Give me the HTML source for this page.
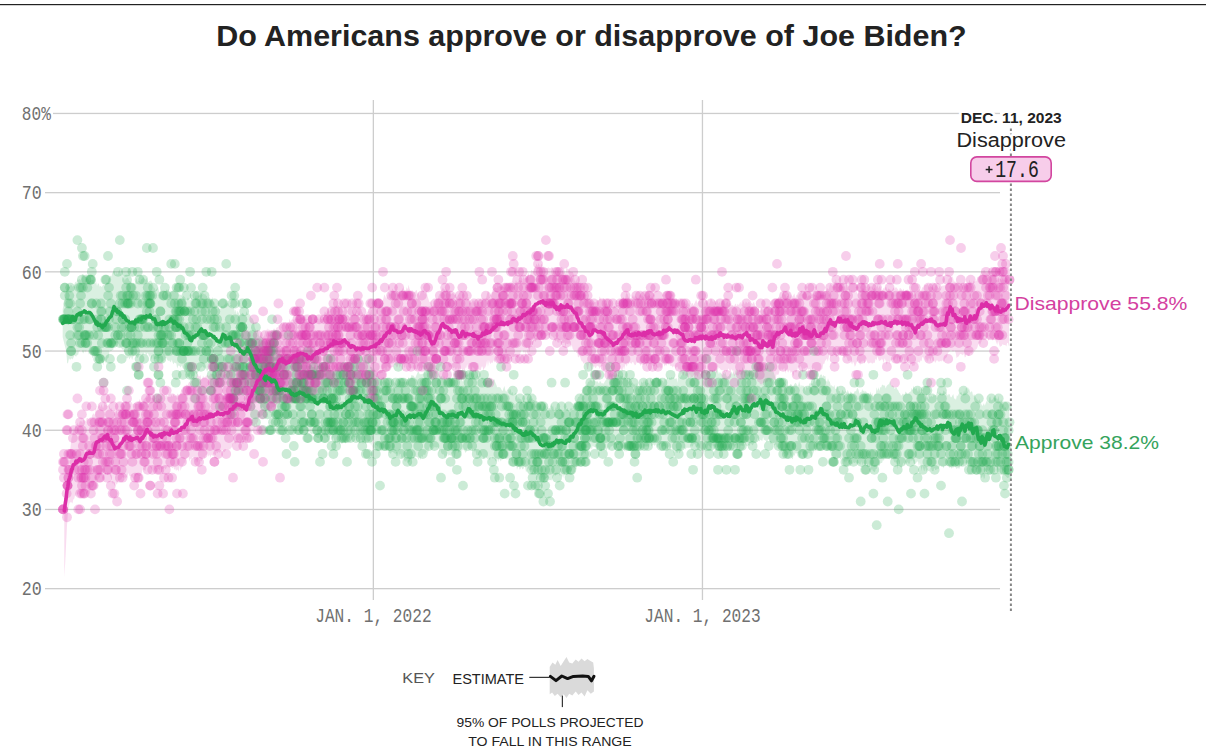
<!DOCTYPE html>
<html><head><meta charset="utf-8"><title>Do Americans approve or disapprove of Joe Biden?</title>
<style>html,body{margin:0;padding:0;background:#fff}svg{display:block}text{font-family:"Liberation Sans",sans-serif}.m{font-family:"Liberation Mono",monospace}circle{r:4.9px}</style></head><body>
<svg width="1206" height="751" viewBox="0 0 1206 751">
<rect width="1206" height="751" fill="#fff"/>
<rect x="0" y="4" width="1206" height="1.2" fill="#222"/>
<text x="591.4" y="45.8" text-anchor="middle" font-weight="bold" font-size="28.6" fill="#222" textLength="750.5" lengthAdjust="spacingAndGlyphs">Do Americans approve or disapprove of Joe Biden?</text>
<rect x="45" y="588.0" width="955" height="1.3" fill="#cdcdcd"/>
<rect x="45" y="508.8" width="955" height="1.3" fill="#cdcdcd"/>
<rect x="45" y="429.6" width="955" height="1.3" fill="#cdcdcd"/>
<rect x="45" y="350.4" width="955" height="1.3" fill="#cdcdcd"/>
<rect x="45" y="271.2" width="955" height="1.3" fill="#cdcdcd"/>
<rect x="45" y="192.0" width="955" height="1.3" fill="#cdcdcd"/>
<rect x="45" y="112.8" width="955" height="1.3" fill="#cdcdcd"/>
<rect x="372.7" y="100" width="1.3" height="500" fill="#cdcdcd"/>
<rect x="701.8" y="100" width="1.3" height="500" fill="#cdcdcd"/>
<path d="M62.7,309.3 63.6,304.8 64.5,300.4 65.4,295.9 66.3,291.5 67.2,287.5 68.1,284.1 69.0,287.3 69.9,286.6 70.8,284.5 71.7,285.6 72.6,286.7 73.5,285.8 74.4,284.5 75.3,281.5 76.2,283.1 77.1,280.0 78.0,279.2 78.9,280.1 79.8,278.8 80.7,280.5 81.6,275.7 82.5,273.9 83.4,274.2 84.3,276.3 85.2,277.0 86.1,276.8 87.0,277.1 87.9,278.6 88.8,279.7 89.7,281.6 90.6,280.3 91.5,280.3 92.4,279.9 93.3,279.4 94.2,282.8 95.2,283.4 96.1,281.5 97.0,286.1 97.9,283.2 98.8,283.8 99.7,286.8 100.6,285.8 101.5,286.9 102.4,286.3 103.3,284.6 104.2,285.6 105.1,284.7 106.0,283.8 106.9,282.5 107.8,282.4 108.7,278.4 109.6,277.6 110.5,275.5 111.4,276.5 112.3,272.8 113.2,272.1 114.1,270.1 115.0,273.0 115.9,275.6 116.8,272.0 117.7,274.8 118.6,271.2 119.5,269.3 120.4,272.7 121.3,274.7 122.2,273.1 123.1,277.9 124.0,278.4 124.9,280.7 125.8,278.6 126.7,278.2 127.6,277.4 128.5,278.8 129.4,281.0 130.3,281.5 131.2,281.8 132.1,284.2 133.0,283.6 133.9,282.7 134.8,283.8 135.7,281.4 136.6,277.8 137.5,282.3 138.4,281.1 139.3,280.5 140.2,282.6 141.1,278.9 142.0,279.6 142.9,277.2 143.8,278.0 144.7,279.1 145.6,279.7 146.5,278.1 147.4,280.8 148.3,282.1 149.2,281.3 150.1,281.0 151.0,280.2 151.9,282.0 152.8,283.7 153.7,287.2 154.6,288.0 155.5,290.8 156.4,289.2 157.3,288.6 158.2,287.1 159.1,292.1 160.1,291.2 161.0,289.1 161.9,292.3 162.8,292.1 163.7,292.1 164.6,295.5 165.5,292.5 166.4,289.0 167.3,291.0 168.2,289.1 169.1,290.4 170.0,292.0 170.9,290.5 171.8,291.2 172.7,290.2 173.6,289.5 174.5,287.6 175.4,291.4 176.3,292.8 177.2,292.3 178.1,293.0 179.0,293.5 179.9,295.0 180.8,294.7 181.7,295.7 182.6,297.5 183.5,295.4 184.4,297.0 185.3,297.7 186.2,302.4 187.1,298.4 188.0,297.4 188.9,298.6 189.8,300.4 190.7,299.4 191.6,297.5 192.5,299.5 193.4,298.7 194.3,301.4 195.2,297.6 196.1,294.8 197.0,298.7 197.9,294.4 198.8,295.9 199.7,295.7 200.6,295.1 201.5,293.7 202.4,292.5 203.3,293.5 204.2,294.5 205.1,293.8 206.0,295.5 206.9,296.0 207.8,300.9 208.7,296.7 209.6,297.4 210.5,299.6 211.4,299.3 212.3,297.1 213.2,301.8 214.1,301.7 215.0,303.4 215.9,306.8 216.8,305.2 217.7,308.9 218.6,306.4 219.5,309.1 220.4,309.3 221.3,306.1 222.2,306.1 223.1,306.7 224.1,304.5 225.0,304.7 225.9,301.0 226.8,304.1 227.7,303.3 228.6,304.1 229.5,306.3 230.4,304.9 231.3,305.5 232.2,308.6 233.1,307.3 234.0,308.1 234.9,312.6 235.8,309.5 236.7,314.7 237.6,310.8 238.5,312.8 239.4,315.0 240.3,313.4 241.2,314.9 242.1,312.7 243.0,312.9 243.9,314.4 244.8,315.7 245.7,314.8 246.6,311.1 247.5,314.3 248.4,313.6 249.3,314.2 250.2,315.3 251.1,317.6 252.0,318.1 252.9,319.2 253.8,321.5 254.7,327.2 255.6,329.4 256.5,330.9 257.4,329.8 258.3,332.7 259.2,337.1 260.1,335.3 261.0,336.4 261.9,337.5 262.8,338.0 263.7,339.3 264.6,340.9 265.5,343.3 266.4,341.1 267.3,342.1 268.2,342.2 269.1,342.6 270.0,343.5 270.9,343.3 271.8,349.3 272.7,342.3 273.6,348.9 274.5,347.5 275.4,345.3 276.3,347.3 277.2,346.5 278.1,348.5 279.0,352.5 279.9,350.4 280.8,354.9 281.7,355.4 282.6,355.4 283.5,355.9 284.4,355.3 285.3,357.0 286.2,355.5 287.1,356.0 288.1,357.3 289.0,354.7 289.9,357.1 290.8,359.6 291.7,354.5 292.6,358.6 293.5,358.5 294.4,356.2 295.3,359.6 296.2,363.1 297.1,356.9 298.0,353.9 298.9,357.1 299.8,361.8 300.7,357.6 301.6,359.9 302.5,360.2 303.4,361.4 304.3,364.6 305.2,364.5 306.1,364.0 307.0,362.9 307.9,365.9 308.8,366.6 309.7,365.6 310.6,365.1 311.5,365.0 312.4,366.9 313.3,366.9 314.2,366.5 315.1,367.8 316.0,369.9 316.9,366.3 317.8,365.8 318.7,366.1 319.6,364.8 320.5,365.5 321.4,364.6 322.3,363.5 323.2,367.0 324.1,365.1 325.0,366.4 325.9,367.6 326.8,365.1 327.7,366.8 328.6,367.4 329.5,367.8 330.4,368.3 331.3,372.2 332.2,374.8 333.1,371.3 334.0,372.5 334.9,371.9 335.8,369.0 336.7,370.8 337.6,369.1 338.5,366.6 339.4,367.9 340.3,369.4 341.2,364.4 342.1,369.1 343.0,365.1 343.9,364.7 344.8,362.8 345.7,365.7 346.6,363.5 347.5,362.1 348.4,362.3 349.3,359.3 350.2,359.1 351.1,356.5 352.0,357.3 353.0,357.1 353.9,354.6 354.8,353.7 355.7,355.1 356.6,355.8 357.5,357.9 358.4,357.9 359.3,355.8 360.2,355.2 361.1,356.7 362.0,355.8 362.9,359.9 363.8,359.9 364.7,361.4 365.6,359.5 366.5,361.4 367.4,361.9 368.3,361.9 369.2,361.8 370.1,366.8 371.0,366.9 371.9,367.3 372.8,369.7 373.7,371.8 374.6,368.1 375.5,375.3 376.4,375.5 377.3,376.9 378.2,375.5 379.1,378.5 380.0,378.5 380.9,379.6 381.8,377.5 382.7,377.8 383.6,376.8 384.5,379.4 385.4,382.0 386.3,381.2 387.2,381.7 388.1,383.7 389.0,381.9 389.9,384.8 390.8,385.4 391.7,385.9 392.6,388.9 393.5,385.5 394.4,382.0 395.3,383.2 396.2,383.6 397.1,385.2 398.0,382.5 398.9,377.7 399.8,380.4 400.7,380.5 401.6,381.9 402.5,381.2 403.4,382.0 404.3,380.9 405.2,382.8 406.1,381.2 407.0,383.0 407.9,378.4 408.8,377.2 409.7,380.0 410.6,378.4 411.5,375.0 412.4,375.5 413.3,375.6 414.2,376.7 415.1,378.1 416.0,376.3 417.0,373.8 417.9,371.8 418.8,372.1 419.7,374.2 420.6,374.2 421.5,374.2 422.4,373.7 423.3,374.4 424.2,372.0 425.1,373.4 426.0,371.6 426.9,370.9 427.8,369.7 428.7,367.7 429.6,365.4 430.5,363.2 431.4,364.4 432.3,362.7 433.2,363.6 434.1,365.8 435.0,363.0 435.9,368.2 436.8,367.2 437.7,371.2 438.6,371.7 439.5,375.2 440.4,376.7 441.3,376.3 442.2,375.5 443.1,379.9 444.0,376.1 444.9,378.9 445.8,380.2 446.7,380.4 447.6,380.3 448.5,377.9 449.4,377.7 450.3,378.2 451.2,379.8 452.1,378.7 453.0,377.2 453.9,380.2 454.8,379.3 455.7,380.0 456.6,375.0 457.5,378.4 458.4,380.1 459.3,377.5 460.2,380.6 461.1,378.7 462.0,379.9 462.9,381.7 463.8,377.5 464.7,380.0 465.6,374.8 466.5,375.3 467.4,374.4 468.3,374.7 469.2,373.2 470.1,372.6 471.0,372.2 471.9,372.5 472.8,373.3 473.7,375.2 474.6,377.6 475.5,379.3 476.4,379.1 477.3,374.1 478.2,376.4 479.1,376.3 480.0,379.7 480.9,378.6 481.9,378.5 482.8,377.9 483.7,381.0 484.6,379.5 485.5,382.3 486.4,381.2 487.3,379.5 488.2,380.5 489.1,380.4 490.0,380.6 490.9,378.4 491.8,379.5 492.7,381.4 493.6,379.6 494.5,379.4 495.4,382.7 496.3,384.8 497.2,387.4 498.1,386.7 499.0,387.6 499.9,387.1 500.8,388.3 501.7,389.9 502.6,391.1 503.5,388.3 504.4,385.9 505.3,390.3 506.2,392.0 507.1,389.9 508.0,389.1 508.9,391.9 509.8,389.0 510.7,389.4 511.6,393.8 512.5,391.7 513.4,394.9 514.3,394.9 515.2,393.2 516.1,392.8 517.0,395.8 517.9,399.5 518.8,396.8 519.7,399.0 520.6,399.2 521.5,399.8 522.4,404.0 523.3,400.6 524.2,401.2 525.1,401.4 526.0,401.6 526.9,402.2 527.8,400.8 528.7,399.6 529.6,398.0 530.5,395.6 531.4,399.6 532.3,398.2 533.2,399.9 534.1,400.1 535.0,401.5 535.9,401.1 536.8,400.6 537.7,402.7 538.6,403.4 539.5,406.2 540.4,404.3 541.3,404.0 542.2,409.5 543.1,406.5 544.0,404.9 544.9,403.1 545.9,406.9 546.8,409.3 547.7,406.4 548.6,408.6 549.5,407.7 550.4,408.1 551.3,404.2 552.2,406.9 553.1,405.4 554.0,410.2 554.9,409.8 555.8,407.1 556.7,407.8 557.6,410.0 558.5,410.5 559.4,407.4 560.3,409.3 561.2,409.3 562.1,411.6 563.0,412.1 563.9,412.4 564.8,409.1 565.7,410.3 566.6,409.2 567.5,408.0 568.4,410.7 569.3,411.3 570.2,409.6 571.1,407.4 572.0,409.7 572.9,407.9 573.8,405.5 574.7,402.5 575.6,405.4 576.5,400.4 577.4,399.1 578.3,396.7 579.2,397.1 580.1,394.0 581.0,394.1 581.9,392.5 582.8,389.2 583.7,387.0 584.6,387.2 585.5,385.0 586.4,385.6 587.3,384.0 588.2,381.3 589.1,382.2 590.0,379.2 590.9,380.5 591.8,380.4 592.7,381.8 593.6,379.1 594.5,379.9 595.4,380.8 596.3,381.7 597.2,381.0 598.1,382.2 599.0,383.4 599.9,380.9 600.8,381.8 601.7,383.4 602.6,383.3 603.5,383.7 604.4,382.3 605.3,380.8 606.2,379.6 607.1,377.4 608.0,375.9 608.9,373.4 609.8,373.7 610.8,372.3 611.7,374.4 612.6,373.8 613.5,375.5 614.4,374.8 615.3,375.9 616.2,373.0 617.1,374.5 618.0,374.4 618.9,375.0 619.8,378.6 620.7,375.0 621.6,376.8 622.5,375.4 623.4,378.5 624.3,377.2 625.2,376.6 626.1,379.3 627.0,380.5 627.9,377.4 628.8,382.3 629.7,376.9 630.6,381.8 631.5,383.9 632.4,382.3 633.3,383.4 634.2,385.1 635.1,383.2 636.0,388.0 636.9,382.6 637.8,387.6 638.7,389.2 639.6,389.1 640.5,385.2 641.4,381.2 642.3,383.0 643.2,382.0 644.1,379.0 645.0,382.3 645.9,379.3 646.8,383.2 647.7,382.4 648.6,383.1 649.5,384.4 650.4,377.9 651.3,381.5 652.2,380.7 653.1,380.7 654.0,379.9 654.9,378.6 655.8,378.1 656.7,377.6 657.6,377.7 658.5,377.4 659.4,380.7 660.3,378.4 661.2,378.4 662.1,380.9 663.0,380.5 663.9,382.9 664.8,377.6 665.7,380.0 666.6,379.2 667.5,376.9 668.4,380.1 669.3,377.6 670.2,378.2 671.1,377.8 672.0,376.8 672.9,379.0 673.8,376.7 674.8,379.3 675.7,378.6 676.6,378.3 677.5,382.7 678.4,374.4 679.3,377.5 680.2,377.4 681.1,376.1 682.0,374.7 682.9,371.6 683.8,372.5 684.7,370.3 685.6,374.7 686.5,371.5 687.4,371.6 688.3,368.9 689.2,365.4 690.1,370.0 691.0,371.1 691.9,369.1 692.8,369.7 693.7,370.0 694.6,370.9 695.5,371.1 696.4,369.4 697.3,369.6 698.2,370.7 699.1,372.3 700.0,372.9 700.9,374.1 701.8,370.5 702.7,371.7 703.6,370.4 704.5,369.4 705.4,371.1 706.3,373.0 707.2,371.5 708.1,370.9 709.0,371.1 709.9,372.7 710.8,374.5 711.7,371.1 712.6,370.8 713.5,371.7 714.4,368.9 715.3,372.3 716.2,370.9 717.1,368.3 718.0,371.0 718.9,374.3 719.8,372.1 720.7,373.0 721.6,374.2 722.5,375.0 723.4,372.2 724.3,374.3 725.2,371.5 726.1,374.9 727.0,377.0 727.9,376.6 728.8,376.0 729.7,374.0 730.6,373.5 731.5,371.4 732.4,374.5 733.3,371.5 734.2,374.8 735.1,373.1 736.0,368.7 736.9,370.7 737.8,369.6 738.8,371.9 739.7,369.2 740.6,370.4 741.5,370.9 742.4,366.9 743.3,370.1 744.2,369.4 745.1,372.0 746.0,368.6 746.9,374.3 747.8,373.2 748.7,371.0 749.6,370.1 750.5,371.2 751.4,371.6 752.3,374.6 753.2,372.3 754.1,372.8 755.0,372.1 755.9,371.1 756.8,367.3 757.7,365.8 758.6,368.7 759.5,372.2 760.4,368.6 761.3,364.8 762.2,367.1 763.1,369.3 764.0,368.6 764.9,369.4 765.8,367.2 766.7,368.7 767.6,365.0 768.5,369.8 769.4,371.0 770.3,369.6 771.2,370.9 772.1,371.8 773.0,371.2 773.9,372.7 774.8,376.0 775.7,378.9 776.6,380.0 777.5,379.4 778.4,379.8 779.3,380.3 780.2,379.1 781.1,379.0 782.0,378.5 782.9,383.2 783.8,382.1 784.7,382.8 785.6,384.3 786.5,387.3 787.4,384.4 788.3,386.6 789.2,387.3 790.1,384.3 791.0,384.3 791.9,385.0 792.8,386.2 793.7,385.5 794.6,383.8 795.5,382.7 796.4,383.7 797.3,385.7 798.2,385.6 799.1,380.9 800.0,384.5 800.9,387.1 801.8,385.0 802.7,386.0 803.7,385.7 804.6,387.1 805.5,391.4 806.4,386.6 807.3,387.7 808.2,388.0 809.1,383.8 810.0,383.2 810.9,383.4 811.8,383.4 812.7,383.4 813.6,380.3 814.5,378.0 815.4,382.5 816.3,379.8 817.2,377.0 818.1,380.5 819.0,378.2 819.9,375.5 820.8,374.5 821.7,374.6 822.6,377.0 823.5,374.9 824.4,376.2 825.3,376.1 826.2,380.7 827.1,382.0 828.0,378.2 828.9,381.4 829.8,381.5 830.7,385.8 831.6,385.3 832.5,386.2 833.4,387.1 834.3,384.9 835.2,389.1 836.1,388.8 837.0,386.1 837.9,386.2 838.8,391.1 839.7,391.0 840.6,393.9 841.5,392.9 842.4,389.4 843.3,391.0 844.2,393.0 845.1,391.0 846.0,391.3 846.9,392.4 847.8,389.7 848.7,392.4 849.6,394.8 850.5,391.4 851.4,392.3 852.3,394.1 853.2,394.2 854.1,392.4 855.0,390.8 855.9,391.6 856.8,388.9 857.7,387.8 858.6,390.2 859.5,394.1 860.4,391.9 861.3,392.6 862.2,389.0 863.1,391.3 864.0,390.2 864.9,392.3 865.8,390.8 866.7,392.5 867.7,392.9 868.6,392.9 869.5,395.1 870.4,391.4 871.3,395.1 872.2,393.0 873.1,396.7 874.0,394.7 874.9,394.1 875.8,393.8 876.7,387.2 877.6,391.0 878.5,387.2 879.4,391.0 880.3,387.0 881.2,387.4 882.1,384.5 883.0,385.2 883.9,385.6 884.8,385.5 885.7,388.5 886.6,386.0 887.5,385.1 888.4,384.6 889.3,383.2 890.2,380.6 891.1,386.0 892.0,385.2 892.9,385.8 893.8,386.4 894.7,389.2 895.6,387.4 896.5,387.5 897.4,389.6 898.3,390.4 899.2,392.8 900.1,393.6 901.0,395.8 901.9,394.9 902.8,393.4 903.7,394.6 904.6,394.4 905.5,391.5 906.4,392.4 907.3,394.1 908.2,393.9 909.1,392.2 910.0,392.3 910.9,390.9 911.8,387.7 912.7,390.6 913.6,385.4 914.5,388.6 915.4,388.9 916.3,387.5 917.2,390.2 918.1,392.3 919.0,387.3 919.9,390.9 920.8,392.3 921.7,392.6 922.6,392.0 923.5,393.8 924.4,397.2 925.3,400.1 926.2,393.3 927.1,395.3 928.0,399.5 928.9,398.6 929.8,395.3 930.7,397.2 931.6,395.8 932.6,397.1 933.5,395.0 934.4,395.4 935.3,394.9 936.2,394.7 937.1,391.0 938.0,392.4 938.9,395.0 939.8,391.6 940.7,393.2 941.6,395.5 942.5,394.6 943.4,390.4 944.3,390.9 945.2,393.1 946.1,391.5 947.0,393.9 947.9,395.7 948.8,393.8 949.7,394.6 950.6,397.2 951.5,397.3 952.4,395.6 953.3,393.9 954.2,398.7 955.1,398.5 956.0,399.9 956.9,395.0 957.8,396.3 958.7,393.7 959.6,393.1 960.5,392.4 961.4,392.2 962.3,395.2 963.2,394.6 964.1,390.3 965.0,393.1 965.9,387.9 966.8,388.1 967.7,393.0 968.6,387.6 969.5,389.7 970.4,392.7 971.3,391.2 972.2,391.7 973.1,396.1 974.0,394.0 974.9,395.5 975.8,397.3 976.7,398.9 977.6,400.0 978.5,400.9 979.4,399.3 980.3,402.2 981.2,403.4 982.1,406.0 983.0,405.0 983.9,403.3 984.8,405.7 985.7,403.3 986.6,400.9 987.5,401.7 988.4,403.5 989.3,397.8 990.2,396.3 991.1,400.5 992.0,399.4 992.9,399.4 993.8,396.4 994.7,397.9 995.6,398.2 996.6,398.7 997.5,399.6 998.4,395.8 999.3,400.7 1000.2,401.6 1001.1,399.6 1002.0,401.4 1002.9,404.1 1003.8,404.5 1004.7,408.0 1005.6,407.0 1006.5,409.7 1007.4,411.5 1008.3,408.8 1009.2,411.6 1009.2,477.3 1008.3,477.8 1007.4,477.9 1006.5,476.9 1005.6,476.0 1004.7,475.5 1003.8,470.2 1002.9,472.9 1002.0,468.3 1001.1,469.8 1000.2,466.9 999.3,467.6 998.4,466.1 997.5,470.9 996.6,467.5 995.6,467.0 994.7,466.3 993.8,465.3 992.9,467.4 992.0,466.0 991.1,466.5 990.2,467.9 989.3,470.7 988.4,471.0 987.5,469.9 986.6,472.2 985.7,470.7 984.8,477.6 983.9,479.4 983.0,474.7 982.1,477.4 981.2,477.7 980.3,475.7 979.4,471.5 978.5,472.5 977.6,468.2 976.7,469.7 975.8,468.3 974.9,466.6 974.0,468.0 973.1,467.7 972.2,465.9 971.3,466.5 970.4,464.4 969.5,461.9 968.6,467.7 967.7,461.9 966.8,463.3 965.9,463.1 965.0,464.8 964.1,462.5 963.2,466.2 962.3,463.7 961.4,466.7 960.5,462.9 959.6,468.4 958.7,468.4 957.8,467.7 956.9,469.0 956.0,468.2 955.1,466.0 954.2,464.0 953.3,468.1 952.4,467.2 951.5,468.7 950.6,466.9 949.7,468.1 948.8,466.6 947.9,465.8 947.0,466.3 946.1,465.3 945.2,466.3 944.3,465.7 943.4,468.4 942.5,465.7 941.6,466.4 940.7,465.2 939.8,466.0 938.9,468.6 938.0,469.4 937.1,468.6 936.2,469.9 935.3,470.0 934.4,467.7 933.5,471.0 932.6,471.3 931.6,470.2 930.7,466.3 929.8,471.8 928.9,471.0 928.0,471.0 927.1,469.5 926.2,471.8 925.3,467.5 924.4,471.5 923.5,469.8 922.6,465.8 921.7,471.1 920.8,466.7 919.9,462.6 919.0,466.5 918.1,462.1 917.2,461.2 916.3,462.8 915.4,464.0 914.5,464.8 913.6,462.7 912.7,459.4 911.8,461.6 910.9,458.7 910.0,463.0 909.1,463.9 908.2,463.3 907.3,461.9 906.4,464.3 905.5,461.8 904.6,464.9 903.7,462.4 902.8,464.6 901.9,467.4 901.0,467.5 900.1,466.0 899.2,465.6 898.3,459.9 897.4,469.4 896.5,462.2 895.6,462.6 894.7,462.5 893.8,461.0 892.9,458.1 892.0,459.4 891.1,458.6 890.2,457.3 889.3,459.6 888.4,458.2 887.5,456.4 886.6,457.1 885.7,458.4 884.8,457.3 883.9,461.1 883.0,459.5 882.1,463.1 881.2,462.9 880.3,463.6 879.4,465.9 878.5,465.5 877.6,465.0 876.7,468.9 875.8,469.0 874.9,472.2 874.0,471.5 873.1,471.2 872.2,469.2 871.3,470.2 870.4,465.1 869.5,467.3 868.6,463.3 867.7,467.5 866.7,463.5 865.8,464.7 864.9,465.3 864.0,464.8 863.1,462.7 862.2,465.4 861.3,461.2 860.4,464.8 859.5,463.9 858.6,463.2 857.7,462.7 856.8,464.1 855.9,462.1 855.0,462.9 854.1,462.9 853.2,462.2 852.3,464.5 851.4,463.4 850.5,464.4 849.6,461.6 848.7,463.5 847.8,460.7 846.9,459.9 846.0,462.9 845.1,460.3 844.2,462.9 843.3,459.3 842.4,460.9 841.5,457.6 840.6,459.8 839.7,458.1 838.8,457.8 837.9,457.9 837.0,460.3 836.1,456.3 835.2,459.1 834.3,459.2 833.4,457.4 832.5,456.2 831.6,457.5 830.7,452.8 829.8,450.6 828.9,449.1 828.0,450.3 827.1,449.4 826.2,450.2 825.3,448.7 824.4,441.6 823.5,443.9 822.6,443.0 821.7,446.4 820.8,445.2 819.9,445.7 819.0,445.5 818.1,443.9 817.2,445.9 816.3,447.2 815.4,451.4 814.5,449.0 813.6,452.5 812.7,454.7 811.8,457.9 810.9,456.4 810.0,453.3 809.1,453.2 808.2,453.0 807.3,454.4 806.4,453.0 805.5,455.6 804.6,458.9 803.7,454.4 802.7,455.3 801.8,451.3 800.9,452.8 800.0,457.2 799.1,455.5 798.2,453.0 797.3,453.2 796.4,453.5 795.5,453.0 794.6,456.0 793.7,454.5 792.8,459.3 791.9,458.7 791.0,456.2 790.1,454.1 789.2,452.0 788.3,455.3 787.4,454.3 786.5,456.2 785.6,456.1 784.7,452.3 783.8,454.5 782.9,450.3 782.0,451.8 781.1,450.9 780.2,447.5 779.3,448.4 778.4,448.7 777.5,447.0 776.6,447.4 775.7,444.0 774.8,445.7 773.9,444.7 773.0,444.2 772.1,442.3 771.2,443.8 770.3,443.2 769.4,439.3 768.5,438.7 767.6,441.2 766.7,442.3 765.8,440.9 764.9,439.8 764.0,440.2 763.1,437.1 762.2,441.3 761.3,440.3 760.4,439.8 759.5,441.5 758.6,440.4 757.7,437.8 756.8,440.8 755.9,443.2 755.0,442.6 754.1,442.7 753.2,444.5 752.3,445.4 751.4,443.7 750.5,443.2 749.6,446.1 748.7,445.0 747.8,446.2 746.9,445.6 746.0,446.1 745.1,443.8 744.2,441.7 743.3,446.3 742.4,445.6 741.5,445.6 740.6,445.4 739.7,450.1 738.8,442.9 737.8,445.6 736.9,443.2 736.0,446.0 735.1,444.7 734.2,447.9 733.3,444.9 732.4,445.7 731.5,448.3 730.6,449.6 729.7,451.0 728.8,449.2 727.9,447.3 727.0,450.5 726.1,450.3 725.2,450.5 724.3,450.3 723.4,448.6 722.5,447.7 721.6,448.6 720.7,446.0 719.8,449.4 718.9,446.7 718.0,447.3 717.1,443.8 716.2,447.1 715.3,447.8 714.4,443.8 713.5,446.2 712.6,445.8 711.7,443.7 710.8,447.9 709.9,446.8 709.0,445.9 708.1,445.0 707.2,448.7 706.3,450.4 705.4,451.8 704.5,451.4 703.6,454.4 702.7,448.5 701.8,450.1 700.9,449.3 700.0,447.6 699.1,450.1 698.2,445.2 697.3,447.1 696.4,447.3 695.5,446.6 694.6,444.0 693.7,444.0 692.8,446.2 691.9,447.1 691.0,445.2 690.1,447.3 689.2,448.1 688.3,447.7 687.4,447.7 686.5,447.7 685.6,449.4 684.7,448.2 683.8,448.5 682.9,447.6 682.0,449.6 681.1,450.8 680.2,452.3 679.3,453.5 678.4,450.4 677.5,453.0 676.6,452.7 675.7,451.0 674.8,450.4 673.8,453.2 672.9,451.0 672.0,449.0 671.1,447.0 670.2,451.0 669.3,446.1 668.4,447.4 667.5,450.0 666.6,447.2 665.7,449.0 664.8,445.9 663.9,446.4 663.0,446.2 662.1,448.0 661.2,444.3 660.3,443.7 659.4,445.7 658.5,444.5 657.6,447.1 656.7,447.9 655.8,444.3 654.9,445.8 654.0,445.2 653.1,444.2 652.2,445.5 651.3,446.5 650.4,442.4 649.5,444.7 648.6,447.1 647.7,446.2 646.8,446.5 645.9,446.2 645.0,446.9 644.1,444.9 643.2,448.4 642.3,447.6 641.4,448.1 640.5,449.8 639.6,446.5 638.7,450.7 637.8,448.9 636.9,451.3 636.0,447.8 635.1,450.8 634.2,448.5 633.3,448.4 632.4,448.7 631.5,446.4 630.6,452.2 629.7,450.3 628.8,447.9 627.9,448.9 627.0,447.4 626.1,451.9 625.2,449.9 624.3,451.6 623.4,447.9 622.5,448.4 621.6,447.9 620.7,446.8 619.8,443.7 618.9,445.0 618.0,445.1 617.1,444.5 616.2,449.1 615.3,442.8 614.4,444.7 613.5,444.4 612.6,445.7 611.7,446.6 610.8,446.6 609.8,449.2 608.9,448.6 608.0,447.1 607.1,449.3 606.2,450.9 605.3,448.4 604.4,449.7 603.5,449.5 602.6,448.4 601.7,451.2 600.8,450.6 599.9,450.7 599.0,449.5 598.1,447.2 597.2,450.0 596.3,445.9 595.4,447.2 594.5,446.9 593.6,446.7 592.7,445.7 591.8,449.7 590.9,446.0 590.0,449.6 589.1,443.7 588.2,449.8 587.3,446.9 586.4,449.2 585.5,454.5 584.6,452.7 583.7,453.2 582.8,454.3 581.9,455.7 581.0,459.4 580.1,458.9 579.2,458.8 578.3,461.5 577.4,462.5 576.5,468.9 575.6,469.4 574.7,467.8 573.8,467.8 572.9,466.6 572.0,469.7 571.1,470.9 570.2,472.0 569.3,468.9 568.4,473.2 567.5,472.6 566.6,473.3 565.7,471.8 564.8,473.9 563.9,477.9 563.0,473.4 562.1,477.5 561.2,475.9 560.3,474.3 559.4,475.8 558.5,472.8 557.6,473.9 556.7,473.8 555.8,475.5 554.9,475.8 554.0,474.5 553.1,477.1 552.2,478.7 551.3,480.5 550.4,480.0 549.5,479.9 548.6,479.3 547.7,477.1 546.8,478.0 545.9,478.2 544.9,481.1 544.0,479.1 543.1,481.9 542.2,476.5 541.3,480.9 540.4,475.1 539.5,474.1 538.6,476.0 537.7,477.2 536.8,474.0 535.9,474.8 535.0,473.2 534.1,472.8 533.2,471.6 532.3,474.4 531.4,469.7 530.5,470.6 529.6,470.2 528.7,469.0 527.8,467.6 526.9,471.5 526.0,471.7 525.1,467.3 524.2,466.6 523.3,469.0 522.4,469.2 521.5,467.1 520.6,468.7 519.7,469.8 518.8,466.8 517.9,466.9 517.0,470.1 516.1,463.8 515.2,463.9 514.3,461.5 513.4,459.4 512.5,464.3 511.6,461.1 510.7,458.6 509.8,460.0 508.9,459.9 508.0,457.8 507.1,460.0 506.2,458.8 505.3,459.1 504.4,456.5 503.5,458.7 502.6,459.4 501.7,459.3 500.8,461.6 499.9,459.4 499.0,459.2 498.1,462.3 497.2,458.0 496.3,461.7 495.4,461.0 494.5,458.8 493.6,458.2 492.7,458.8 491.8,457.6 490.9,456.3 490.0,460.3 489.1,459.2 488.2,458.1 487.3,459.4 486.4,457.4 485.5,456.8 484.6,457.9 483.7,459.0 482.8,456.4 481.9,456.8 480.9,454.5 480.0,451.3 479.1,455.1 478.2,455.0 477.3,455.4 476.4,454.8 475.5,450.7 474.6,451.7 473.7,448.6 472.8,452.6 471.9,448.9 471.0,447.7 470.1,448.8 469.2,448.6 468.3,449.0 467.4,447.9 466.5,451.6 465.6,453.0 464.7,450.9 463.8,449.8 462.9,450.5 462.0,449.3 461.1,452.7 460.2,451.8 459.3,451.6 458.4,453.0 457.5,449.2 456.6,450.4 455.7,452.0 454.8,457.9 453.9,454.4 453.0,451.5 452.1,453.5 451.2,455.3 450.3,455.5 449.4,454.9 448.5,455.7 447.6,453.1 446.7,455.8 445.8,455.7 444.9,458.4 444.0,454.8 443.1,454.3 442.2,454.3 441.3,453.0 440.4,449.7 439.5,451.7 438.6,447.9 437.7,447.1 436.8,447.7 435.9,447.0 435.0,447.7 434.1,447.1 433.2,443.1 432.3,447.1 431.4,448.5 430.5,446.9 429.6,446.2 428.7,450.1 427.8,454.3 426.9,451.2 426.0,452.5 425.1,455.3 424.2,454.5 423.3,454.8 422.4,457.6 421.5,455.8 420.6,459.9 419.7,456.9 418.8,460.0 417.9,458.0 417.0,457.0 416.0,456.9 415.1,456.6 414.2,456.7 413.3,458.8 412.4,457.6 411.5,460.3 410.6,459.0 409.7,461.9 408.8,461.7 407.9,463.4 407.0,462.0 406.1,459.8 405.2,462.0 404.3,460.3 403.4,456.5 402.5,458.0 401.6,458.4 400.7,453.9 399.8,453.8 398.9,456.7 398.0,451.5 397.1,454.6 396.2,452.8 395.3,454.6 394.4,453.0 393.5,452.5 392.6,451.9 391.7,451.8 390.8,454.2 389.9,452.3 389.0,453.3 388.1,450.4 387.2,448.6 386.3,451.1 385.4,448.7 384.5,448.8 383.6,447.2 382.7,449.7 381.8,448.8 380.9,448.3 380.0,445.0 379.1,443.4 378.2,447.9 377.3,446.0 376.4,445.3 375.5,445.2 374.6,443.2 373.7,440.2 372.8,439.0 371.9,445.9 371.0,441.2 370.1,444.7 369.2,440.8 368.3,441.4 367.4,440.5 366.5,439.2 365.6,444.2 364.7,442.3 363.8,443.0 362.9,443.4 362.0,441.9 361.1,440.7 360.2,441.7 359.3,443.7 358.4,439.4 357.5,437.5 356.6,440.9 355.7,437.1 354.8,437.2 353.9,436.6 353.0,438.2 352.0,439.7 351.1,435.7 350.2,435.7 349.3,438.3 348.4,438.7 347.5,436.7 346.6,438.1 345.7,443.5 344.8,442.9 343.9,439.8 343.0,442.7 342.1,443.8 341.2,443.6 340.3,442.0 339.4,444.4 338.5,441.0 337.6,442.6 336.7,441.0 335.8,441.9 334.9,444.7 334.0,439.7 333.1,437.0 332.2,440.8 331.3,434.7 330.4,436.1 329.5,437.4 328.6,434.0 327.7,438.1 326.8,436.9 325.9,434.5 325.0,436.6 324.1,434.9 323.2,433.5 322.3,434.4 321.4,437.1 320.5,438.6 319.6,435.2 318.7,438.2 317.8,438.1 316.9,437.5 316.0,436.4 315.1,436.2 314.2,435.0 313.3,433.9 312.4,433.7 311.5,434.0 310.6,433.2 309.7,432.3 308.8,430.6 307.9,433.3 307.0,430.7 306.1,429.8 305.2,429.7 304.3,430.8 303.4,428.1 302.5,428.4 301.6,429.5 300.7,433.0 299.8,429.5 298.9,429.6 298.0,432.2 297.1,427.9 296.2,431.4 295.3,430.6 294.4,430.5 293.5,431.4 292.6,430.5 291.7,428.7 290.8,430.0 289.9,425.8 289.0,426.4 288.1,427.2 287.1,426.6 286.2,428.1 285.3,424.8 284.4,426.2 283.5,425.0 282.6,426.3 281.7,425.0 280.8,423.3 279.9,424.3 279.0,424.2 278.1,419.6 277.2,422.0 276.3,417.4 275.4,417.9 274.5,416.6 273.6,417.1 272.7,415.2 271.8,410.8 270.9,413.4 270.0,412.5 269.1,412.3 268.2,411.0 267.3,410.0 266.4,411.1 265.5,411.3 264.6,409.3 263.7,408.6 262.8,406.8 261.9,407.9 261.0,408.6 260.1,404.7 259.2,401.9 258.3,403.7 257.4,401.3 256.5,397.6 255.6,396.7 254.7,393.8 253.8,392.8 252.9,393.9 252.0,391.4 251.1,388.5 250.2,388.7 249.3,384.4 248.4,387.2 247.5,387.6 246.6,384.8 245.7,386.0 244.8,385.8 243.9,384.5 243.0,380.7 242.1,385.5 241.2,384.5 240.3,382.0 239.4,381.9 238.5,378.2 237.6,380.0 236.7,381.3 235.8,377.2 234.9,378.9 234.0,377.0 233.1,379.0 232.2,376.9 231.3,377.3 230.4,377.5 229.5,375.0 228.6,372.3 227.7,371.7 226.8,371.9 225.9,372.6 225.0,373.5 224.1,372.3 223.1,370.8 222.2,373.4 221.3,374.8 220.4,376.4 219.5,375.0 218.6,376.5 217.7,372.3 216.8,375.8 215.9,377.5 215.0,369.4 214.1,373.9 213.2,371.0 212.3,370.6 211.4,370.7 210.5,371.2 209.6,371.1 208.7,368.6 207.8,370.1 206.9,371.6 206.0,367.5 205.1,369.2 204.2,367.3 203.3,367.6 202.4,366.0 201.5,367.5 200.6,367.7 199.7,370.5 198.8,371.2 197.9,372.5 197.0,373.4 196.1,374.3 195.2,371.7 194.3,375.2 193.4,376.6 192.5,376.1 191.6,378.4 190.7,373.2 189.8,376.5 188.9,376.3 188.0,377.7 187.1,376.2 186.2,371.2 185.3,373.1 184.4,371.3 183.5,368.8 182.6,368.0 181.7,365.2 180.8,367.6 179.9,366.5 179.0,365.6 178.1,365.7 177.2,368.4 176.3,363.3 175.4,363.3 174.5,362.2 173.6,364.2 172.7,362.7 171.8,359.6 170.9,362.2 170.0,361.6 169.1,360.3 168.2,360.9 167.3,359.7 166.4,358.1 165.5,357.9 164.6,360.1 163.7,361.0 162.8,363.7 161.9,361.2 161.0,363.4 160.1,358.5 159.1,357.8 158.2,359.4 157.3,357.0 156.4,358.4 155.5,358.9 154.6,359.5 153.7,358.8 152.8,354.6 151.9,359.8 151.0,357.7 150.1,355.2 149.2,357.1 148.3,353.7 147.4,353.0 146.5,354.9 145.6,353.7 144.7,352.2 143.8,354.4 142.9,355.1 142.0,355.0 141.1,353.1 140.2,355.0 139.3,355.1 138.4,356.8 137.5,357.9 136.6,357.6 135.7,354.7 134.8,354.3 133.9,355.5 133.0,357.3 132.1,360.1 131.2,356.8 130.3,357.7 129.4,359.6 128.5,356.9 127.6,358.2 126.7,358.6 125.8,357.2 124.9,352.0 124.0,352.1 123.1,348.7 122.2,349.9 121.3,347.5 120.4,347.0 119.5,346.8 118.6,343.8 117.7,343.6 116.8,342.5 115.9,343.9 115.0,343.2 114.1,344.8 113.2,350.0 112.3,349.9 111.4,351.0 110.5,351.3 109.6,349.9 108.7,357.5 107.8,358.0 106.9,359.8 106.0,363.4 105.1,361.3 104.2,358.9 103.3,365.3 102.4,362.5 101.5,361.1 100.6,361.2 99.7,362.0 98.8,362.4 97.9,357.6 97.0,357.5 96.1,356.0 95.2,357.0 94.2,355.9 93.3,357.0 92.4,358.3 91.5,353.5 90.6,353.8 89.7,353.0 88.8,354.4 87.9,349.6 87.0,351.8 86.1,349.9 85.2,352.5 84.3,350.2 83.4,353.4 82.5,352.2 81.6,350.3 80.7,350.1 79.8,351.2 78.9,351.3 78.0,355.6 77.1,354.5 76.2,356.7 75.3,355.9 74.4,355.3 73.5,357.6 72.6,359.5 71.7,358.2 70.8,359.3 69.9,359.8 69.0,358.2 68.1,362.7 67.2,363.4 66.3,351.5 65.4,347.9 64.5,344.4 63.6,340.8 62.7,337.3Z" fill="#22a94f" fill-opacity="0.17"/>
<path d="M64.3,504.9 65.2,496.6 66.1,488.2 67.0,479.6 67.9,470.0 68.8,461.5 69.7,453.8 70.6,446.3 71.5,438.2 72.4,435.4 73.3,427.4 74.2,430.9 75.1,426.4 76.0,423.8 76.9,425.3 77.8,422.4 78.7,425.7 79.6,421.6 80.5,421.2 81.4,421.1 82.3,423.0 83.2,419.1 84.1,420.8 85.0,420.2 85.9,421.5 86.8,418.0 87.7,418.0 88.6,419.5 89.5,418.7 90.4,417.6 91.3,418.9 92.2,415.1 93.1,414.1 94.0,413.3 94.9,415.3 95.8,407.7 96.8,410.7 97.7,407.2 98.6,406.3 99.5,404.6 100.4,407.4 101.3,404.0 102.2,406.2 103.1,408.3 104.0,405.0 104.9,402.2 105.8,404.9 106.7,405.2 107.6,406.5 108.5,404.2 109.4,405.9 110.3,408.9 111.2,407.7 112.1,410.6 113.0,411.9 113.9,410.1 114.8,410.9 115.7,414.1 116.6,409.4 117.5,413.9 118.4,411.2 119.3,411.2 120.2,409.6 121.1,408.9 122.0,408.3 122.9,405.8 123.8,404.1 124.7,405.7 125.6,401.5 126.5,401.7 127.4,403.4 128.3,401.6 129.2,401.3 130.1,400.5 131.0,401.8 131.9,402.8 132.8,404.5 133.7,403.6 134.6,402.9 135.5,402.9 136.4,404.0 137.3,404.0 138.2,403.7 139.1,400.5 140.0,398.7 140.9,403.9 141.8,404.5 142.7,403.8 143.6,399.6 144.5,398.4 145.4,397.6 146.3,397.8 147.2,397.4 148.1,395.7 149.0,392.0 149.9,396.5 150.8,395.7 151.7,398.4 152.6,398.0 153.5,399.4 154.4,395.7 155.3,401.0 156.2,399.8 157.1,401.1 158.0,399.3 158.9,398.0 159.8,399.6 160.7,395.8 161.7,395.2 162.6,394.5 163.5,395.5 164.4,394.5 165.3,395.7 166.2,395.6 167.1,395.7 168.0,397.1 168.9,396.9 169.8,396.7 170.7,396.7 171.6,394.8 172.5,396.9 173.4,393.9 174.3,395.8 175.2,396.2 176.1,395.6 177.0,394.7 177.9,393.4 178.8,395.8 179.7,395.3 180.6,392.6 181.5,388.8 182.4,391.6 183.3,387.5 184.2,385.2 185.1,388.1 186.0,384.3 186.9,385.5 187.8,384.8 188.7,382.6 189.6,382.0 190.5,383.5 191.4,380.3 192.3,380.5 193.2,376.4 194.1,376.8 195.0,378.5 195.9,378.5 196.8,377.1 197.7,373.2 198.6,376.2 199.5,376.4 200.4,375.1 201.3,379.7 202.2,379.1 203.1,375.7 204.0,377.7 204.9,376.9 205.8,376.6 206.7,375.3 207.6,374.7 208.5,376.2 209.4,375.6 210.3,373.2 211.2,373.9 212.1,374.2 213.0,373.5 213.9,374.0 214.8,375.2 215.7,370.3 216.6,376.3 217.5,373.7 218.4,373.4 219.3,374.3 220.2,372.6 221.1,367.9 222.0,369.7 222.9,374.3 223.8,375.5 224.7,373.1 225.7,373.7 226.6,373.7 227.5,371.1 228.4,371.6 229.3,371.3 230.2,367.5 231.1,367.7 232.0,368.3 232.9,365.5 233.8,366.6 234.7,368.3 235.6,367.3 236.5,367.3 237.4,368.2 238.3,369.4 239.2,368.4 240.1,370.3 241.0,371.2 241.9,369.2 242.8,368.8 243.7,370.8 244.6,371.7 245.5,370.0 246.4,371.6 247.3,369.7 248.2,367.3 249.1,364.0 250.0,360.1 250.9,359.2 251.8,359.3 252.7,357.4 253.6,353.1 254.5,349.8 255.4,350.2 256.3,347.1 257.2,345.7 258.1,345.5 259.0,344.5 259.9,344.6 260.8,342.8 261.7,340.0 262.6,336.9 263.5,336.7 264.4,335.2 265.3,330.7 266.2,332.2 267.1,328.3 268.0,330.4 268.9,329.0 269.8,330.9 270.7,331.4 271.6,331.6 272.5,332.5 273.4,328.9 274.3,328.5 275.2,330.3 276.1,328.5 277.0,327.1 277.9,327.3 278.8,324.7 279.7,325.8 280.6,323.7 281.5,322.2 282.4,323.7 283.3,322.6 284.2,322.9 285.1,326.1 286.0,323.6 286.9,323.2 287.8,322.6 288.7,323.0 289.6,318.5 290.6,321.7 291.5,319.7 292.4,319.8 293.3,319.3 294.2,320.4 295.1,317.9 296.0,321.4 296.9,317.6 297.8,318.7 298.7,318.7 299.6,318.7 300.5,317.0 301.4,318.3 302.3,316.5 303.2,317.5 304.1,317.4 305.0,320.0 305.9,318.6 306.8,319.0 307.7,322.1 308.6,321.0 309.5,320.2 310.4,322.6 311.3,320.4 312.2,324.5 313.1,323.6 314.0,320.8 314.9,318.6 315.8,321.5 316.7,319.4 317.6,321.5 318.5,317.1 319.4,321.5 320.3,316.8 321.2,319.1 322.1,319.0 323.0,318.0 323.9,315.7 324.8,311.3 325.7,312.6 326.6,313.1 327.5,311.8 328.4,309.7 329.3,312.3 330.2,309.1 331.1,308.2 332.0,308.6 332.9,308.0 333.8,308.4 334.7,306.6 335.6,306.5 336.5,305.2 337.4,306.4 338.3,304.9 339.2,305.9 340.1,307.2 341.0,307.5 341.9,305.0 342.8,310.5 343.7,310.9 344.6,306.6 345.5,306.9 346.4,307.2 347.3,305.3 348.2,306.8 349.1,306.7 350.0,308.1 350.9,308.5 351.8,308.3 352.7,311.0 353.6,313.1 354.6,314.7 355.5,312.0 356.4,315.1 357.3,314.4 358.2,314.5 359.1,310.5 360.0,314.4 360.9,314.8 361.8,311.9 362.7,312.4 363.6,316.3 364.5,314.1 365.4,316.9 366.3,312.9 367.2,311.5 368.1,311.9 369.0,308.0 369.9,314.1 370.8,307.1 371.7,309.9 372.6,307.8 373.5,308.3 374.4,307.6 375.3,307.3 376.2,309.5 377.1,308.1 378.0,308.8 378.9,308.4 379.8,304.3 380.7,304.2 381.6,302.6 382.5,301.0 383.4,298.6 384.3,294.4 385.2,296.0 386.1,298.6 387.0,297.2 387.9,294.3 388.8,291.1 389.7,293.2 390.6,294.3 391.5,291.2 392.4,288.6 393.3,290.3 394.2,291.1 395.1,290.7 396.0,292.9 396.9,291.2 397.8,294.7 398.7,293.6 399.6,291.0 400.5,292.5 401.4,290.8 402.3,289.3 403.2,287.2 404.1,289.4 405.0,290.6 405.9,290.2 406.8,287.1 407.7,289.5 408.6,284.8 409.5,288.7 410.4,290.4 411.3,291.2 412.2,289.8 413.1,292.5 414.0,291.2 414.9,292.3 415.8,290.6 416.7,290.1 417.6,293.9 418.6,292.6 419.5,296.0 420.4,293.0 421.3,290.6 422.2,291.1 423.1,289.9 424.0,291.6 424.9,294.0 425.8,291.8 426.7,291.2 427.6,296.5 428.5,299.2 429.4,301.9 430.3,301.8 431.2,300.9 432.1,306.4 433.0,305.5 433.9,305.3 434.8,303.4 435.7,302.7 436.6,298.9 437.5,301.0 438.4,296.7 439.3,294.3 440.2,293.5 441.1,290.5 442.0,289.4 442.9,287.3 443.8,289.0 444.7,289.4 445.6,291.2 446.5,289.2 447.4,290.0 448.3,294.5 449.2,290.7 450.1,290.3 451.0,294.1 451.9,293.7 452.8,292.9 453.7,293.7 454.6,295.7 455.5,293.9 456.4,297.2 457.3,296.4 458.2,294.2 459.1,298.4 460.0,296.5 460.9,299.7 461.8,299.7 462.7,298.0 463.6,300.6 464.5,299.7 465.4,299.1 466.3,300.8 467.2,299.1 468.1,296.7 469.0,299.7 469.9,303.2 470.8,302.2 471.7,302.6 472.6,300.3 473.5,300.2 474.4,303.0 475.3,301.6 476.2,304.6 477.1,301.7 478.0,301.5 478.9,305.3 479.8,301.9 480.7,302.1 481.6,301.9 482.5,299.6 483.5,299.7 484.4,300.4 485.3,299.4 486.2,297.7 487.1,293.7 488.0,291.1 488.9,292.6 489.8,297.2 490.7,292.9 491.6,295.9 492.5,290.2 493.4,289.8 494.3,287.8 495.2,287.2 496.1,288.0 497.0,288.3 497.9,285.1 498.8,287.1 499.7,285.3 500.6,287.1 501.5,287.0 502.4,285.5 503.3,287.0 504.2,288.1 505.1,286.3 506.0,290.0 506.9,287.6 507.8,287.1 508.7,283.6 509.6,282.6 510.5,282.5 511.4,282.5 512.3,280.2 513.2,281.8 514.1,285.0 515.0,284.6 515.9,279.8 516.8,282.3 517.7,282.2 518.6,280.8 519.5,280.0 520.4,280.5 521.3,280.4 522.2,281.4 523.1,276.5 524.0,278.6 524.9,278.5 525.8,277.5 526.7,278.1 527.6,274.7 528.5,272.2 529.4,277.6 530.3,274.9 531.2,269.8 532.1,270.5 533.0,271.2 533.9,271.2 534.8,266.5 535.7,266.1 536.6,263.4 537.5,266.3 538.4,262.9 539.3,264.5 540.2,267.3 541.1,264.0 542.0,264.5 542.9,268.2 543.8,266.0 544.7,268.3 545.6,268.0 546.5,268.3 547.5,268.1 548.4,267.3 549.3,268.1 550.2,268.6 551.1,267.8 552.0,266.9 552.9,268.0 553.8,270.3 554.7,270.5 555.6,271.5 556.5,273.8 557.4,270.5 558.3,269.2 559.2,272.5 560.1,273.3 561.0,275.1 561.9,273.8 562.8,270.5 563.7,272.7 564.6,272.3 565.5,273.2 566.4,267.8 567.3,268.6 568.2,269.1 569.1,269.3 570.0,271.3 570.9,272.1 571.8,271.8 572.7,272.0 573.6,273.9 574.5,279.9 575.4,281.9 576.3,279.0 577.2,281.9 578.1,281.7 579.0,283.8 579.9,290.4 580.8,288.3 581.7,291.5 582.6,293.5 583.5,294.5 584.4,290.7 585.3,297.4 586.2,300.1 587.1,297.7 588.0,299.7 588.9,298.9 589.8,302.5 590.7,301.4 591.6,303.9 592.5,301.0 593.4,303.3 594.3,301.8 595.2,302.3 596.1,301.9 597.0,299.4 597.9,300.1 598.8,300.6 599.7,296.3 600.6,298.7 601.5,299.6 602.4,299.4 603.3,298.2 604.2,298.3 605.1,303.3 606.0,303.7 606.9,303.5 607.8,305.3 608.7,306.2 609.6,303.8 610.5,308.1 611.4,309.6 612.4,308.7 613.3,307.9 614.2,305.9 615.1,305.9 616.0,307.1 616.9,304.9 617.8,305.3 618.7,304.8 619.6,300.8 620.5,303.0 621.4,298.9 622.3,299.9 623.2,296.8 624.1,298.8 625.0,299.9 625.9,293.9 626.8,292.9 627.7,294.5 628.6,297.6 629.5,297.7 630.4,298.5 631.3,298.5 632.2,295.0 633.1,297.4 634.0,295.0 634.9,297.2 635.8,295.4 636.7,297.6 637.6,298.1 638.5,298.0 639.4,295.3 640.3,293.9 641.2,296.5 642.1,295.3 643.0,296.6 643.9,296.9 644.8,297.9 645.7,293.4 646.6,296.5 647.5,296.4 648.4,295.2 649.3,295.4 650.2,296.8 651.1,298.2 652.0,295.2 652.9,298.0 653.8,297.9 654.7,299.4 655.6,301.2 656.5,300.3 657.4,300.5 658.3,299.5 659.2,299.1 660.1,301.1 661.0,298.5 661.9,300.6 662.8,297.6 663.7,299.6 664.6,299.0 665.5,298.4 666.4,299.1 667.3,297.8 668.2,297.9 669.1,298.2 670.0,295.5 670.9,297.3 671.8,300.0 672.7,298.6 673.6,300.5 674.5,300.9 675.4,301.5 676.4,298.1 677.3,301.9 678.2,300.5 679.1,300.8 680.0,300.4 680.9,298.5 681.8,301.0 682.7,300.1 683.6,303.0 684.5,301.8 685.4,304.5 686.3,303.1 687.2,305.7 688.1,303.8 689.0,303.3 689.9,305.8 690.8,305.8 691.7,303.3 692.6,302.9 693.5,305.2 694.4,303.6 695.3,301.8 696.2,299.4 697.1,302.7 698.0,302.5 698.9,300.2 699.8,300.8 700.7,301.7 701.6,300.4 702.5,300.9 703.4,298.6 704.3,303.2 705.2,301.1 706.1,299.9 707.0,300.6 707.9,306.0 708.8,302.2 709.7,303.8 710.6,298.5 711.5,299.1 712.4,301.0 713.3,302.6 714.2,300.8 715.1,300.4 716.0,303.1 716.9,298.8 717.8,301.7 718.7,303.8 719.6,301.5 720.5,305.5 721.4,302.5 722.3,301.1 723.2,301.0 724.1,303.4 725.0,304.9 725.9,303.0 726.8,302.7 727.7,301.2 728.6,305.3 729.5,303.0 730.4,303.4 731.3,304.4 732.2,305.1 733.1,305.2 734.0,306.6 734.9,304.6 735.8,303.5 736.7,306.6 737.6,303.8 738.5,305.0 739.4,303.8 740.3,301.7 741.3,304.2 742.2,304.7 743.1,301.2 744.0,302.6 744.9,304.5 745.8,301.5 746.7,302.6 747.6,303.4 748.5,302.1 749.4,301.8 750.3,305.3 751.2,302.5 752.1,304.2 753.0,303.0 753.9,301.7 754.8,304.8 755.7,306.4 756.6,305.9 757.5,309.2 758.4,307.3 759.3,310.3 760.2,310.9 761.1,306.3 762.0,308.6 762.9,310.5 763.8,309.6 764.7,308.0 765.6,311.7 766.5,313.7 767.4,310.2 768.3,309.7 769.2,307.1 770.1,308.6 771.0,306.1 771.9,306.6 772.8,307.5 773.7,302.0 774.6,302.3 775.5,299.9 776.4,300.7 777.3,301.5 778.2,296.9 779.1,296.7 780.0,296.3 780.9,297.8 781.8,296.1 782.7,292.7 783.6,291.5 784.5,294.8 785.4,294.2 786.3,297.9 787.2,296.1 788.1,295.9 789.0,291.3 789.9,297.7 790.8,294.0 791.7,296.2 792.6,296.4 793.5,295.1 794.4,293.6 795.3,298.1 796.2,295.2 797.1,294.5 798.0,296.9 798.9,294.6 799.8,293.5 800.7,292.4 801.6,290.6 802.5,294.2 803.4,293.9 804.3,291.6 805.3,292.3 806.2,293.9 807.1,297.9 808.0,295.4 808.9,295.7 809.8,295.2 810.7,296.1 811.6,296.8 812.5,297.4 813.4,293.6 814.3,294.7 815.2,294.7 816.1,295.8 817.0,295.7 817.9,297.3 818.8,295.3 819.7,295.9 820.6,294.6 821.5,295.1 822.4,294.7 823.3,294.7 824.2,295.3 825.1,294.2 826.0,290.9 826.9,288.3 827.8,288.6 828.7,289.7 829.6,285.8 830.5,283.7 831.4,284.9 832.3,285.9 833.2,286.4 834.1,281.7 835.0,282.7 835.9,279.2 836.8,283.7 837.7,284.0 838.6,287.3 839.5,284.4 840.4,281.9 841.3,285.2 842.2,285.8 843.1,287.6 844.0,285.5 844.9,289.5 845.8,284.7 846.7,283.3 847.6,288.5 848.5,288.6 849.4,288.9 850.3,291.6 851.2,290.6 852.1,290.4 853.0,292.5 853.9,291.6 854.8,291.7 855.7,292.5 856.6,291.2 857.5,294.2 858.4,291.1 859.3,290.8 860.2,290.0 861.1,290.5 862.0,289.7 862.9,287.8 863.8,289.2 864.7,291.4 865.6,289.0 866.5,288.4 867.4,290.5 868.3,288.6 869.3,286.8 870.2,286.4 871.1,286.3 872.0,286.5 872.9,288.6 873.8,288.9 874.7,287.3 875.6,289.8 876.5,288.3 877.4,284.7 878.3,288.6 879.2,286.8 880.1,285.8 881.0,288.9 881.9,290.3 882.8,289.4 883.7,287.7 884.6,288.8 885.5,287.0 886.4,287.3 887.3,290.8 888.2,288.6 889.1,289.0 890.0,289.6 890.9,290.1 891.8,290.7 892.7,289.0 893.6,287.2 894.5,288.9 895.4,287.6 896.3,287.2 897.2,288.6 898.1,289.7 899.0,291.1 899.9,287.8 900.8,288.5 901.7,289.4 902.6,290.5 903.5,288.5 904.4,291.8 905.3,290.5 906.2,290.0 907.1,289.7 908.0,289.5 908.9,291.6 909.8,292.7 910.7,293.4 911.6,291.6 912.5,292.1 913.4,295.8 914.3,291.1 915.2,291.7 916.1,291.8 917.0,292.6 917.9,290.8 918.8,290.0 919.7,289.0 920.6,290.8 921.5,289.8 922.4,286.7 923.3,288.2 924.2,285.7 925.1,285.1 926.0,284.9 926.9,284.5 927.8,283.6 928.7,287.7 929.6,286.9 930.5,286.1 931.4,287.2 932.3,287.2 933.2,287.9 934.2,289.2 935.1,286.0 936.0,285.0 936.9,285.9 937.8,287.7 938.7,288.3 939.6,285.4 940.5,288.9 941.4,285.9 942.3,285.7 943.2,285.4 944.1,285.8 945.0,284.8 945.9,284.7 946.8,284.2 947.7,281.7 948.6,278.9 949.5,278.3 950.4,275.8 951.3,277.2 952.2,276.3 953.1,277.9 954.0,282.5 954.9,280.8 955.8,282.8 956.7,282.3 957.6,283.6 958.5,283.8 959.4,285.5 960.3,286.2 961.2,283.0 962.1,284.3 963.0,285.2 963.9,283.1 964.8,286.2 965.7,285.7 966.6,282.3 967.5,284.9 968.4,284.9 969.3,279.4 970.2,282.4 971.1,281.3 972.0,284.4 972.9,282.5 973.8,280.5 974.7,282.2 975.6,281.2 976.5,280.8 977.4,276.8 978.3,277.4 979.2,276.4 980.1,274.8 981.0,272.2 981.9,269.4 982.8,273.1 983.7,269.9 984.6,270.1 985.5,272.5 986.4,272.7 987.3,273.0 988.2,270.1 989.1,270.9 990.0,271.5 990.9,272.2 991.8,274.8 992.7,276.1 993.6,274.5 994.5,274.4 995.4,274.9 996.3,280.2 997.2,280.1 998.2,281.0 999.1,277.6 1000.0,279.3 1000.9,279.1 1001.8,280.4 1002.7,278.0 1003.6,279.7 1004.5,280.3 1005.4,280.6 1006.3,280.3 1007.2,277.2 1008.1,280.1 1009.0,281.2 1009.0,346.4 1008.1,343.2 1007.2,342.7 1006.3,346.6 1005.4,345.1 1004.5,345.1 1003.6,344.9 1002.7,344.1 1001.8,345.7 1000.9,346.3 1000.0,347.0 999.1,344.6 998.2,340.7 997.2,344.9 996.3,342.6 995.4,340.1 994.5,337.5 993.6,339.4 992.7,340.8 991.8,338.5 990.9,338.2 990.0,339.0 989.1,339.4 988.2,340.7 987.3,337.2 986.4,338.1 985.5,337.5 984.6,336.0 983.7,335.9 982.8,337.0 981.9,339.9 981.0,342.6 980.1,344.7 979.2,342.9 978.3,343.7 977.4,347.6 976.5,348.9 975.6,349.4 974.7,351.7 973.8,350.1 972.9,350.5 972.0,353.3 971.1,353.3 970.2,353.2 969.3,355.9 968.4,355.9 967.5,355.4 966.6,353.9 965.7,356.7 964.8,357.5 963.9,353.2 963.0,355.2 962.1,354.6 961.2,354.2 960.3,353.7 959.4,354.9 958.5,356.4 957.6,356.7 956.7,358.3 955.8,353.4 954.9,350.5 954.0,351.1 953.1,351.4 952.2,351.2 951.3,349.9 950.4,350.3 949.5,351.5 948.6,352.3 947.7,353.9 946.8,356.9 945.9,358.1 945.0,358.8 944.1,361.5 943.2,361.5 942.3,360.0 941.4,361.5 940.5,360.9 939.6,361.6 938.7,361.8 937.8,360.7 936.9,360.0 936.0,361.6 935.1,362.9 934.2,360.2 933.2,361.5 932.3,359.9 931.4,357.0 930.5,361.4 929.6,358.6 928.7,358.3 927.8,362.3 926.9,359.1 926.0,362.0 925.1,356.7 924.2,360.3 923.3,357.5 922.4,356.9 921.5,361.2 920.6,360.3 919.7,362.8 918.8,361.9 917.9,362.2 917.0,363.2 916.1,362.5 915.2,363.7 914.3,365.8 913.4,365.6 912.5,366.2 911.6,363.4 910.7,364.4 909.8,361.7 908.9,360.4 908.0,361.0 907.1,360.6 906.2,359.8 905.3,363.0 904.4,362.2 903.5,356.9 902.6,360.3 901.7,356.3 900.8,358.7 899.9,359.3 899.0,358.7 898.1,357.1 897.2,361.1 896.3,356.0 895.4,358.6 894.5,360.2 893.6,359.7 892.7,359.3 891.8,360.2 890.9,359.8 890.0,362.3 889.1,364.0 888.2,361.1 887.3,362.9 886.4,364.4 885.5,360.2 884.6,358.2 883.7,363.5 882.8,360.3 881.9,358.5 881.0,360.5 880.1,359.9 879.2,361.3 878.3,359.1 877.4,356.3 876.5,360.6 875.6,358.4 874.7,363.0 873.8,362.6 872.9,363.6 872.0,363.6 871.1,362.5 870.2,362.7 869.3,363.2 868.3,363.4 867.4,362.5 866.5,359.8 865.6,358.2 864.7,363.9 863.8,361.0 862.9,360.3 862.0,362.5 861.1,360.9 860.2,365.6 859.3,362.7 858.4,360.1 857.5,361.1 856.6,362.4 855.7,365.3 854.8,366.7 853.9,363.2 853.0,361.6 852.1,364.5 851.2,362.3 850.3,359.8 849.4,361.0 848.5,361.2 847.6,360.3 846.7,357.4 845.8,356.6 844.9,357.0 844.0,358.3 843.1,355.2 842.2,353.6 841.3,353.2 840.4,355.2 839.5,353.6 838.6,354.9 837.7,353.8 836.8,356.9 835.9,356.4 835.0,354.0 834.1,354.2 833.2,354.0 832.3,355.4 831.4,355.6 830.5,357.7 829.6,352.9 828.7,357.7 827.8,361.7 826.9,358.5 826.0,359.9 825.1,360.7 824.2,364.0 823.3,363.8 822.4,368.7 821.5,369.4 820.6,370.6 819.7,371.9 818.8,370.8 817.9,372.1 817.0,374.0 816.1,369.8 815.2,371.0 814.3,368.8 813.4,367.9 812.5,372.6 811.6,371.1 810.7,372.7 809.8,368.8 808.9,369.9 808.0,368.8 807.1,367.1 806.2,367.5 805.3,367.9 804.3,368.8 803.4,368.2 802.5,373.0 801.6,368.3 800.7,365.7 799.8,367.5 798.9,367.8 798.0,367.0 797.1,370.6 796.2,372.8 795.3,372.0 794.4,371.2 793.5,376.3 792.6,374.0 791.7,371.5 790.8,373.0 789.9,370.1 789.0,370.9 788.1,372.4 787.2,370.4 786.3,369.1 785.4,373.6 784.5,368.2 783.6,368.8 782.7,370.2 781.8,368.5 780.9,370.8 780.0,368.9 779.1,372.7 778.2,375.0 777.3,374.6 776.4,374.5 775.5,380.0 774.6,379.9 773.7,378.9 772.8,379.6 771.9,378.4 771.0,381.1 770.1,382.8 769.2,379.3 768.3,380.8 767.4,381.8 766.5,381.5 765.6,383.3 764.7,381.4 763.8,382.9 762.9,382.9 762.0,384.7 761.1,383.8 760.2,384.5 759.3,382.3 758.4,381.9 757.5,381.2 756.6,378.6 755.7,380.8 754.8,376.8 753.9,376.8 753.0,379.7 752.1,378.8 751.2,375.6 750.3,375.7 749.4,376.4 748.5,375.5 747.6,376.7 746.7,376.2 745.8,373.2 744.9,373.5 744.0,372.0 743.1,372.8 742.2,375.4 741.3,374.3 740.3,374.4 739.4,373.8 738.5,375.6 737.6,375.4 736.7,374.9 735.8,374.3 734.9,375.5 734.0,376.8 733.1,369.8 732.2,371.0 731.3,368.7 730.4,373.2 729.5,370.8 728.6,368.3 727.7,370.6 726.8,372.3 725.9,370.4 725.0,370.7 724.1,373.1 723.2,369.4 722.3,370.5 721.4,370.1 720.5,369.6 719.6,368.0 718.7,368.8 717.8,366.1 716.9,371.6 716.0,373.7 715.1,371.1 714.2,371.1 713.3,371.2 712.4,372.4 711.5,370.5 710.6,371.9 709.7,374.3 708.8,372.0 707.9,375.7 707.0,374.3 706.1,376.6 705.2,372.8 704.3,373.2 703.4,373.0 702.5,374.6 701.6,373.1 700.7,370.8 699.8,373.8 698.9,372.4 698.0,377.1 697.1,376.2 696.2,374.7 695.3,376.0 694.4,374.1 693.5,375.0 692.6,377.4 691.7,377.1 690.8,377.8 689.9,373.4 689.0,377.2 688.1,377.7 687.2,375.2 686.3,376.1 685.4,375.2 684.5,369.3 683.6,375.9 682.7,374.2 681.8,371.5 680.9,374.4 680.0,368.4 679.1,369.9 678.2,368.6 677.3,366.4 676.4,367.3 675.4,368.5 674.5,366.0 673.6,366.2 672.7,367.6 671.8,366.1 670.9,365.7 670.0,365.7 669.1,362.5 668.2,365.6 667.3,363.1 666.4,366.0 665.5,364.7 664.6,366.5 663.7,363.5 662.8,365.1 661.9,368.4 661.0,367.0 660.1,369.1 659.2,366.4 658.3,368.5 657.4,367.6 656.5,366.8 655.6,364.4 654.7,366.2 653.8,366.3 652.9,366.0 652.0,364.4 651.1,364.5 650.2,361.8 649.3,361.6 648.4,360.7 647.5,363.8 646.6,366.5 645.7,363.9 644.8,364.2 643.9,365.0 643.0,364.2 642.1,365.0 641.2,364.1 640.3,366.1 639.4,362.6 638.5,362.2 637.6,363.0 636.7,362.2 635.8,364.8 634.9,365.2 634.0,363.7 633.1,362.0 632.2,362.2 631.3,364.0 630.4,362.8 629.5,362.4 628.6,364.2 627.7,363.1 626.8,366.7 625.9,364.1 625.0,365.7 624.1,369.7 623.2,366.6 622.3,371.4 621.4,369.9 620.5,368.5 619.6,371.0 618.7,377.0 617.8,372.3 616.9,378.1 616.0,375.7 615.1,377.8 614.2,375.1 613.3,374.1 612.4,377.2 611.4,377.9 610.5,376.5 609.6,377.5 608.7,374.9 607.8,372.9 606.9,373.7 606.0,370.7 605.1,369.4 604.2,371.1 603.3,370.2 602.4,365.9 601.5,366.5 600.6,366.4 599.7,368.9 598.8,366.6 597.9,366.3 597.0,365.4 596.1,367.4 595.2,367.9 594.3,366.3 593.4,366.8 592.5,365.0 591.6,371.5 590.7,366.5 589.8,363.0 588.9,363.5 588.0,368.9 587.1,369.3 586.2,363.2 585.3,363.9 584.4,362.6 583.5,363.7 582.6,361.6 581.7,361.2 580.8,359.0 579.9,356.0 579.0,356.6 578.1,357.6 577.2,352.9 576.3,353.1 575.4,350.9 574.5,352.1 573.6,350.0 572.7,348.9 571.8,344.8 570.9,347.5 570.0,344.7 569.1,342.8 568.2,344.4 567.3,343.9 566.4,343.4 565.5,346.5 564.6,342.3 563.7,343.0 562.8,342.8 561.9,342.9 561.0,345.3 560.1,339.3 559.2,342.8 558.3,342.6 557.4,342.3 556.5,340.1 555.6,341.4 554.7,340.2 553.8,338.1 552.9,336.8 552.0,336.5 551.1,335.6 550.2,334.1 549.3,335.5 548.4,334.5 547.5,335.7 546.5,335.3 545.6,331.5 544.7,334.7 543.8,334.5 542.9,337.3 542.0,334.7 541.1,336.7 540.2,334.9 539.3,333.0 538.4,332.8 537.5,337.4 536.6,339.2 535.7,342.1 534.8,340.2 533.9,341.3 533.0,344.4 532.1,347.8 531.2,344.1 530.3,346.9 529.4,352.3 528.5,348.0 527.6,346.8 526.7,351.0 525.8,356.4 524.9,350.8 524.0,353.4 523.1,351.3 522.2,350.0 521.3,350.5 520.4,353.2 519.5,355.9 518.6,356.0 517.7,358.5 516.8,357.0 515.9,356.9 515.0,356.1 514.1,357.0 513.2,356.7 512.3,356.8 511.4,358.6 510.5,358.7 509.6,362.1 508.7,361.6 507.8,362.1 506.9,361.6 506.0,357.6 505.1,359.4 504.2,361.4 503.3,361.7 502.4,359.2 501.5,358.2 500.6,361.8 499.7,361.6 498.8,360.1 497.9,357.8 497.0,357.7 496.1,359.9 495.2,360.5 494.3,362.5 493.4,360.0 492.5,363.3 491.6,362.2 490.7,364.0 489.8,363.0 488.9,359.7 488.0,366.8 487.1,360.1 486.2,364.9 485.3,367.2 484.4,367.9 483.5,370.7 482.5,366.4 481.6,366.7 480.7,370.2 479.8,370.3 478.9,368.9 478.0,374.0 477.1,370.4 476.2,371.1 475.3,372.9 474.4,368.6 473.5,367.8 472.6,366.5 471.7,369.4 470.8,371.4 469.9,364.2 469.0,369.0 468.1,369.7 467.2,364.0 466.3,368.1 465.4,367.5 464.5,372.3 463.6,368.7 462.7,372.5 461.8,368.4 460.9,369.3 460.0,370.0 459.1,367.4 458.2,373.0 457.3,367.3 456.4,369.6 455.5,369.6 454.6,367.3 453.7,368.0 452.8,368.1 451.9,366.5 451.0,365.4 450.1,367.4 449.2,367.3 448.3,364.8 447.4,363.2 446.5,363.7 445.6,363.2 444.7,363.8 443.8,363.7 442.9,362.4 442.0,363.3 441.1,367.5 440.2,365.2 439.3,368.3 438.4,372.9 437.5,371.5 436.6,374.3 435.7,373.1 434.8,375.0 433.9,378.3 433.0,378.2 432.1,376.5 431.2,377.9 430.3,376.2 429.4,374.9 428.5,371.9 427.6,371.1 426.7,369.7 425.8,366.6 424.9,368.9 424.0,369.4 423.1,367.9 422.2,367.0 421.3,369.9 420.4,367.3 419.5,369.7 418.6,366.0 417.6,366.2 416.7,370.0 415.8,369.5 414.9,368.6 414.0,369.7 413.1,367.1 412.2,369.6 411.3,368.0 410.4,368.3 409.5,367.9 408.6,366.8 407.7,362.9 406.8,364.0 405.9,365.6 405.0,368.2 404.1,367.1 403.2,364.4 402.3,365.6 401.4,364.1 400.5,366.3 399.6,368.0 398.7,363.4 397.8,366.2 396.9,367.7 396.0,365.9 395.1,364.4 394.2,364.8 393.3,367.6 392.4,366.9 391.5,367.6 390.6,367.7 389.7,368.5 388.8,367.3 387.9,367.6 387.0,365.5 386.1,371.1 385.2,367.3 384.3,368.4 383.4,368.5 382.5,373.1 381.6,372.7 380.7,373.2 379.8,373.5 378.9,373.3 378.0,372.7 377.1,376.8 376.2,377.0 375.3,375.5 374.4,379.7 373.5,379.0 372.6,380.8 371.7,384.6 370.8,378.9 369.9,380.4 369.0,385.8 368.1,387.3 367.2,381.0 366.3,384.4 365.4,384.4 364.5,381.5 363.6,381.2 362.7,382.8 361.8,384.3 360.9,382.2 360.0,382.7 359.1,383.8 358.2,386.4 357.3,388.4 356.4,382.4 355.5,383.1 354.6,383.6 353.6,382.7 352.7,382.6 351.8,382.6 350.9,381.1 350.0,380.5 349.1,380.1 348.2,378.3 347.3,376.6 346.4,379.1 345.5,376.5 344.6,376.4 343.7,376.8 342.8,378.4 341.9,380.1 341.0,378.7 340.1,379.2 339.2,382.5 338.3,383.0 337.4,383.2 336.5,382.6 335.6,381.8 334.7,385.0 333.8,384.4 332.9,384.5 332.0,385.4 331.1,385.3 330.2,387.6 329.3,383.0 328.4,391.6 327.5,390.3 326.6,390.9 325.7,393.3 324.8,390.7 323.9,389.7 323.0,394.6 322.1,388.3 321.2,395.6 320.3,392.7 319.4,392.8 318.5,395.7 317.6,394.4 316.7,391.7 315.8,397.2 314.9,394.9 314.0,395.4 313.1,398.2 312.2,395.2 311.3,395.4 310.4,395.0 309.5,394.2 308.6,394.2 307.7,395.0 306.8,392.4 305.9,394.8 305.0,390.4 304.1,391.7 303.2,392.7 302.3,392.1 301.4,391.4 300.5,386.9 299.6,393.5 298.7,386.8 297.8,389.0 296.9,390.2 296.0,394.8 295.1,392.7 294.2,394.7 293.3,393.3 292.4,392.0 291.5,393.9 290.6,394.5 289.6,399.4 288.7,396.8 287.8,400.8 286.9,399.4 286.0,397.0 285.1,397.9 284.2,398.8 283.3,397.5 282.4,397.2 281.5,397.9 280.6,398.4 279.7,404.5 278.8,402.2 277.9,403.2 277.0,404.4 276.1,406.2 275.2,405.5 274.3,407.1 273.4,407.5 272.5,407.1 271.6,409.0 270.7,408.3 269.8,411.4 268.9,410.6 268.0,410.9 267.1,408.9 266.2,411.9 265.3,413.3 264.4,410.3 263.5,412.5 262.6,415.7 261.7,415.5 260.8,416.4 259.9,417.3 259.0,417.1 258.1,421.4 257.2,423.1 256.3,425.4 255.4,423.8 254.5,427.8 253.6,427.2 252.7,430.6 251.8,432.8 250.9,432.2 250.0,436.3 249.1,436.3 248.2,439.9 247.3,441.2 246.4,439.6 245.5,442.5 244.6,440.1 243.7,442.6 242.8,444.2 241.9,441.0 241.0,443.0 240.1,442.4 239.2,439.2 238.3,440.6 237.4,440.7 236.5,442.2 235.6,443.6 234.7,443.2 233.8,441.7 232.9,444.2 232.0,447.4 231.1,447.5 230.2,449.4 229.3,449.3 228.4,449.5 227.5,449.3 226.6,448.7 225.7,450.6 224.7,451.7 223.8,452.6 222.9,450.3 222.0,449.9 221.1,450.7 220.2,452.4 219.3,452.4 218.4,451.7 217.5,453.5 216.6,452.1 215.7,455.2 214.8,454.8 213.9,454.2 213.0,454.7 212.1,456.0 211.2,454.4 210.3,457.6 209.4,454.5 208.5,456.7 207.6,453.1 206.7,454.7 205.8,455.3 204.9,457.6 204.0,458.4 203.1,456.9 202.2,460.2 201.3,461.4 200.4,460.7 199.5,458.6 198.6,457.2 197.7,461.8 196.8,462.8 195.9,458.1 195.0,462.4 194.1,459.5 193.2,456.6 192.3,457.4 191.4,459.0 190.5,458.8 189.6,461.6 188.7,457.3 187.8,456.4 186.9,458.7 186.0,458.4 185.1,463.9 184.2,462.3 183.3,465.5 182.4,466.8 181.5,468.0 180.6,470.8 179.7,465.2 178.8,471.6 177.9,470.0 177.0,469.4 176.1,471.1 175.2,468.5 174.3,469.9 173.4,466.8 172.5,468.2 171.6,467.3 170.7,466.9 169.8,468.0 168.9,467.1 168.0,467.5 167.1,466.2 166.2,468.6 165.3,469.5 164.4,467.8 163.5,468.2 162.6,468.9 161.7,468.7 160.7,467.3 159.8,470.4 158.9,469.0 158.0,469.2 157.1,472.4 156.2,466.8 155.3,469.0 154.4,470.8 153.5,465.8 152.6,468.6 151.7,469.4 150.8,468.1 149.9,465.7 149.0,466.0 148.1,464.4 147.2,464.9 146.3,465.9 145.4,470.8 144.5,470.2 143.6,470.1 142.7,468.6 141.8,473.1 140.9,475.2 140.0,475.9 139.1,475.9 138.2,474.3 137.3,475.0 136.4,474.2 135.5,476.6 134.6,475.0 133.7,472.9 132.8,477.4 131.9,477.7 131.0,475.9 130.1,476.4 129.2,475.2 128.3,472.8 127.4,477.8 126.5,477.1 125.6,479.1 124.7,476.4 123.8,478.0 122.9,477.3 122.0,477.5 121.1,480.1 120.2,479.6 119.3,480.5 118.4,480.9 117.5,483.1 116.6,484.7 115.7,482.6 114.8,486.0 113.9,483.9 113.0,482.3 112.1,483.8 111.2,479.0 110.3,476.1 109.4,474.0 108.5,473.4 107.6,475.2 106.7,471.8 105.8,474.2 104.9,474.8 104.0,472.6 103.1,475.6 102.2,472.1 101.3,475.6 100.4,474.9 99.5,478.3 98.6,478.2 97.7,480.8 96.8,480.3 95.8,480.1 94.9,478.1 94.0,484.9 93.1,486.4 92.2,487.6 91.3,487.4 90.4,490.5 89.5,493.9 88.6,490.9 87.7,492.4 86.8,493.4 85.9,491.2 85.0,491.3 84.1,491.0 83.2,492.1 82.3,492.3 81.4,493.5 80.5,498.3 79.6,493.0 78.7,492.0 77.8,494.9 76.9,493.2 76.0,496.5 75.1,495.1 74.2,498.7 73.3,499.5 72.4,503.5 71.5,502.2 70.6,502.3 69.7,502.8 68.8,505.5 67.9,513.0 67.0,525.6 66.1,544.2 65.2,562.6 64.3,576.9Z" fill="#dc2ea8" fill-opacity="0.17"/>
<g fill="#22a94f" fill-opacity="0.235">
<g transform="translate(0,533.2)"><circle cx="949.0" r="4.9"/></g>
<g transform="translate(0,525.2)"><circle cx="876.7" r="4.9"/></g>
<g transform="translate(0,509.4)"><circle cx="898.7" r="4.9"/></g>
<g transform="translate(0,501.5)"><circle cx="543.4" r="4.9"/><circle cx="550.0" r="4.9"/><circle cx="860.7" r="4.9"/><circle cx="887.7" r="4.9"/><circle cx="962.0" r="4.9"/></g>
<g transform="translate(0,493.6)"><circle cx="504.7" r="4.9"/><circle cx="538.9" r="4.9"/><circle cx="515.5" r="4.9"/><circle cx="548.0" r="4.9"/><circle cx="873.4" r="4.9"/><circle cx="1005.0" r="4.9"/><circle cx="540.0" r="4.9"/><circle cx="911.0" r="4.9"/><circle cx="924.5" r="4.9"/></g>
<g transform="translate(0,485.6)"><circle cx="545.2" r="4.9"/><circle cx="531.7" r="4.9"/><circle cx="535.3" r="4.9"/><circle cx="538.0" r="4.9"/><circle cx="559.7" r="4.9"/><circle cx="941.0" r="4.9"/><circle cx="380.0" r="4.9"/><circle cx="463.0" r="4.9"/><circle cx="514.0" r="4.9"/><circle cx="528.0" r="4.9"/><circle cx="1004.0" r="4.9"/></g>
<g transform="translate(0,477.7)"><circle cx="540.7" r="4.9"/><circle cx="1006.8" r="4.9"/><circle cx="544.3" r="4.9"/><circle cx="637.2" r="4.9"/><circle cx="849.0" r="4.9"/><circle cx="917.5" r="4.9"/><circle cx="995.9" r="4.9"/><circle cx="494.8" r="4.9"/><circle cx="499.3" r="4.9"/><circle cx="510.1" r="4.9"/><circle cx="532.6" r="4.9"/><circle cx="543.4" r="4.9"/><circle cx="557.0" r="4.9"/><circle cx="569.6" r="4.9"/><circle cx="882.4" r="4.9"/><circle cx="985.1" r="4.9"/><circle cx="441.0" r="4.9"/></g>
<g transform="translate(0,469.8)"><circle cx="541.6" r="4.9"/><circle cx="556.1" r="4.9"/><circle cx="897.7" r="4.9"/><circle cx="977.0" r="4.9"/><circle cx="980.6" r="4.9"/><circle cx="990.5" r="4.9"/><circle cx="456.9" r="4.9"/><circle cx="538.0" r="4.9"/><circle cx="566.9" r="4.9"/><circle cx="571.4" r="4.9"/><circle cx="800.3" r="4.9"/><circle cx="808.5" r="4.9"/><circle cx="865.2" r="4.9"/><circle cx="866.1" r="4.9"/><circle cx="976.1" r="4.9"/><circle cx="994.1" r="4.9"/><circle cx="1008.6" r="4.9"/><circle cx="493.9" r="4.9"/><circle cx="531.7" r="4.9"/><circle cx="534.4" r="4.9"/><circle cx="545.2" r="4.9"/><circle cx="549.8" r="4.9"/><circle cx="565.1" r="4.9"/><circle cx="570.5" r="4.9"/><circle cx="693.1" r="4.9"/><circle cx="726.4" r="4.9"/><circle cx="789.5" r="4.9"/><circle cx="843.6" r="4.9"/><circle cx="874.3" r="4.9"/><circle cx="913.9" r="4.9"/><circle cx="922.9" r="4.9"/><circle cx="934.7" r="4.9"/><circle cx="968.9" r="4.9"/><circle cx="971.6" r="4.9"/><circle cx="988.7" r="4.9"/><circle cx="1001.4" r="4.9"/><circle cx="1004.1" r="4.9"/><circle cx="1006.8" r="4.9"/><circle cx="1008.6" r="4.9"/><circle cx="718.0" r="4.9"/><circle cx="735.0" r="4.9"/></g>
<g transform="translate(0,461.9)"><circle cx="519.1" r="4.9"/><circle cx="532.6" r="4.9"/><circle cx="538.0" r="4.9"/><circle cx="560.6" r="4.9"/><circle cx="575.0" r="4.9"/><circle cx="576.8" r="4.9"/><circle cx="832.8" r="4.9"/><circle cx="901.3" r="4.9"/><circle cx="931.0" r="4.9"/><circle cx="955.4" r="4.9"/><circle cx="973.4" r="4.9"/><circle cx="986.0" r="4.9"/><circle cx="995.9" r="4.9"/><circle cx="1000.5" r="4.9"/><circle cx="1005.9" r="4.9"/><circle cx="1008.6" r="4.9"/><circle cx="983.3" r="4.9"/><circle cx="407.3" r="4.9"/><circle cx="477.6" r="4.9"/><circle cx="513.7" r="4.9"/><circle cx="520.9" r="4.9"/><circle cx="634.5" r="4.9"/><circle cx="673.2" r="4.9"/><circle cx="910.3" r="4.9"/><circle cx="927.4" r="4.9"/><circle cx="931.9" r="4.9"/><circle cx="954.5" r="4.9"/><circle cx="959.0" r="4.9"/><circle cx="986.9" r="4.9"/><circle cx="294.7" r="4.9"/><circle cx="395.6" r="4.9"/><circle cx="412.7" r="4.9"/><circle cx="450.6" r="4.9"/><circle cx="492.1" r="4.9"/><circle cx="512.8" r="4.9"/><circle cx="518.2" r="4.9"/><circle cx="525.4" r="4.9"/><circle cx="537.1" r="4.9"/><circle cx="537.1" r="4.9"/><circle cx="548.9" r="4.9"/><circle cx="552.5" r="4.9"/><circle cx="562.4" r="4.9"/><circle cx="562.4" r="4.9"/><circle cx="565.1" r="4.9"/><circle cx="580.4" r="4.9"/><circle cx="581.3" r="4.9"/><circle cx="584.9" r="4.9"/><circle cx="585.8" r="4.9"/><circle cx="608.3" r="4.9"/><circle cx="822.9" r="4.9"/><circle cx="833.7" r="4.9"/><circle cx="833.7" r="4.9"/><circle cx="845.4" r="4.9"/><circle cx="847.2" r="4.9"/><circle cx="853.5" r="4.9"/><circle cx="861.6" r="4.9"/><circle cx="868.9" r="4.9"/><circle cx="874.3" r="4.9"/><circle cx="875.2" r="4.9"/><circle cx="895.0" r="4.9"/><circle cx="942.8" r="4.9"/><circle cx="950.0" r="4.9"/><circle cx="951.8" r="4.9"/><circle cx="962.6" r="4.9"/><circle cx="970.7" r="4.9"/><circle cx="972.5" r="4.9"/><circle cx="977.9" r="4.9"/><circle cx="981.5" r="4.9"/><circle cx="982.4" r="4.9"/><circle cx="990.5" r="4.9"/><circle cx="997.8" r="4.9"/><circle cx="1006.8" r="4.9"/><circle cx="320.0" r="4.9"/><circle cx="347.0" r="4.9"/><circle cx="372.0" r="4.9"/></g>
<g transform="translate(0,454.0)"><circle cx="476.7" r="4.9"/><circle cx="502.9" r="4.9"/><circle cx="522.7" r="4.9"/><circle cx="544.3" r="4.9"/><circle cx="547.1" r="4.9"/><circle cx="568.7" r="4.9"/><circle cx="697.6" r="4.9"/><circle cx="738.1" r="4.9"/><circle cx="788.6" r="4.9"/><circle cx="866.1" r="4.9"/><circle cx="870.7" r="4.9"/><circle cx="873.4" r="4.9"/><circle cx="886.9" r="4.9"/><circle cx="895.0" r="4.9"/><circle cx="909.4" r="4.9"/><circle cx="927.4" r="4.9"/><circle cx="941.0" r="4.9"/><circle cx="536.2" r="4.9"/><circle cx="541.6" r="4.9"/><circle cx="545.2" r="4.9"/><circle cx="557.0" r="4.9"/><circle cx="558.8" r="4.9"/><circle cx="569.6" r="4.9"/><circle cx="322.6" r="4.9"/><circle cx="333.4" r="4.9"/><circle cx="442.5" r="4.9"/><circle cx="483.1" r="4.9"/><circle cx="503.8" r="4.9"/><circle cx="553.4" r="4.9"/><circle cx="569.6" r="4.9"/><circle cx="584.0" r="4.9"/><circle cx="585.8" r="4.9"/><circle cx="858.9" r="4.9"/><circle cx="864.3" r="4.9"/><circle cx="879.7" r="4.9"/><circle cx="881.5" r="4.9"/><circle cx="896.8" r="4.9"/><circle cx="950.0" r="4.9"/><circle cx="961.7" r="4.9"/><circle cx="286.5" r="4.9"/><circle cx="365.9" r="4.9"/><circle cx="367.7" r="4.9"/><circle cx="375.8" r="4.9"/><circle cx="392.9" r="4.9"/><circle cx="401.0" r="4.9"/><circle cx="408.2" r="4.9"/><circle cx="410.9" r="4.9"/><circle cx="422.7" r="4.9"/><circle cx="456.0" r="4.9"/><circle cx="456.9" r="4.9"/><circle cx="498.4" r="4.9"/><circle cx="502.9" r="4.9"/><circle cx="516.4" r="4.9"/><circle cx="516.4" r="4.9"/><circle cx="531.7" r="4.9"/><circle cx="534.4" r="4.9"/><circle cx="538.9" r="4.9"/><circle cx="554.3" r="4.9"/><circle cx="565.1" r="4.9"/><circle cx="573.2" r="4.9"/><circle cx="574.1" r="4.9"/><circle cx="594.8" r="4.9"/><circle cx="602.9" r="4.9"/><circle cx="619.2" r="4.9"/><circle cx="635.4" r="4.9"/><circle cx="635.4" r="4.9"/><circle cx="669.6" r="4.9"/><circle cx="678.7" r="4.9"/><circle cx="691.3" r="4.9"/><circle cx="709.3" r="4.9"/><circle cx="718.3" r="4.9"/><circle cx="723.7" r="4.9"/><circle cx="737.2" r="4.9"/><circle cx="737.2" r="4.9"/><circle cx="756.2" r="4.9"/><circle cx="765.2" r="4.9"/><circle cx="783.2" r="4.9"/><circle cx="786.8" r="4.9"/><circle cx="802.1" r="4.9"/><circle cx="803.0" r="4.9"/><circle cx="807.6" r="4.9"/><circle cx="836.4" r="4.9"/><circle cx="847.2" r="4.9"/><circle cx="850.8" r="4.9"/><circle cx="856.2" r="4.9"/><circle cx="862.5" r="4.9"/><circle cx="884.2" r="4.9"/><circle cx="888.7" r="4.9"/><circle cx="893.2" r="4.9"/><circle cx="908.5" r="4.9"/><circle cx="912.1" r="4.9"/><circle cx="919.3" r="4.9"/><circle cx="934.7" r="4.9"/><circle cx="953.6" r="4.9"/><circle cx="959.0" r="4.9"/><circle cx="965.3" r="4.9"/><circle cx="968.0" r="4.9"/><circle cx="978.8" r="4.9"/><circle cx="982.4" r="4.9"/><circle cx="987.8" r="4.9"/><circle cx="995.9" r="4.9"/><circle cx="997.8" r="4.9"/><circle cx="1002.3" r="4.9"/><circle cx="1005.9" r="4.9"/><circle cx="1007.7" r="4.9"/></g>
<g transform="translate(0,446.0)"><circle cx="336.1" r="4.9"/><circle cx="396.5" r="4.9"/><circle cx="407.3" r="4.9"/><circle cx="447.9" r="4.9"/><circle cx="467.7" r="4.9"/><circle cx="496.6" r="4.9"/><circle cx="512.8" r="4.9"/><circle cx="520.9" r="4.9"/><circle cx="573.2" r="4.9"/><circle cx="581.3" r="4.9"/><circle cx="618.3" r="4.9"/><circle cx="621.0" r="4.9"/><circle cx="630.0" r="4.9"/><circle cx="631.8" r="4.9"/><circle cx="634.5" r="4.9"/><circle cx="639.9" r="4.9"/><circle cx="644.4" r="4.9"/><circle cx="661.5" r="4.9"/><circle cx="666.0" r="4.9"/><circle cx="680.5" r="4.9"/><circle cx="694.9" r="4.9"/><circle cx="710.2" r="4.9"/><circle cx="720.1" r="4.9"/><circle cx="727.3" r="4.9"/><circle cx="785.0" r="4.9"/><circle cx="821.1" r="4.9"/><circle cx="826.5" r="4.9"/><circle cx="831.0" r="4.9"/><circle cx="840.0" r="4.9"/><circle cx="860.7" r="4.9"/><circle cx="888.7" r="4.9"/><circle cx="896.8" r="4.9"/><circle cx="920.2" r="4.9"/><circle cx="928.3" r="4.9"/><circle cx="946.4" r="4.9"/><circle cx="951.8" r="4.9"/><circle cx="960.8" r="4.9"/><circle cx="972.5" r="4.9"/><circle cx="996.9" r="4.9"/><circle cx="987.8" r="4.9"/><circle cx="524.5" r="4.9"/><circle cx="547.1" r="4.9"/><circle cx="562.4" r="4.9"/><circle cx="724.6" r="4.9"/><circle cx="979.7" r="4.9"/><circle cx="995.9" r="4.9"/><circle cx="998.7" r="4.9"/><circle cx="1004.1" r="4.9"/><circle cx="377.6" r="4.9"/><circle cx="383.9" r="4.9"/><circle cx="385.7" r="4.9"/><circle cx="447.9" r="4.9"/><circle cx="452.4" r="4.9"/><circle cx="455.1" r="4.9"/><circle cx="601.1" r="4.9"/><circle cx="629.1" r="4.9"/><circle cx="630.9" r="4.9"/><circle cx="663.3" r="4.9"/><circle cx="676.9" r="4.9"/><circle cx="718.3" r="4.9"/><circle cx="721.9" r="4.9"/><circle cx="752.6" r="4.9"/><circle cx="783.2" r="4.9"/><circle cx="791.3" r="4.9"/><circle cx="820.2" r="4.9"/><circle cx="893.2" r="4.9"/><circle cx="925.6" r="4.9"/><circle cx="929.2" r="4.9"/><circle cx="293.8" r="4.9"/><circle cx="331.6" r="4.9"/><circle cx="362.3" r="4.9"/><circle cx="379.4" r="4.9"/><circle cx="389.3" r="4.9"/><circle cx="390.2" r="4.9"/><circle cx="418.2" r="4.9"/><circle cx="429.0" r="4.9"/><circle cx="434.4" r="4.9"/><circle cx="457.8" r="4.9"/><circle cx="472.2" r="4.9"/><circle cx="494.8" r="4.9"/><circle cx="496.6" r="4.9"/><circle cx="499.3" r="4.9"/><circle cx="502.0" r="4.9"/><circle cx="502.9" r="4.9"/><circle cx="509.2" r="4.9"/><circle cx="511.0" r="4.9"/><circle cx="511.9" r="4.9"/><circle cx="548.9" r="4.9"/><circle cx="549.8" r="4.9"/><circle cx="557.9" r="4.9"/><circle cx="561.5" r="4.9"/><circle cx="579.5" r="4.9"/><circle cx="580.4" r="4.9"/><circle cx="581.3" r="4.9"/><circle cx="582.2" r="4.9"/><circle cx="585.8" r="4.9"/><circle cx="585.8" r="4.9"/><circle cx="600.2" r="4.9"/><circle cx="612.0" r="4.9"/><circle cx="618.3" r="4.9"/><circle cx="628.2" r="4.9"/><circle cx="633.6" r="4.9"/><circle cx="637.2" r="4.9"/><circle cx="648.0" r="4.9"/><circle cx="701.2" r="4.9"/><circle cx="707.5" r="4.9"/><circle cx="719.2" r="4.9"/><circle cx="721.9" r="4.9"/><circle cx="730.0" r="4.9"/><circle cx="733.6" r="4.9"/><circle cx="740.0" r="4.9"/><circle cx="741.8" r="4.9"/><circle cx="768.8" r="4.9"/><circle cx="778.7" r="4.9"/><circle cx="782.3" r="4.9"/><circle cx="789.5" r="4.9"/><circle cx="791.3" r="4.9"/><circle cx="796.7" r="4.9"/><circle cx="810.3" r="4.9"/><circle cx="813.0" r="4.9"/><circle cx="818.4" r="4.9"/><circle cx="827.4" r="4.9"/><circle cx="831.9" r="4.9"/><circle cx="832.8" r="4.9"/><circle cx="838.2" r="4.9"/><circle cx="851.7" r="4.9"/><circle cx="854.4" r="4.9"/><circle cx="880.6" r="4.9"/><circle cx="881.5" r="4.9"/><circle cx="884.2" r="4.9"/><circle cx="898.6" r="4.9"/><circle cx="917.5" r="4.9"/><circle cx="919.3" r="4.9"/><circle cx="919.3" r="4.9"/><circle cx="931.0" r="4.9"/><circle cx="932.9" r="4.9"/><circle cx="937.4" r="4.9"/><circle cx="938.3" r="4.9"/><circle cx="939.2" r="4.9"/><circle cx="946.4" r="4.9"/><circle cx="960.8" r="4.9"/><circle cx="971.6" r="4.9"/><circle cx="979.7" r="4.9"/><circle cx="998.7" r="4.9"/><circle cx="1001.4" r="4.9"/><circle cx="1004.1" r="4.9"/><circle cx="1006.8" r="4.9"/></g>
<g transform="translate(0,438.1)"><circle cx="318.1" r="4.9"/><circle cx="345.1" r="4.9"/><circle cx="389.3" r="4.9"/><circle cx="390.2" r="4.9"/><circle cx="401.9" r="4.9"/><circle cx="411.8" r="4.9"/><circle cx="414.5" r="4.9"/><circle cx="418.2" r="4.9"/><circle cx="421.8" r="4.9"/><circle cx="428.1" r="4.9"/><circle cx="445.2" r="4.9"/><circle cx="451.5" r="4.9"/><circle cx="462.3" r="4.9"/><circle cx="469.5" r="4.9"/><circle cx="483.1" r="4.9"/><circle cx="497.5" r="4.9"/><circle cx="506.5" r="4.9"/><circle cx="529.9" r="4.9"/><circle cx="584.9" r="4.9"/><circle cx="593.9" r="4.9"/><circle cx="600.2" r="4.9"/><circle cx="611.1" r="4.9"/><circle cx="657.0" r="4.9"/><circle cx="672.3" r="4.9"/><circle cx="687.7" r="4.9"/><circle cx="688.6" r="4.9"/><circle cx="717.4" r="4.9"/><circle cx="721.0" r="4.9"/><circle cx="725.5" r="4.9"/><circle cx="739.0" r="4.9"/><circle cx="740.0" r="4.9"/><circle cx="741.8" r="4.9"/><circle cx="780.5" r="4.9"/><circle cx="783.2" r="4.9"/><circle cx="802.1" r="4.9"/><circle cx="804.9" r="4.9"/><circle cx="809.4" r="4.9"/><circle cx="813.9" r="4.9"/><circle cx="823.8" r="4.9"/><circle cx="854.4" r="4.9"/><circle cx="856.2" r="4.9"/><circle cx="857.1" r="4.9"/><circle cx="871.6" r="4.9"/><circle cx="899.5" r="4.9"/><circle cx="918.4" r="4.9"/><circle cx="939.2" r="4.9"/><circle cx="956.3" r="4.9"/><circle cx="964.4" r="4.9"/><circle cx="529.0" r="4.9"/><circle cx="538.0" r="4.9"/><circle cx="543.4" r="4.9"/><circle cx="546.2" r="4.9"/><circle cx="567.8" r="4.9"/><circle cx="983.3" r="4.9"/><circle cx="1005.0" r="4.9"/><circle cx="461.4" r="4.9"/><circle cx="510.1" r="4.9"/><circle cx="528.1" r="4.9"/><circle cx="532.6" r="4.9"/><circle cx="574.1" r="4.9"/><circle cx="638.1" r="4.9"/><circle cx="728.2" r="4.9"/><circle cx="933.8" r="4.9"/><circle cx="935.6" r="4.9"/><circle cx="937.4" r="4.9"/><circle cx="285.6" r="4.9"/><circle cx="307.3" r="4.9"/><circle cx="318.1" r="4.9"/><circle cx="325.3" r="4.9"/><circle cx="341.5" r="4.9"/><circle cx="343.3" r="4.9"/><circle cx="346.9" r="4.9"/><circle cx="356.0" r="4.9"/><circle cx="421.8" r="4.9"/><circle cx="430.8" r="4.9"/><circle cx="451.5" r="4.9"/><circle cx="459.6" r="4.9"/><circle cx="462.3" r="4.9"/><circle cx="466.8" r="4.9"/><circle cx="620.1" r="4.9"/><circle cx="652.5" r="4.9"/><circle cx="692.2" r="4.9"/><circle cx="695.8" r="4.9"/><circle cx="713.8" r="4.9"/><circle cx="729.1" r="4.9"/><circle cx="835.5" r="4.9"/><circle cx="308.2" r="4.9"/><circle cx="324.4" r="4.9"/><circle cx="336.1" r="4.9"/><circle cx="350.5" r="4.9"/><circle cx="360.5" r="4.9"/><circle cx="365.9" r="4.9"/><circle cx="368.6" r="4.9"/><circle cx="384.8" r="4.9"/><circle cx="388.4" r="4.9"/><circle cx="395.6" r="4.9"/><circle cx="396.5" r="4.9"/><circle cx="401.9" r="4.9"/><circle cx="406.4" r="4.9"/><circle cx="420.0" r="4.9"/><circle cx="423.6" r="4.9"/><circle cx="429.9" r="4.9"/><circle cx="443.4" r="4.9"/><circle cx="444.3" r="4.9"/><circle cx="445.2" r="4.9"/><circle cx="447.0" r="4.9"/><circle cx="450.6" r="4.9"/><circle cx="452.4" r="4.9"/><circle cx="454.2" r="4.9"/><circle cx="465.9" r="4.9"/><circle cx="470.4" r="4.9"/><circle cx="474.9" r="4.9"/><circle cx="483.1" r="4.9"/><circle cx="484.0" r="4.9"/><circle cx="486.7" r="4.9"/><circle cx="494.8" r="4.9"/><circle cx="499.3" r="4.9"/><circle cx="499.3" r="4.9"/><circle cx="507.4" r="4.9"/><circle cx="511.0" r="4.9"/><circle cx="520.0" r="4.9"/><circle cx="521.8" r="4.9"/><circle cx="525.4" r="4.9"/><circle cx="543.4" r="4.9"/><circle cx="544.3" r="4.9"/><circle cx="545.2" r="4.9"/><circle cx="553.4" r="4.9"/><circle cx="565.1" r="4.9"/><circle cx="574.1" r="4.9"/><circle cx="584.9" r="4.9"/><circle cx="586.7" r="4.9"/><circle cx="595.7" r="4.9"/><circle cx="600.2" r="4.9"/><circle cx="600.2" r="4.9"/><circle cx="601.1" r="4.9"/><circle cx="605.6" r="4.9"/><circle cx="630.0" r="4.9"/><circle cx="637.2" r="4.9"/><circle cx="640.8" r="4.9"/><circle cx="644.4" r="4.9"/><circle cx="646.2" r="4.9"/><circle cx="646.2" r="4.9"/><circle cx="648.9" r="4.9"/><circle cx="648.9" r="4.9"/><circle cx="649.8" r="4.9"/><circle cx="654.3" r="4.9"/><circle cx="675.1" r="4.9"/><circle cx="683.2" r="4.9"/><circle cx="689.5" r="4.9"/><circle cx="691.3" r="4.9"/><circle cx="692.2" r="4.9"/><circle cx="707.5" r="4.9"/><circle cx="712.0" r="4.9"/><circle cx="712.9" r="4.9"/><circle cx="713.8" r="4.9"/><circle cx="716.5" r="4.9"/><circle cx="716.5" r="4.9"/><circle cx="718.3" r="4.9"/><circle cx="719.2" r="4.9"/><circle cx="723.7" r="4.9"/><circle cx="725.5" r="4.9"/><circle cx="734.5" r="4.9"/><circle cx="735.4" r="4.9"/><circle cx="735.4" r="4.9"/><circle cx="743.6" r="4.9"/><circle cx="744.5" r="4.9"/><circle cx="749.9" r="4.9"/><circle cx="754.4" r="4.9"/><circle cx="773.3" r="4.9"/><circle cx="781.4" r="4.9"/><circle cx="822.9" r="4.9"/><circle cx="824.7" r="4.9"/><circle cx="826.5" r="4.9"/><circle cx="837.3" r="4.9"/><circle cx="849.0" r="4.9"/><circle cx="871.6" r="4.9"/><circle cx="875.2" r="4.9"/><circle cx="883.3" r="4.9"/><circle cx="893.2" r="4.9"/><circle cx="901.3" r="4.9"/><circle cx="902.2" r="4.9"/><circle cx="908.5" r="4.9"/><circle cx="913.0" r="4.9"/><circle cx="924.7" r="4.9"/><circle cx="927.4" r="4.9"/><circle cx="955.4" r="4.9"/><circle cx="955.4" r="4.9"/><circle cx="956.3" r="4.9"/><circle cx="966.2" r="4.9"/><circle cx="966.2" r="4.9"/><circle cx="970.7" r="4.9"/><circle cx="973.4" r="4.9"/><circle cx="976.1" r="4.9"/><circle cx="978.8" r="4.9"/><circle cx="981.5" r="4.9"/><circle cx="984.2" r="4.9"/><circle cx="995.0" r="4.9"/><circle cx="1004.1" r="4.9"/><circle cx="1005.0" r="4.9"/><circle cx="1005.9" r="4.9"/></g>
<g transform="translate(0,430.2)"><circle cx="317.2" r="4.9"/><circle cx="333.4" r="4.9"/><circle cx="343.3" r="4.9"/><circle cx="355.1" r="4.9"/><circle cx="363.2" r="4.9"/><circle cx="369.5" r="4.9"/><circle cx="376.7" r="4.9"/><circle cx="381.2" r="4.9"/><circle cx="392.0" r="4.9"/><circle cx="394.7" r="4.9"/><circle cx="410.9" r="4.9"/><circle cx="423.6" r="4.9"/><circle cx="432.6" r="4.9"/><circle cx="447.0" r="4.9"/><circle cx="449.7" r="4.9"/><circle cx="454.2" r="4.9"/><circle cx="457.8" r="4.9"/><circle cx="463.2" r="4.9"/><circle cx="471.3" r="4.9"/><circle cx="482.2" r="4.9"/><circle cx="486.7" r="4.9"/><circle cx="488.5" r="4.9"/><circle cx="503.8" r="4.9"/><circle cx="590.3" r="4.9"/><circle cx="592.1" r="4.9"/><circle cx="597.5" r="4.9"/><circle cx="605.6" r="4.9"/><circle cx="609.2" r="4.9"/><circle cx="648.9" r="4.9"/><circle cx="665.1" r="4.9"/><circle cx="675.1" r="4.9"/><circle cx="679.6" r="4.9"/><circle cx="704.8" r="4.9"/><circle cx="705.7" r="4.9"/><circle cx="708.4" r="4.9"/><circle cx="711.1" r="4.9"/><circle cx="728.2" r="4.9"/><circle cx="743.6" r="4.9"/><circle cx="767.0" r="4.9"/><circle cx="775.1" r="4.9"/><circle cx="776.9" r="4.9"/><circle cx="830.1" r="4.9"/><circle cx="835.5" r="4.9"/><circle cx="881.5" r="4.9"/><circle cx="885.1" r="4.9"/><circle cx="890.5" r="4.9"/><circle cx="911.2" r="4.9"/><circle cx="913.9" r="4.9"/><circle cx="922.0" r="4.9"/><circle cx="966.2" r="4.9"/><circle cx="515.5" r="4.9"/><circle cx="562.4" r="4.9"/><circle cx="850.8" r="4.9"/><circle cx="872.5" r="4.9"/><circle cx="952.7" r="4.9"/><circle cx="956.3" r="4.9"/><circle cx="960.8" r="4.9"/><circle cx="977.9" r="4.9"/><circle cx="994.1" r="4.9"/><circle cx="1008.6" r="4.9"/><circle cx="333.4" r="4.9"/><circle cx="338.8" r="4.9"/><circle cx="360.5" r="4.9"/><circle cx="416.3" r="4.9"/><circle cx="484.9" r="4.9"/><circle cx="490.3" r="4.9"/><circle cx="556.1" r="4.9"/><circle cx="598.4" r="4.9"/><circle cx="636.3" r="4.9"/><circle cx="682.3" r="4.9"/><circle cx="818.4" r="4.9"/><circle cx="863.4" r="4.9"/><circle cx="908.5" r="4.9"/><circle cx="910.3" r="4.9"/><circle cx="945.5" r="4.9"/><circle cx="973.4" r="4.9"/><circle cx="994.1" r="4.9"/><circle cx="560.6" r="4.9"/><circle cx="282.9" r="4.9"/><circle cx="303.7" r="4.9"/><circle cx="317.2" r="4.9"/><circle cx="328.9" r="4.9"/><circle cx="397.4" r="4.9"/><circle cx="409.1" r="4.9"/><circle cx="414.5" r="4.9"/><circle cx="427.2" r="4.9"/><circle cx="436.2" r="4.9"/><circle cx="623.7" r="4.9"/><circle cx="263.1" r="4.9"/><circle cx="269.4" r="4.9"/><circle cx="270.3" r="4.9"/><circle cx="271.2" r="4.9"/><circle cx="280.2" r="4.9"/><circle cx="282.0" r="4.9"/><circle cx="289.3" r="4.9"/><circle cx="292.0" r="4.9"/><circle cx="298.3" r="4.9"/><circle cx="299.2" r="4.9"/><circle cx="303.7" r="4.9"/><circle cx="321.7" r="4.9"/><circle cx="325.3" r="4.9"/><circle cx="331.6" r="4.9"/><circle cx="337.9" r="4.9"/><circle cx="340.6" r="4.9"/><circle cx="340.6" r="4.9"/><circle cx="347.8" r="4.9"/><circle cx="350.5" r="4.9"/><circle cx="365.0" r="4.9"/><circle cx="367.7" r="4.9"/><circle cx="370.4" r="4.9"/><circle cx="370.4" r="4.9"/><circle cx="371.3" r="4.9"/><circle cx="371.3" r="4.9"/><circle cx="382.1" r="4.9"/><circle cx="383.0" r="4.9"/><circle cx="392.0" r="4.9"/><circle cx="393.8" r="4.9"/><circle cx="403.7" r="4.9"/><circle cx="403.7" r="4.9"/><circle cx="412.7" r="4.9"/><circle cx="417.3" r="4.9"/><circle cx="417.3" r="4.9"/><circle cx="419.1" r="4.9"/><circle cx="433.5" r="4.9"/><circle cx="433.5" r="4.9"/><circle cx="434.4" r="4.9"/><circle cx="436.2" r="4.9"/><circle cx="439.8" r="4.9"/><circle cx="441.6" r="4.9"/><circle cx="443.4" r="4.9"/><circle cx="445.2" r="4.9"/><circle cx="455.1" r="4.9"/><circle cx="456.0" r="4.9"/><circle cx="467.7" r="4.9"/><circle cx="473.1" r="4.9"/><circle cx="475.8" r="4.9"/><circle cx="484.0" r="4.9"/><circle cx="488.5" r="4.9"/><circle cx="494.8" r="4.9"/><circle cx="502.9" r="4.9"/><circle cx="512.8" r="4.9"/><circle cx="528.1" r="4.9"/><circle cx="529.9" r="4.9"/><circle cx="529.9" r="4.9"/><circle cx="534.4" r="4.9"/><circle cx="541.6" r="4.9"/><circle cx="552.5" r="4.9"/><circle cx="555.2" r="4.9"/><circle cx="556.1" r="4.9"/><circle cx="558.8" r="4.9"/><circle cx="566.0" r="4.9"/><circle cx="566.0" r="4.9"/><circle cx="573.2" r="4.9"/><circle cx="579.5" r="4.9"/><circle cx="580.4" r="4.9"/><circle cx="582.2" r="4.9"/><circle cx="584.9" r="4.9"/><circle cx="585.8" r="4.9"/><circle cx="585.8" r="4.9"/><circle cx="586.7" r="4.9"/><circle cx="589.4" r="4.9"/><circle cx="591.2" r="4.9"/><circle cx="623.7" r="4.9"/><circle cx="632.7" r="4.9"/><circle cx="633.6" r="4.9"/><circle cx="642.6" r="4.9"/><circle cx="642.6" r="4.9"/><circle cx="646.2" r="4.9"/><circle cx="646.2" r="4.9"/><circle cx="648.0" r="4.9"/><circle cx="661.5" r="4.9"/><circle cx="662.4" r="4.9"/><circle cx="670.5" r="4.9"/><circle cx="676.9" r="4.9"/><circle cx="681.4" r="4.9"/><circle cx="683.2" r="4.9"/><circle cx="694.9" r="4.9"/><circle cx="709.3" r="4.9"/><circle cx="713.8" r="4.9"/><circle cx="741.8" r="4.9"/><circle cx="746.3" r="4.9"/><circle cx="748.1" r="4.9"/><circle cx="753.5" r="4.9"/><circle cx="765.2" r="4.9"/><circle cx="766.1" r="4.9"/><circle cx="767.9" r="4.9"/><circle cx="779.6" r="4.9"/><circle cx="785.0" r="4.9"/><circle cx="789.5" r="4.9"/><circle cx="791.3" r="4.9"/><circle cx="799.4" r="4.9"/><circle cx="806.7" r="4.9"/><circle cx="816.6" r="4.9"/><circle cx="819.3" r="4.9"/><circle cx="821.1" r="4.9"/><circle cx="825.6" r="4.9"/><circle cx="877.9" r="4.9"/><circle cx="878.8" r="4.9"/><circle cx="883.3" r="4.9"/><circle cx="903.1" r="4.9"/><circle cx="904.0" r="4.9"/><circle cx="906.7" r="4.9"/><circle cx="909.4" r="4.9"/><circle cx="914.8" r="4.9"/><circle cx="922.0" r="4.9"/><circle cx="922.9" r="4.9"/><circle cx="927.4" r="4.9"/><circle cx="933.8" r="4.9"/><circle cx="939.2" r="4.9"/><circle cx="954.5" r="4.9"/><circle cx="958.1" r="4.9"/><circle cx="977.0" r="4.9"/><circle cx="977.9" r="4.9"/><circle cx="982.4" r="4.9"/><circle cx="992.3" r="4.9"/><circle cx="1003.2" r="4.9"/></g>
<g transform="translate(0,422.3)"><circle cx="275.7" r="4.9"/><circle cx="294.7" r="4.9"/><circle cx="303.7" r="4.9"/><circle cx="310.0" r="4.9"/><circle cx="310.9" r="4.9"/><circle cx="313.6" r="4.9"/><circle cx="315.4" r="4.9"/><circle cx="325.3" r="4.9"/><circle cx="328.0" r="4.9"/><circle cx="329.8" r="4.9"/><circle cx="337.9" r="4.9"/><circle cx="347.8" r="4.9"/><circle cx="352.3" r="4.9"/><circle cx="366.8" r="4.9"/><circle cx="387.5" r="4.9"/><circle cx="405.5" r="4.9"/><circle cx="429.9" r="4.9"/><circle cx="436.2" r="4.9"/><circle cx="441.6" r="4.9"/><circle cx="442.5" r="4.9"/><circle cx="444.3" r="4.9"/><circle cx="455.1" r="4.9"/><circle cx="459.6" r="4.9"/><circle cx="587.6" r="4.9"/><circle cx="596.6" r="4.9"/><circle cx="602.0" r="4.9"/><circle cx="606.5" r="4.9"/><circle cx="608.3" r="4.9"/><circle cx="616.5" r="4.9"/><circle cx="623.7" r="4.9"/><circle cx="628.2" r="4.9"/><circle cx="632.7" r="4.9"/><circle cx="682.3" r="4.9"/><circle cx="686.8" r="4.9"/><circle cx="690.4" r="4.9"/><circle cx="701.2" r="4.9"/><circle cx="703.0" r="4.9"/><circle cx="712.0" r="4.9"/><circle cx="758.9" r="4.9"/><circle cx="782.3" r="4.9"/><circle cx="798.5" r="4.9"/><circle cx="820.2" r="4.9"/><circle cx="392.9" r="4.9"/><circle cx="495.7" r="4.9"/><circle cx="497.5" r="4.9"/><circle cx="520.0" r="4.9"/><circle cx="575.9" r="4.9"/><circle cx="643.5" r="4.9"/><circle cx="669.6" r="4.9"/><circle cx="671.4" r="4.9"/><circle cx="734.5" r="4.9"/><circle cx="791.3" r="4.9"/><circle cx="856.2" r="4.9"/><circle cx="877.9" r="4.9"/><circle cx="882.4" r="4.9"/><circle cx="883.3" r="4.9"/><circle cx="898.6" r="4.9"/><circle cx="906.7" r="4.9"/><circle cx="921.1" r="4.9"/><circle cx="931.0" r="4.9"/><circle cx="951.8" r="4.9"/><circle cx="964.4" r="4.9"/><circle cx="969.8" r="4.9"/><circle cx="974.3" r="4.9"/><circle cx="391.1" r="4.9"/><circle cx="398.3" r="4.9"/><circle cx="402.8" r="4.9"/><circle cx="404.6" r="4.9"/><circle cx="435.3" r="4.9"/><circle cx="447.0" r="4.9"/><circle cx="447.9" r="4.9"/><circle cx="460.5" r="4.9"/><circle cx="497.5" r="4.9"/><circle cx="517.3" r="4.9"/><circle cx="594.8" r="4.9"/><circle cx="634.5" r="4.9"/><circle cx="648.0" r="4.9"/><circle cx="774.2" r="4.9"/><circle cx="796.7" r="4.9"/><circle cx="835.5" r="4.9"/><circle cx="894.1" r="4.9"/><circle cx="903.1" r="4.9"/><circle cx="918.4" r="4.9"/><circle cx="971.6" r="4.9"/><circle cx="575.9" r="4.9"/><circle cx="364.1" r="4.9"/><circle cx="372.2" r="4.9"/><circle cx="255.9" r="4.9"/><circle cx="273.0" r="4.9"/><circle cx="278.4" r="4.9"/><circle cx="282.0" r="4.9"/><circle cx="301.9" r="4.9"/><circle cx="303.7" r="4.9"/><circle cx="314.5" r="4.9"/><circle cx="328.0" r="4.9"/><circle cx="330.7" r="4.9"/><circle cx="331.6" r="4.9"/><circle cx="333.4" r="4.9"/><circle cx="333.4" r="4.9"/><circle cx="343.3" r="4.9"/><circle cx="343.3" r="4.9"/><circle cx="355.1" r="4.9"/><circle cx="356.9" r="4.9"/><circle cx="358.7" r="4.9"/><circle cx="365.0" r="4.9"/><circle cx="368.6" r="4.9"/><circle cx="372.2" r="4.9"/><circle cx="373.1" r="4.9"/><circle cx="375.8" r="4.9"/><circle cx="392.9" r="4.9"/><circle cx="393.8" r="4.9"/><circle cx="393.8" r="4.9"/><circle cx="398.3" r="4.9"/><circle cx="409.1" r="4.9"/><circle cx="418.2" r="4.9"/><circle cx="420.0" r="4.9"/><circle cx="429.0" r="4.9"/><circle cx="435.3" r="4.9"/><circle cx="449.7" r="4.9"/><circle cx="450.6" r="4.9"/><circle cx="475.8" r="4.9"/><circle cx="478.5" r="4.9"/><circle cx="483.1" r="4.9"/><circle cx="492.1" r="4.9"/><circle cx="493.9" r="4.9"/><circle cx="501.1" r="4.9"/><circle cx="502.0" r="4.9"/><circle cx="508.3" r="4.9"/><circle cx="510.1" r="4.9"/><circle cx="511.9" r="4.9"/><circle cx="512.8" r="4.9"/><circle cx="512.8" r="4.9"/><circle cx="522.7" r="4.9"/><circle cx="522.7" r="4.9"/><circle cx="525.4" r="4.9"/><circle cx="533.5" r="4.9"/><circle cx="540.7" r="4.9"/><circle cx="561.5" r="4.9"/><circle cx="568.7" r="4.9"/><circle cx="568.7" r="4.9"/><circle cx="569.6" r="4.9"/><circle cx="569.6" r="4.9"/><circle cx="577.7" r="4.9"/><circle cx="583.1" r="4.9"/><circle cx="584.0" r="4.9"/><circle cx="584.9" r="4.9"/><circle cx="586.7" r="4.9"/><circle cx="593.0" r="4.9"/><circle cx="603.8" r="4.9"/><circle cx="607.4" r="4.9"/><circle cx="608.3" r="4.9"/><circle cx="609.2" r="4.9"/><circle cx="610.1" r="4.9"/><circle cx="612.0" r="4.9"/><circle cx="612.9" r="4.9"/><circle cx="612.9" r="4.9"/><circle cx="615.6" r="4.9"/><circle cx="616.5" r="4.9"/><circle cx="621.0" r="4.9"/><circle cx="630.9" r="4.9"/><circle cx="639.0" r="4.9"/><circle cx="647.1" r="4.9"/><circle cx="648.9" r="4.9"/><circle cx="651.6" r="4.9"/><circle cx="664.2" r="4.9"/><circle cx="670.5" r="4.9"/><circle cx="679.6" r="4.9"/><circle cx="690.4" r="4.9"/><circle cx="693.1" r="4.9"/><circle cx="707.5" r="4.9"/><circle cx="711.1" r="4.9"/><circle cx="715.6" r="4.9"/><circle cx="729.1" r="4.9"/><circle cx="740.9" r="4.9"/><circle cx="740.9" r="4.9"/><circle cx="760.7" r="4.9"/><circle cx="760.7" r="4.9"/><circle cx="761.6" r="4.9"/><circle cx="764.3" r="4.9"/><circle cx="774.2" r="4.9"/><circle cx="778.7" r="4.9"/><circle cx="794.9" r="4.9"/><circle cx="802.1" r="4.9"/><circle cx="806.7" r="4.9"/><circle cx="809.4" r="4.9"/><circle cx="814.8" r="4.9"/><circle cx="819.3" r="4.9"/><circle cx="829.2" r="4.9"/><circle cx="830.1" r="4.9"/><circle cx="837.3" r="4.9"/><circle cx="838.2" r="4.9"/><circle cx="839.1" r="4.9"/><circle cx="842.7" r="4.9"/><circle cx="857.1" r="4.9"/><circle cx="863.4" r="4.9"/><circle cx="876.1" r="4.9"/><circle cx="878.8" r="4.9"/><circle cx="878.8" r="4.9"/><circle cx="883.3" r="4.9"/><circle cx="885.1" r="4.9"/><circle cx="890.5" r="4.9"/><circle cx="904.0" r="4.9"/><circle cx="906.7" r="4.9"/><circle cx="913.0" r="4.9"/><circle cx="915.7" r="4.9"/><circle cx="927.4" r="4.9"/><circle cx="959.9" r="4.9"/><circle cx="962.6" r="4.9"/><circle cx="991.4" r="4.9"/><circle cx="996.9" r="4.9"/><circle cx="997.8" r="4.9"/><circle cx="1003.2" r="4.9"/><circle cx="1009.5" r="4.9"/></g>
<g transform="translate(0,414.4)"><circle cx="276.6" r="4.9"/><circle cx="287.4" r="4.9"/><circle cx="349.6" r="4.9"/><circle cx="586.7" r="4.9"/><circle cx="735.4" r="4.9"/><circle cx="754.4" r="4.9"/><circle cx="765.2" r="4.9"/><circle cx="390.2" r="4.9"/><circle cx="410.0" r="4.9"/><circle cx="423.6" r="4.9"/><circle cx="425.4" r="4.9"/><circle cx="428.1" r="4.9"/><circle cx="443.4" r="4.9"/><circle cx="452.4" r="4.9"/><circle cx="454.2" r="4.9"/><circle cx="484.0" r="4.9"/><circle cx="511.9" r="4.9"/><circle cx="513.7" r="4.9"/><circle cx="520.9" r="4.9"/><circle cx="566.0" r="4.9"/><circle cx="574.1" r="4.9"/><circle cx="580.4" r="4.9"/><circle cx="623.7" r="4.9"/><circle cx="646.2" r="4.9"/><circle cx="695.8" r="4.9"/><circle cx="721.9" r="4.9"/><circle cx="797.6" r="4.9"/><circle cx="814.8" r="4.9"/><circle cx="840.9" r="4.9"/><circle cx="845.4" r="4.9"/><circle cx="884.2" r="4.9"/><circle cx="904.9" r="4.9"/><circle cx="936.5" r="4.9"/><circle cx="965.3" r="4.9"/><circle cx="992.3" r="4.9"/><circle cx="998.7" r="4.9"/><circle cx="1000.5" r="4.9"/><circle cx="311.8" r="4.9"/><circle cx="369.5" r="4.9"/><circle cx="376.7" r="4.9"/><circle cx="420.0" r="4.9"/><circle cx="450.6" r="4.9"/><circle cx="474.9" r="4.9"/><circle cx="509.2" r="4.9"/><circle cx="621.0" r="4.9"/><circle cx="629.1" r="4.9"/><circle cx="654.3" r="4.9"/><circle cx="701.2" r="4.9"/><circle cx="720.1" r="4.9"/><circle cx="734.5" r="4.9"/><circle cx="743.6" r="4.9"/><circle cx="746.3" r="4.9"/><circle cx="779.6" r="4.9"/><circle cx="788.6" r="4.9"/><circle cx="804.9" r="4.9"/><circle cx="904.9" r="4.9"/><circle cx="968.0" r="4.9"/><circle cx="488.5" r="4.9"/><circle cx="536.2" r="4.9"/><circle cx="550.7" r="4.9"/><circle cx="558.8" r="4.9"/><circle cx="267.6" r="4.9"/><circle cx="275.7" r="4.9"/><circle cx="284.7" r="4.9"/><circle cx="287.4" r="4.9"/><circle cx="415.4" r="4.9"/><circle cx="231.6" r="4.9"/><circle cx="255.0" r="4.9"/><circle cx="263.1" r="4.9"/><circle cx="278.4" r="4.9"/><circle cx="278.4" r="4.9"/><circle cx="292.9" r="4.9"/><circle cx="301.0" r="4.9"/><circle cx="311.8" r="4.9"/><circle cx="319.9" r="4.9"/><circle cx="328.0" r="4.9"/><circle cx="334.3" r="4.9"/><circle cx="337.9" r="4.9"/><circle cx="346.0" r="4.9"/><circle cx="346.0" r="4.9"/><circle cx="349.6" r="4.9"/><circle cx="354.2" r="4.9"/><circle cx="358.7" r="4.9"/><circle cx="367.7" r="4.9"/><circle cx="373.1" r="4.9"/><circle cx="377.6" r="4.9"/><circle cx="378.5" r="4.9"/><circle cx="385.7" r="4.9"/><circle cx="389.3" r="4.9"/><circle cx="393.8" r="4.9"/><circle cx="396.5" r="4.9"/><circle cx="401.0" r="4.9"/><circle cx="416.3" r="4.9"/><circle cx="423.6" r="4.9"/><circle cx="433.5" r="4.9"/><circle cx="436.2" r="4.9"/><circle cx="452.4" r="4.9"/><circle cx="464.1" r="4.9"/><circle cx="469.5" r="4.9"/><circle cx="471.3" r="4.9"/><circle cx="475.8" r="4.9"/><circle cx="486.7" r="4.9"/><circle cx="490.3" r="4.9"/><circle cx="495.7" r="4.9"/><circle cx="513.7" r="4.9"/><circle cx="515.5" r="4.9"/><circle cx="516.4" r="4.9"/><circle cx="523.6" r="4.9"/><circle cx="524.5" r="4.9"/><circle cx="533.5" r="4.9"/><circle cx="545.2" r="4.9"/><circle cx="559.7" r="4.9"/><circle cx="586.7" r="4.9"/><circle cx="587.6" r="4.9"/><circle cx="599.3" r="4.9"/><circle cx="601.1" r="4.9"/><circle cx="602.0" r="4.9"/><circle cx="614.7" r="4.9"/><circle cx="621.9" r="4.9"/><circle cx="622.8" r="4.9"/><circle cx="627.3" r="4.9"/><circle cx="630.9" r="4.9"/><circle cx="634.5" r="4.9"/><circle cx="635.4" r="4.9"/><circle cx="639.9" r="4.9"/><circle cx="641.7" r="4.9"/><circle cx="644.4" r="4.9"/><circle cx="648.0" r="4.9"/><circle cx="651.6" r="4.9"/><circle cx="659.7" r="4.9"/><circle cx="663.3" r="4.9"/><circle cx="673.2" r="4.9"/><circle cx="677.8" r="4.9"/><circle cx="689.5" r="4.9"/><circle cx="703.0" r="4.9"/><circle cx="703.0" r="4.9"/><circle cx="704.8" r="4.9"/><circle cx="709.3" r="4.9"/><circle cx="713.8" r="4.9"/><circle cx="716.5" r="4.9"/><circle cx="719.2" r="4.9"/><circle cx="733.6" r="4.9"/><circle cx="746.3" r="4.9"/><circle cx="767.0" r="4.9"/><circle cx="773.3" r="4.9"/><circle cx="787.7" r="4.9"/><circle cx="791.3" r="4.9"/><circle cx="795.8" r="4.9"/><circle cx="797.6" r="4.9"/><circle cx="798.5" r="4.9"/><circle cx="802.1" r="4.9"/><circle cx="804.0" r="4.9"/><circle cx="817.5" r="4.9"/><circle cx="824.7" r="4.9"/><circle cx="826.5" r="4.9"/><circle cx="829.2" r="4.9"/><circle cx="835.5" r="4.9"/><circle cx="840.9" r="4.9"/><circle cx="848.1" r="4.9"/><circle cx="852.6" r="4.9"/><circle cx="852.6" r="4.9"/><circle cx="874.3" r="4.9"/><circle cx="889.6" r="4.9"/><circle cx="892.3" r="4.9"/><circle cx="899.5" r="4.9"/><circle cx="907.6" r="4.9"/><circle cx="912.1" r="4.9"/><circle cx="913.9" r="4.9"/><circle cx="914.8" r="4.9"/><circle cx="916.6" r="4.9"/><circle cx="917.5" r="4.9"/><circle cx="919.3" r="4.9"/><circle cx="921.1" r="4.9"/><circle cx="922.0" r="4.9"/><circle cx="923.8" r="4.9"/><circle cx="926.5" r="4.9"/><circle cx="934.7" r="4.9"/><circle cx="942.8" r="4.9"/><circle cx="943.7" r="4.9"/><circle cx="946.4" r="4.9"/><circle cx="946.4" r="4.9"/><circle cx="949.1" r="4.9"/><circle cx="952.7" r="4.9"/><circle cx="956.3" r="4.9"/><circle cx="959.0" r="4.9"/><circle cx="959.9" r="4.9"/><circle cx="970.7" r="4.9"/><circle cx="979.7" r="4.9"/><circle cx="986.9" r="4.9"/><circle cx="992.3" r="4.9"/><circle cx="998.7" r="4.9"/></g>
<g transform="translate(0,406.4)"><circle cx="284.7" r="4.9"/><circle cx="285.6" r="4.9"/><circle cx="301.0" r="4.9"/><circle cx="379.4" r="4.9"/><circle cx="381.2" r="4.9"/><circle cx="410.9" r="4.9"/><circle cx="420.9" r="4.9"/><circle cx="472.2" r="4.9"/><circle cx="489.4" r="4.9"/><circle cx="491.2" r="4.9"/><circle cx="577.7" r="4.9"/><circle cx="579.5" r="4.9"/><circle cx="581.3" r="4.9"/><circle cx="583.1" r="4.9"/><circle cx="609.2" r="4.9"/><circle cx="612.0" r="4.9"/><circle cx="654.3" r="4.9"/><circle cx="658.8" r="4.9"/><circle cx="676.9" r="4.9"/><circle cx="688.6" r="4.9"/><circle cx="736.3" r="4.9"/><circle cx="782.3" r="4.9"/><circle cx="785.9" r="4.9"/><circle cx="793.1" r="4.9"/><circle cx="794.0" r="4.9"/><circle cx="801.2" r="4.9"/><circle cx="803.0" r="4.9"/><circle cx="812.1" r="4.9"/><circle cx="826.5" r="4.9"/><circle cx="848.1" r="4.9"/><circle cx="858.9" r="4.9"/><circle cx="895.0" r="4.9"/><circle cx="913.9" r="4.9"/><circle cx="365.9" r="4.9"/><circle cx="379.4" r="4.9"/><circle cx="396.5" r="4.9"/><circle cx="411.8" r="4.9"/><circle cx="458.7" r="4.9"/><circle cx="465.9" r="4.9"/><circle cx="493.0" r="4.9"/><circle cx="584.9" r="4.9"/><circle cx="590.3" r="4.9"/><circle cx="613.8" r="4.9"/><circle cx="635.4" r="4.9"/><circle cx="642.6" r="4.9"/><circle cx="730.0" r="4.9"/><circle cx="736.3" r="4.9"/><circle cx="879.7" r="4.9"/><circle cx="897.7" r="4.9"/><circle cx="924.7" r="4.9"/><circle cx="491.2" r="4.9"/><circle cx="528.1" r="4.9"/><circle cx="529.0" r="4.9"/><circle cx="543.4" r="4.9"/><circle cx="561.5" r="4.9"/><circle cx="568.7" r="4.9"/><circle cx="300.1" r="4.9"/><circle cx="219.8" r="4.9"/><circle cx="235.2" r="4.9"/><circle cx="250.5" r="4.9"/><circle cx="264.9" r="4.9"/><circle cx="282.0" r="4.9"/><circle cx="286.5" r="4.9"/><circle cx="310.0" r="4.9"/><circle cx="329.8" r="4.9"/><circle cx="330.7" r="4.9"/><circle cx="336.1" r="4.9"/><circle cx="336.1" r="4.9"/><circle cx="342.4" r="4.9"/><circle cx="348.7" r="4.9"/><circle cx="349.6" r="4.9"/><circle cx="355.1" r="4.9"/><circle cx="357.8" r="4.9"/><circle cx="371.3" r="4.9"/><circle cx="381.2" r="4.9"/><circle cx="396.5" r="4.9"/><circle cx="410.9" r="4.9"/><circle cx="411.8" r="4.9"/><circle cx="412.7" r="4.9"/><circle cx="413.6" r="4.9"/><circle cx="419.1" r="4.9"/><circle cx="427.2" r="4.9"/><circle cx="429.9" r="4.9"/><circle cx="430.8" r="4.9"/><circle cx="432.6" r="4.9"/><circle cx="436.2" r="4.9"/><circle cx="463.2" r="4.9"/><circle cx="474.9" r="4.9"/><circle cx="478.5" r="4.9"/><circle cx="479.4" r="4.9"/><circle cx="482.2" r="4.9"/><circle cx="483.1" r="4.9"/><circle cx="484.9" r="4.9"/><circle cx="486.7" r="4.9"/><circle cx="502.0" r="4.9"/><circle cx="506.5" r="4.9"/><circle cx="508.3" r="4.9"/><circle cx="508.3" r="4.9"/><circle cx="510.1" r="4.9"/><circle cx="520.0" r="4.9"/><circle cx="523.6" r="4.9"/><circle cx="530.8" r="4.9"/><circle cx="536.2" r="4.9"/><circle cx="540.7" r="4.9"/><circle cx="541.6" r="4.9"/><circle cx="555.2" r="4.9"/><circle cx="578.6" r="4.9"/><circle cx="579.5" r="4.9"/><circle cx="583.1" r="4.9"/><circle cx="591.2" r="4.9"/><circle cx="593.9" r="4.9"/><circle cx="595.7" r="4.9"/><circle cx="595.7" r="4.9"/><circle cx="597.5" r="4.9"/><circle cx="611.1" r="4.9"/><circle cx="626.4" r="4.9"/><circle cx="629.1" r="4.9"/><circle cx="630.9" r="4.9"/><circle cx="635.4" r="4.9"/><circle cx="638.1" r="4.9"/><circle cx="642.6" r="4.9"/><circle cx="647.1" r="4.9"/><circle cx="650.7" r="4.9"/><circle cx="654.3" r="4.9"/><circle cx="658.8" r="4.9"/><circle cx="665.1" r="4.9"/><circle cx="667.8" r="4.9"/><circle cx="670.5" r="4.9"/><circle cx="673.2" r="4.9"/><circle cx="674.1" r="4.9"/><circle cx="677.8" r="4.9"/><circle cx="697.6" r="4.9"/><circle cx="698.5" r="4.9"/><circle cx="701.2" r="4.9"/><circle cx="701.2" r="4.9"/><circle cx="704.8" r="4.9"/><circle cx="716.5" r="4.9"/><circle cx="743.6" r="4.9"/><circle cx="747.2" r="4.9"/><circle cx="763.4" r="4.9"/><circle cx="766.1" r="4.9"/><circle cx="775.1" r="4.9"/><circle cx="776.0" r="4.9"/><circle cx="782.3" r="4.9"/><circle cx="782.3" r="4.9"/><circle cx="786.8" r="4.9"/><circle cx="793.1" r="4.9"/><circle cx="800.3" r="4.9"/><circle cx="807.6" r="4.9"/><circle cx="809.4" r="4.9"/><circle cx="826.5" r="4.9"/><circle cx="837.3" r="4.9"/><circle cx="847.2" r="4.9"/><circle cx="856.2" r="4.9"/><circle cx="868.9" r="4.9"/><circle cx="875.2" r="4.9"/><circle cx="880.6" r="4.9"/><circle cx="884.2" r="4.9"/><circle cx="885.1" r="4.9"/><circle cx="889.6" r="4.9"/><circle cx="892.3" r="4.9"/><circle cx="900.4" r="4.9"/><circle cx="910.3" r="4.9"/><circle cx="910.3" r="4.9"/><circle cx="916.6" r="4.9"/><circle cx="921.1" r="4.9"/><circle cx="939.2" r="4.9"/><circle cx="944.6" r="4.9"/><circle cx="945.5" r="4.9"/><circle cx="975.2" r="4.9"/><circle cx="997.8" r="4.9"/><circle cx="1004.1" r="4.9"/><circle cx="1006.8" r="4.9"/></g>
<g transform="translate(0,398.5)"><circle cx="260.4" r="4.9"/><circle cx="264.9" r="4.9"/><circle cx="273.0" r="4.9"/><circle cx="305.5" r="4.9"/><circle cx="318.1" r="4.9"/><circle cx="331.6" r="4.9"/><circle cx="336.1" r="4.9"/><circle cx="375.8" r="4.9"/><circle cx="384.8" r="4.9"/><circle cx="407.3" r="4.9"/><circle cx="408.2" r="4.9"/><circle cx="462.3" r="4.9"/><circle cx="476.7" r="4.9"/><circle cx="480.3" r="4.9"/><circle cx="487.6" r="4.9"/><circle cx="504.7" r="4.9"/><circle cx="593.0" r="4.9"/><circle cx="606.5" r="4.9"/><circle cx="674.1" r="4.9"/><circle cx="685.0" r="4.9"/><circle cx="694.0" r="4.9"/><circle cx="703.9" r="4.9"/><circle cx="717.4" r="4.9"/><circle cx="743.6" r="4.9"/><circle cx="747.2" r="4.9"/><circle cx="762.5" r="4.9"/><circle cx="765.2" r="4.9"/><circle cx="781.4" r="4.9"/><circle cx="836.4" r="4.9"/><circle cx="852.6" r="4.9"/><circle cx="886.0" r="4.9"/><circle cx="922.0" r="4.9"/><circle cx="941.9" r="4.9"/><circle cx="283.8" r="4.9"/><circle cx="292.0" r="4.9"/><circle cx="307.3" r="4.9"/><circle cx="312.7" r="4.9"/><circle cx="314.5" r="4.9"/><circle cx="364.1" r="4.9"/><circle cx="474.0" r="4.9"/><circle cx="625.5" r="4.9"/><circle cx="686.8" r="4.9"/><circle cx="756.2" r="4.9"/><circle cx="456.9" r="4.9"/><circle cx="484.0" r="4.9"/><circle cx="492.1" r="4.9"/><circle cx="498.4" r="4.9"/><circle cx="586.7" r="4.9"/><circle cx="670.5" r="4.9"/><circle cx="675.1" r="4.9"/><circle cx="680.5" r="4.9"/><circle cx="697.6" r="4.9"/><circle cx="296.5" r="4.9"/><circle cx="157.6" r="4.9"/><circle cx="195.5" r="4.9"/><circle cx="230.7" r="4.9"/><circle cx="233.4" r="4.9"/><circle cx="233.4" r="4.9"/><circle cx="252.3" r="4.9"/><circle cx="259.5" r="4.9"/><circle cx="260.4" r="4.9"/><circle cx="264.9" r="4.9"/><circle cx="276.6" r="4.9"/><circle cx="282.9" r="4.9"/><circle cx="287.4" r="4.9"/><circle cx="293.8" r="4.9"/><circle cx="294.7" r="4.9"/><circle cx="295.6" r="4.9"/><circle cx="295.6" r="4.9"/><circle cx="296.5" r="4.9"/><circle cx="301.0" r="4.9"/><circle cx="305.5" r="4.9"/><circle cx="306.4" r="4.9"/><circle cx="310.9" r="4.9"/><circle cx="311.8" r="4.9"/><circle cx="323.5" r="4.9"/><circle cx="323.5" r="4.9"/><circle cx="323.5" r="4.9"/><circle cx="327.1" r="4.9"/><circle cx="331.6" r="4.9"/><circle cx="331.6" r="4.9"/><circle cx="333.4" r="4.9"/><circle cx="333.4" r="4.9"/><circle cx="349.6" r="4.9"/><circle cx="352.3" r="4.9"/><circle cx="354.2" r="4.9"/><circle cx="367.7" r="4.9"/><circle cx="374.9" r="4.9"/><circle cx="377.6" r="4.9"/><circle cx="392.9" r="4.9"/><circle cx="392.9" r="4.9"/><circle cx="394.7" r="4.9"/><circle cx="397.4" r="4.9"/><circle cx="398.3" r="4.9"/><circle cx="401.9" r="4.9"/><circle cx="402.8" r="4.9"/><circle cx="404.6" r="4.9"/><circle cx="409.1" r="4.9"/><circle cx="419.1" r="4.9"/><circle cx="420.0" r="4.9"/><circle cx="421.8" r="4.9"/><circle cx="428.1" r="4.9"/><circle cx="429.0" r="4.9"/><circle cx="430.8" r="4.9"/><circle cx="440.7" r="4.9"/><circle cx="440.7" r="4.9"/><circle cx="441.6" r="4.9"/><circle cx="445.2" r="4.9"/><circle cx="461.4" r="4.9"/><circle cx="462.3" r="4.9"/><circle cx="466.8" r="4.9"/><circle cx="469.5" r="4.9"/><circle cx="469.5" r="4.9"/><circle cx="475.8" r="4.9"/><circle cx="496.6" r="4.9"/><circle cx="502.9" r="4.9"/><circle cx="520.0" r="4.9"/><circle cx="527.2" r="4.9"/><circle cx="531.7" r="4.9"/><circle cx="579.5" r="4.9"/><circle cx="607.4" r="4.9"/><circle cx="620.1" r="4.9"/><circle cx="620.1" r="4.9"/><circle cx="623.7" r="4.9"/><circle cx="627.3" r="4.9"/><circle cx="630.9" r="4.9"/><circle cx="637.2" r="4.9"/><circle cx="639.9" r="4.9"/><circle cx="645.3" r="4.9"/><circle cx="650.7" r="4.9"/><circle cx="661.5" r="4.9"/><circle cx="665.1" r="4.9"/><circle cx="669.6" r="4.9"/><circle cx="682.3" r="4.9"/><circle cx="684.1" r="4.9"/><circle cx="691.3" r="4.9"/><circle cx="694.0" r="4.9"/><circle cx="694.0" r="4.9"/><circle cx="701.2" r="4.9"/><circle cx="701.2" r="4.9"/><circle cx="713.8" r="4.9"/><circle cx="715.6" r="4.9"/><circle cx="726.4" r="4.9"/><circle cx="727.3" r="4.9"/><circle cx="734.5" r="4.9"/><circle cx="745.4" r="4.9"/><circle cx="749.0" r="4.9"/><circle cx="749.9" r="4.9"/><circle cx="779.6" r="4.9"/><circle cx="783.2" r="4.9"/><circle cx="784.1" r="4.9"/><circle cx="795.8" r="4.9"/><circle cx="796.7" r="4.9"/><circle cx="798.5" r="4.9"/><circle cx="831.0" r="4.9"/><circle cx="840.9" r="4.9"/><circle cx="848.1" r="4.9"/><circle cx="850.8" r="4.9"/><circle cx="863.4" r="4.9"/><circle cx="864.3" r="4.9"/><circle cx="866.1" r="4.9"/><circle cx="868.0" r="4.9"/><circle cx="877.9" r="4.9"/><circle cx="886.9" r="4.9"/><circle cx="907.6" r="4.9"/><circle cx="921.1" r="4.9"/><circle cx="931.9" r="4.9"/><circle cx="965.3" r="4.9"/><circle cx="978.8" r="4.9"/><circle cx="991.4" r="4.9"/><circle cx="998.7" r="4.9"/></g>
<g transform="translate(0,390.6)"><circle cx="235.2" r="4.9"/><circle cx="243.3" r="4.9"/><circle cx="255.9" r="4.9"/><circle cx="259.5" r="4.9"/><circle cx="293.8" r="4.9"/><circle cx="327.1" r="4.9"/><circle cx="339.7" r="4.9"/><circle cx="358.7" r="4.9"/><circle cx="360.5" r="4.9"/><circle cx="374.9" r="4.9"/><circle cx="398.3" r="4.9"/><circle cx="457.8" r="4.9"/><circle cx="467.7" r="4.9"/><circle cx="474.9" r="4.9"/><circle cx="587.6" r="4.9"/><circle cx="618.3" r="4.9"/><circle cx="619.2" r="4.9"/><circle cx="629.1" r="4.9"/><circle cx="666.0" r="4.9"/><circle cx="683.2" r="4.9"/><circle cx="771.5" r="4.9"/><circle cx="776.9" r="4.9"/><circle cx="777.8" r="4.9"/><circle cx="807.6" r="4.9"/><circle cx="813.9" r="4.9"/><circle cx="273.9" r="4.9"/><circle cx="276.6" r="4.9"/><circle cx="294.7" r="4.9"/><circle cx="303.7" r="4.9"/><circle cx="309.1" r="4.9"/><circle cx="352.3" r="4.9"/><circle cx="355.1" r="4.9"/><circle cx="373.1" r="4.9"/><circle cx="405.5" r="4.9"/><circle cx="420.9" r="4.9"/><circle cx="424.5" r="4.9"/><circle cx="428.1" r="4.9"/><circle cx="443.4" r="4.9"/><circle cx="512.8" r="4.9"/><circle cx="527.2" r="4.9"/><circle cx="592.1" r="4.9"/><circle cx="600.2" r="4.9"/><circle cx="639.9" r="4.9"/><circle cx="654.3" r="4.9"/><circle cx="667.8" r="4.9"/><circle cx="210.8" r="4.9"/><circle cx="257.7" r="4.9"/><circle cx="127.0" r="4.9"/><circle cx="201.8" r="4.9"/><circle cx="210.8" r="4.9"/><circle cx="236.1" r="4.9"/><circle cx="238.8" r="4.9"/><circle cx="259.5" r="4.9"/><circle cx="260.4" r="4.9"/><circle cx="265.8" r="4.9"/><circle cx="275.7" r="4.9"/><circle cx="278.4" r="4.9"/><circle cx="279.3" r="4.9"/><circle cx="280.2" r="4.9"/><circle cx="291.1" r="4.9"/><circle cx="291.1" r="4.9"/><circle cx="292.0" r="4.9"/><circle cx="298.3" r="4.9"/><circle cx="301.9" r="4.9"/><circle cx="305.5" r="4.9"/><circle cx="306.4" r="4.9"/><circle cx="307.3" r="4.9"/><circle cx="310.9" r="4.9"/><circle cx="319.0" r="4.9"/><circle cx="322.6" r="4.9"/><circle cx="332.5" r="4.9"/><circle cx="337.9" r="4.9"/><circle cx="340.6" r="4.9"/><circle cx="342.4" r="4.9"/><circle cx="349.6" r="4.9"/><circle cx="353.3" r="4.9"/><circle cx="353.3" r="4.9"/><circle cx="366.8" r="4.9"/><circle cx="376.7" r="4.9"/><circle cx="383.9" r="4.9"/><circle cx="385.7" r="4.9"/><circle cx="386.6" r="4.9"/><circle cx="390.2" r="4.9"/><circle cx="415.4" r="4.9"/><circle cx="417.3" r="4.9"/><circle cx="426.3" r="4.9"/><circle cx="431.7" r="4.9"/><circle cx="439.8" r="4.9"/><circle cx="459.6" r="4.9"/><circle cx="463.2" r="4.9"/><circle cx="586.7" r="4.9"/><circle cx="597.5" r="4.9"/><circle cx="603.8" r="4.9"/><circle cx="606.5" r="4.9"/><circle cx="612.0" r="4.9"/><circle cx="612.9" r="4.9"/><circle cx="612.9" r="4.9"/><circle cx="621.9" r="4.9"/><circle cx="638.1" r="4.9"/><circle cx="642.6" r="4.9"/><circle cx="647.1" r="4.9"/><circle cx="650.7" r="4.9"/><circle cx="668.7" r="4.9"/><circle cx="668.7" r="4.9"/><circle cx="673.2" r="4.9"/><circle cx="676.9" r="4.9"/><circle cx="697.6" r="4.9"/><circle cx="700.3" r="4.9"/><circle cx="713.8" r="4.9"/><circle cx="719.2" r="4.9"/><circle cx="720.1" r="4.9"/><circle cx="728.2" r="4.9"/><circle cx="730.9" r="4.9"/><circle cx="740.9" r="4.9"/><circle cx="746.3" r="4.9"/><circle cx="748.1" r="4.9"/><circle cx="753.5" r="4.9"/><circle cx="757.1" r="4.9"/><circle cx="765.2" r="4.9"/><circle cx="782.3" r="4.9"/><circle cx="788.6" r="4.9"/><circle cx="790.4" r="4.9"/><circle cx="794.9" r="4.9"/><circle cx="814.8" r="4.9"/><circle cx="822.9" r="4.9"/><circle cx="825.6" r="4.9"/><circle cx="826.5" r="4.9"/><circle cx="840.9" r="4.9"/><circle cx="917.5" r="4.9"/><circle cx="925.6" r="4.9"/><circle cx="927.4" r="4.9"/><circle cx="941.9" r="4.9"/><circle cx="963.5" r="4.9"/></g>
<g transform="translate(0,382.7)"><circle cx="237.0" r="4.9"/><circle cx="251.4" r="4.9"/><circle cx="292.9" r="4.9"/><circle cx="296.5" r="4.9"/><circle cx="361.4" r="4.9"/><circle cx="365.9" r="4.9"/><circle cx="366.8" r="4.9"/><circle cx="371.3" r="4.9"/><circle cx="372.2" r="4.9"/><circle cx="436.2" r="4.9"/><circle cx="656.1" r="4.9"/><circle cx="709.3" r="4.9"/><circle cx="718.3" r="4.9"/><circle cx="751.7" r="4.9"/><circle cx="779.6" r="4.9"/><circle cx="815.7" r="4.9"/><circle cx="262.2" r="4.9"/><circle cx="271.2" r="4.9"/><circle cx="301.9" r="4.9"/><circle cx="328.0" r="4.9"/><circle cx="336.1" r="4.9"/><circle cx="348.7" r="4.9"/><circle cx="395.6" r="4.9"/><circle cx="401.9" r="4.9"/><circle cx="403.7" r="4.9"/><circle cx="450.6" r="4.9"/><circle cx="468.6" r="4.9"/><circle cx="623.7" r="4.9"/><circle cx="627.3" r="4.9"/><circle cx="633.6" r="4.9"/><circle cx="643.5" r="4.9"/><circle cx="649.8" r="4.9"/><circle cx="694.0" r="4.9"/><circle cx="237.0" r="4.9"/><circle cx="103.6" r="4.9"/><circle cx="160.4" r="4.9"/><circle cx="175.7" r="4.9"/><circle cx="194.6" r="4.9"/><circle cx="196.4" r="4.9"/><circle cx="214.4" r="4.9"/><circle cx="219.8" r="4.9"/><circle cx="231.6" r="4.9"/><circle cx="236.1" r="4.9"/><circle cx="244.2" r="4.9"/><circle cx="262.2" r="4.9"/><circle cx="263.1" r="4.9"/><circle cx="263.1" r="4.9"/><circle cx="296.5" r="4.9"/><circle cx="297.4" r="4.9"/><circle cx="301.9" r="4.9"/><circle cx="303.7" r="4.9"/><circle cx="303.7" r="4.9"/><circle cx="314.5" r="4.9"/><circle cx="325.3" r="4.9"/><circle cx="327.1" r="4.9"/><circle cx="333.4" r="4.9"/><circle cx="338.8" r="4.9"/><circle cx="344.2" r="4.9"/><circle cx="345.1" r="4.9"/><circle cx="348.7" r="4.9"/><circle cx="356.0" r="4.9"/><circle cx="361.4" r="4.9"/><circle cx="377.6" r="4.9"/><circle cx="384.8" r="4.9"/><circle cx="387.5" r="4.9"/><circle cx="389.3" r="4.9"/><circle cx="400.1" r="4.9"/><circle cx="410.9" r="4.9"/><circle cx="412.7" r="4.9"/><circle cx="421.8" r="4.9"/><circle cx="424.5" r="4.9"/><circle cx="426.3" r="4.9"/><circle cx="426.3" r="4.9"/><circle cx="436.2" r="4.9"/><circle cx="441.6" r="4.9"/><circle cx="447.9" r="4.9"/><circle cx="448.8" r="4.9"/><circle cx="453.3" r="4.9"/><circle cx="455.1" r="4.9"/><circle cx="472.2" r="4.9"/><circle cx="482.2" r="4.9"/><circle cx="487.6" r="4.9"/><circle cx="487.6" r="4.9"/><circle cx="551.6" r="4.9"/><circle cx="565.1" r="4.9"/><circle cx="590.3" r="4.9"/><circle cx="613.8" r="4.9"/><circle cx="614.7" r="4.9"/><circle cx="615.6" r="4.9"/><circle cx="617.4" r="4.9"/><circle cx="656.1" r="4.9"/><circle cx="657.0" r="4.9"/><circle cx="662.4" r="4.9"/><circle cx="690.4" r="4.9"/><circle cx="694.9" r="4.9"/><circle cx="722.8" r="4.9"/><circle cx="724.6" r="4.9"/><circle cx="741.8" r="4.9"/><circle cx="746.3" r="4.9"/><circle cx="767.9" r="4.9"/><circle cx="769.7" r="4.9"/><circle cx="779.6" r="4.9"/><circle cx="781.4" r="4.9"/><circle cx="783.2" r="4.9"/><circle cx="821.1" r="4.9"/><circle cx="854.4" r="4.9"/><circle cx="859.8" r="4.9"/><circle cx="927.4" r="4.9"/><circle cx="941.0" r="4.9"/><circle cx="947.3" r="4.9"/></g>
<g transform="translate(0,374.8)"><circle cx="190.1" r="4.9"/><circle cx="192.8" r="4.9"/><circle cx="225.3" r="4.9"/><circle cx="242.4" r="4.9"/><circle cx="245.1" r="4.9"/><circle cx="262.2" r="4.9"/><circle cx="283.8" r="4.9"/><circle cx="311.8" r="4.9"/><circle cx="350.5" r="4.9"/><circle cx="369.5" r="4.9"/><circle cx="594.8" r="4.9"/><circle cx="745.4" r="4.9"/><circle cx="260.4" r="4.9"/><circle cx="296.5" r="4.9"/><circle cx="319.0" r="4.9"/><circle cx="343.3" r="4.9"/><circle cx="458.7" r="4.9"/><circle cx="461.4" r="4.9"/><circle cx="469.5" r="4.9"/><circle cx="595.7" r="4.9"/><circle cx="630.0" r="4.9"/><circle cx="216.2" r="4.9"/><circle cx="138.7" r="4.9"/><circle cx="138.7" r="4.9"/><circle cx="158.5" r="4.9"/><circle cx="158.5" r="4.9"/><circle cx="176.6" r="4.9"/><circle cx="182.9" r="4.9"/><circle cx="211.7" r="4.9"/><circle cx="217.1" r="4.9"/><circle cx="230.7" r="4.9"/><circle cx="243.3" r="4.9"/><circle cx="255.0" r="4.9"/><circle cx="255.9" r="4.9"/><circle cx="255.9" r="4.9"/><circle cx="264.0" r="4.9"/><circle cx="268.5" r="4.9"/><circle cx="284.7" r="4.9"/><circle cx="303.7" r="4.9"/><circle cx="304.6" r="4.9"/><circle cx="308.2" r="4.9"/><circle cx="310.9" r="4.9"/><circle cx="311.8" r="4.9"/><circle cx="312.7" r="4.9"/><circle cx="316.3" r="4.9"/><circle cx="319.9" r="4.9"/><circle cx="329.8" r="4.9"/><circle cx="337.0" r="4.9"/><circle cx="340.6" r="4.9"/><circle cx="343.3" r="4.9"/><circle cx="350.5" r="4.9"/><circle cx="356.9" r="4.9"/><circle cx="368.6" r="4.9"/><circle cx="428.1" r="4.9"/><circle cx="431.7" r="4.9"/><circle cx="459.6" r="4.9"/><circle cx="463.2" r="4.9"/><circle cx="473.1" r="4.9"/><circle cx="475.8" r="4.9"/><circle cx="484.0" r="4.9"/><circle cx="513.7" r="4.9"/><circle cx="583.1" r="4.9"/><circle cx="599.3" r="4.9"/><circle cx="618.3" r="4.9"/><circle cx="622.8" r="4.9"/><circle cx="670.5" r="4.9"/><circle cx="683.2" r="4.9"/><circle cx="705.7" r="4.9"/><circle cx="711.1" r="4.9"/><circle cx="749.0" r="4.9"/><circle cx="753.5" r="4.9"/><circle cx="803.0" r="4.9"/><circle cx="813.0" r="4.9"/><circle cx="813.9" r="4.9"/><circle cx="873.4" r="4.9"/><circle cx="907.6" r="4.9"/></g>
<g transform="translate(0,366.8)"><circle cx="214.4" r="4.9"/><circle cx="218.9" r="4.9"/><circle cx="239.7" r="4.9"/><circle cx="244.2" r="4.9"/><circle cx="269.4" r="4.9"/><circle cx="276.6" r="4.9"/><circle cx="285.6" r="4.9"/><circle cx="250.5" r="4.9"/><circle cx="263.1" r="4.9"/><circle cx="297.4" r="4.9"/><circle cx="354.2" r="4.9"/><circle cx="588.5" r="4.9"/><circle cx="200.9" r="4.9"/><circle cx="222.5" r="4.9"/><circle cx="76.5" r="4.9"/><circle cx="97.3" r="4.9"/><circle cx="110.8" r="4.9"/><circle cx="136.0" r="4.9"/><circle cx="136.9" r="4.9"/><circle cx="154.0" r="4.9"/><circle cx="188.3" r="4.9"/><circle cx="190.1" r="4.9"/><circle cx="191.9" r="4.9"/><circle cx="214.4" r="4.9"/><circle cx="221.6" r="4.9"/><circle cx="234.3" r="4.9"/><circle cx="236.1" r="4.9"/><circle cx="242.4" r="4.9"/><circle cx="243.3" r="4.9"/><circle cx="250.5" r="4.9"/><circle cx="257.7" r="4.9"/><circle cx="262.2" r="4.9"/><circle cx="265.8" r="4.9"/><circle cx="269.4" r="4.9"/><circle cx="270.3" r="4.9"/><circle cx="271.2" r="4.9"/><circle cx="276.6" r="4.9"/><circle cx="294.7" r="4.9"/><circle cx="297.4" r="4.9"/><circle cx="313.6" r="4.9"/><circle cx="323.5" r="4.9"/><circle cx="323.5" r="4.9"/><circle cx="344.2" r="4.9"/><circle cx="349.6" r="4.9"/><circle cx="398.3" r="4.9"/><circle cx="428.1" r="4.9"/><circle cx="440.7" r="4.9"/><circle cx="501.1" r="4.9"/><circle cx="610.1" r="4.9"/><circle cx="756.2" r="4.9"/><circle cx="758.9" r="4.9"/><circle cx="769.7" r="4.9"/></g>
<g transform="translate(0,358.9)"><circle cx="100.0" r="4.9"/><circle cx="158.5" r="4.9"/><circle cx="161.3" r="4.9"/><circle cx="182.0" r="4.9"/><circle cx="211.7" r="4.9"/><circle cx="213.5" r="4.9"/><circle cx="219.8" r="4.9"/><circle cx="236.1" r="4.9"/><circle cx="279.3" r="4.9"/><circle cx="314.5" r="4.9"/><circle cx="330.7" r="4.9"/><circle cx="368.6" r="4.9"/><circle cx="203.6" r="4.9"/><circle cx="211.7" r="4.9"/><circle cx="228.0" r="4.9"/><circle cx="98.2" r="4.9"/><circle cx="100.0" r="4.9"/><circle cx="109.9" r="4.9"/><circle cx="121.6" r="4.9"/><circle cx="139.6" r="4.9"/><circle cx="144.1" r="4.9"/><circle cx="154.9" r="4.9"/><circle cx="213.5" r="4.9"/><circle cx="229.8" r="4.9"/><circle cx="243.3" r="4.9"/><circle cx="254.1" r="4.9"/><circle cx="255.0" r="4.9"/><circle cx="255.0" r="4.9"/><circle cx="261.3" r="4.9"/><circle cx="263.1" r="4.9"/><circle cx="266.7" r="4.9"/><circle cx="269.4" r="4.9"/><circle cx="270.3" r="4.9"/><circle cx="288.4" r="4.9"/><circle cx="295.6" r="4.9"/><circle cx="299.2" r="4.9"/><circle cx="301.0" r="4.9"/><circle cx="306.4" r="4.9"/><circle cx="328.0" r="4.9"/><circle cx="357.8" r="4.9"/><circle cx="706.6" r="4.9"/></g>
<g transform="translate(0,351.0)"><circle cx="93.6" r="4.9"/><circle cx="95.5" r="4.9"/><circle cx="135.1" r="4.9"/><circle cx="169.4" r="4.9"/><circle cx="176.6" r="4.9"/><circle cx="183.8" r="4.9"/><circle cx="186.5" r="4.9"/><circle cx="188.3" r="4.9"/><circle cx="191.0" r="4.9"/><circle cx="195.5" r="4.9"/><circle cx="206.3" r="4.9"/><circle cx="209.0" r="4.9"/><circle cx="247.8" r="4.9"/><circle cx="255.0" r="4.9"/><circle cx="255.9" r="4.9"/><circle cx="187.4" r="4.9"/><circle cx="188.3" r="4.9"/><circle cx="218.0" r="4.9"/><circle cx="271.2" r="4.9"/><circle cx="71.1" r="4.9"/><circle cx="71.1" r="4.9"/><circle cx="94.5" r="4.9"/><circle cx="97.3" r="4.9"/><circle cx="128.8" r="4.9"/><circle cx="132.4" r="4.9"/><circle cx="158.5" r="4.9"/><circle cx="158.5" r="4.9"/><circle cx="166.7" r="4.9"/><circle cx="176.6" r="4.9"/><circle cx="178.4" r="4.9"/><circle cx="181.1" r="4.9"/><circle cx="182.9" r="4.9"/><circle cx="183.8" r="4.9"/><circle cx="183.8" r="4.9"/><circle cx="183.8" r="4.9"/><circle cx="192.8" r="4.9"/><circle cx="200.9" r="4.9"/><circle cx="206.3" r="4.9"/><circle cx="247.8" r="4.9"/><circle cx="264.0" r="4.9"/><circle cx="268.5" r="4.9"/><circle cx="270.3" r="4.9"/><circle cx="273.0" r="4.9"/><circle cx="308.2" r="4.9"/><circle cx="417.3" r="4.9"/><circle cx="736.3" r="4.9"/><circle cx="813.9" r="4.9"/></g>
<g transform="translate(0,343.1)"><circle cx="71.1" r="4.9"/><circle cx="80.1" r="4.9"/><circle cx="81.9" r="4.9"/><circle cx="101.8" r="4.9"/><circle cx="111.7" r="4.9"/><circle cx="119.8" r="4.9"/><circle cx="127.0" r="4.9"/><circle cx="132.4" r="4.9"/><circle cx="133.3" r="4.9"/><circle cx="136.9" r="4.9"/><circle cx="140.5" r="4.9"/><circle cx="142.3" r="4.9"/><circle cx="146.8" r="4.9"/><circle cx="154.0" r="4.9"/><circle cx="163.1" r="4.9"/><circle cx="164.0" r="4.9"/><circle cx="172.1" r="4.9"/><circle cx="173.0" r="4.9"/><circle cx="201.8" r="4.9"/><circle cx="248.7" r="4.9"/><circle cx="244.2" r="4.9"/><circle cx="251.4" r="4.9"/><circle cx="135.1" r="4.9"/><circle cx="179.3" r="4.9"/><circle cx="221.6" r="4.9"/><circle cx="239.7" r="4.9"/><circle cx="273.9" r="4.9"/><circle cx="85.5" r="4.9"/><circle cx="85.5" r="4.9"/><circle cx="87.3" r="4.9"/><circle cx="107.2" r="4.9"/><circle cx="108.1" r="4.9"/><circle cx="110.8" r="4.9"/><circle cx="110.8" r="4.9"/><circle cx="113.5" r="4.9"/><circle cx="126.1" r="4.9"/><circle cx="126.1" r="4.9"/><circle cx="150.4" r="4.9"/><circle cx="156.7" r="4.9"/><circle cx="158.5" r="4.9"/><circle cx="162.2" r="4.9"/><circle cx="162.2" r="4.9"/><circle cx="177.5" r="4.9"/><circle cx="179.3" r="4.9"/><circle cx="187.4" r="4.9"/><circle cx="208.1" r="4.9"/><circle cx="210.8" r="4.9"/><circle cx="225.3" r="4.9"/><circle cx="228.0" r="4.9"/><circle cx="228.9" r="4.9"/><circle cx="239.7" r="4.9"/><circle cx="249.6" r="4.9"/><circle cx="252.3" r="4.9"/><circle cx="252.3" r="4.9"/><circle cx="258.6" r="4.9"/><circle cx="272.1" r="4.9"/><circle cx="273.9" r="4.9"/></g>
<g transform="translate(0,335.2)"><circle cx="77.4" r="4.9"/><circle cx="79.2" r="4.9"/><circle cx="84.6" r="4.9"/><circle cx="86.4" r="4.9"/><circle cx="115.3" r="4.9"/><circle cx="118.0" r="4.9"/><circle cx="120.7" r="4.9"/><circle cx="130.6" r="4.9"/><circle cx="192.8" r="4.9"/><circle cx="204.5" r="4.9"/><circle cx="235.2" r="4.9"/><circle cx="236.1" r="4.9"/><circle cx="238.8" r="4.9"/><circle cx="93.6" r="4.9"/><circle cx="137.8" r="4.9"/><circle cx="202.7" r="4.9"/><circle cx="232.5" r="4.9"/><circle cx="252.3" r="4.9"/><circle cx="70.2" r="4.9"/><circle cx="84.6" r="4.9"/><circle cx="85.5" r="4.9"/><circle cx="89.1" r="4.9"/><circle cx="98.2" r="4.9"/><circle cx="118.0" r="4.9"/><circle cx="127.9" r="4.9"/><circle cx="158.5" r="4.9"/><circle cx="160.4" r="4.9"/><circle cx="161.3" r="4.9"/><circle cx="161.3" r="4.9"/><circle cx="163.1" r="4.9"/><circle cx="167.6" r="4.9"/><circle cx="169.4" r="4.9"/><circle cx="171.2" r="4.9"/><circle cx="185.6" r="4.9"/><circle cx="188.3" r="4.9"/><circle cx="190.1" r="4.9"/><circle cx="202.7" r="4.9"/><circle cx="203.6" r="4.9"/><circle cx="204.5" r="4.9"/><circle cx="225.3" r="4.9"/><circle cx="231.6" r="4.9"/><circle cx="233.4" r="4.9"/><circle cx="245.1" r="4.9"/><circle cx="274.8" r="4.9"/><circle cx="276.6" r="4.9"/><circle cx="288.4" r="4.9"/></g>
<g transform="translate(0,327.2)"><circle cx="121.6" r="4.9"/><circle cx="148.6" r="4.9"/><circle cx="165.8" r="4.9"/><circle cx="97.3" r="4.9"/><circle cx="129.7" r="4.9"/><circle cx="158.5" r="4.9"/><circle cx="195.5" r="4.9"/><circle cx="213.5" r="4.9"/><circle cx="240.6" r="4.9"/><circle cx="242.4" r="4.9"/><circle cx="77.4" r="4.9"/><circle cx="79.2" r="4.9"/><circle cx="106.3" r="4.9"/><circle cx="115.3" r="4.9"/><circle cx="131.5" r="4.9"/><circle cx="147.7" r="4.9"/><circle cx="169.4" r="4.9"/><circle cx="176.6" r="4.9"/><circle cx="183.8" r="4.9"/><circle cx="226.2" r="4.9"/><circle cx="242.4" r="4.9"/><circle cx="255.9" r="4.9"/><circle cx="101.8" r="4.9"/><circle cx="104.5" r="4.9"/><circle cx="105.4" r="4.9"/><circle cx="106.3" r="4.9"/><circle cx="108.1" r="4.9"/><circle cx="124.3" r="4.9"/><circle cx="131.5" r="4.9"/><circle cx="131.5" r="4.9"/><circle cx="134.2" r="4.9"/><circle cx="139.6" r="4.9"/><circle cx="145.0" r="4.9"/><circle cx="153.1" r="4.9"/><circle cx="157.6" r="4.9"/><circle cx="164.0" r="4.9"/><circle cx="175.7" r="4.9"/><circle cx="175.7" r="4.9"/><circle cx="176.6" r="4.9"/><circle cx="179.3" r="4.9"/><circle cx="189.2" r="4.9"/><circle cx="197.3" r="4.9"/><circle cx="215.3" r="4.9"/><circle cx="219.8" r="4.9"/><circle cx="240.6" r="4.9"/><circle cx="242.4" r="4.9"/></g>
<g transform="translate(0,319.3)"><circle cx="82.8" r="4.9"/><circle cx="141.4" r="4.9"/><circle cx="143.2" r="4.9"/><circle cx="155.8" r="4.9"/><circle cx="89.1" r="4.9"/><circle cx="100.9" r="4.9"/><circle cx="122.5" r="4.9"/><circle cx="125.2" r="4.9"/><circle cx="140.5" r="4.9"/><circle cx="173.9" r="4.9"/><circle cx="235.2" r="4.9"/><circle cx="173.0" r="4.9"/><circle cx="214.4" r="4.9"/><circle cx="63.0" r="4.9"/><circle cx="63.0" r="4.9"/><circle cx="63.9" r="4.9"/><circle cx="63.9" r="4.9"/><circle cx="63.9" r="4.9"/><circle cx="64.8" r="4.9"/><circle cx="64.8" r="4.9"/><circle cx="66.6" r="4.9"/><circle cx="67.5" r="4.9"/><circle cx="68.4" r="4.9"/><circle cx="68.4" r="4.9"/><circle cx="68.4" r="4.9"/><circle cx="68.4" r="4.9"/><circle cx="69.3" r="4.9"/><circle cx="72.0" r="4.9"/><circle cx="72.0" r="4.9"/><circle cx="72.9" r="4.9"/><circle cx="79.2" r="4.9"/><circle cx="84.6" r="4.9"/><circle cx="90.0" r="4.9"/><circle cx="97.3" r="4.9"/><circle cx="100.9" r="4.9"/><circle cx="109.0" r="4.9"/><circle cx="116.2" r="4.9"/><circle cx="122.5" r="4.9"/><circle cx="139.6" r="4.9"/><circle cx="142.3" r="4.9"/><circle cx="142.3" r="4.9"/><circle cx="155.8" r="4.9"/><circle cx="169.4" r="4.9"/><circle cx="174.8" r="4.9"/><circle cx="177.5" r="4.9"/><circle cx="179.3" r="4.9"/><circle cx="192.8" r="4.9"/><circle cx="196.4" r="4.9"/><circle cx="201.8" r="4.9"/><circle cx="207.2" r="4.9"/><circle cx="210.8" r="4.9"/><circle cx="217.1" r="4.9"/><circle cx="229.8" r="4.9"/><circle cx="242.4" r="4.9"/><circle cx="272.1" r="4.9"/></g>
<g transform="translate(0,311.4)"><circle cx="117.1" r="4.9"/><circle cx="101.8" r="4.9"/><circle cx="160.4" r="4.9"/><circle cx="175.7" r="4.9"/><circle cx="178.4" r="4.9"/><circle cx="179.3" r="4.9"/><circle cx="181.1" r="4.9"/><circle cx="184.7" r="4.9"/><circle cx="187.4" r="4.9"/><circle cx="194.6" r="4.9"/><circle cx="117.1" r="4.9"/><circle cx="146.8" r="4.9"/><circle cx="160.4" r="4.9"/><circle cx="184.7" r="4.9"/><circle cx="205.4" r="4.9"/><circle cx="244.2" r="4.9"/><circle cx="68.4" r="4.9"/><circle cx="77.4" r="4.9"/><circle cx="100.9" r="4.9"/><circle cx="109.9" r="4.9"/><circle cx="149.5" r="4.9"/><circle cx="176.6" r="4.9"/><circle cx="180.2" r="4.9"/><circle cx="184.7" r="4.9"/><circle cx="190.1" r="4.9"/><circle cx="201.8" r="4.9"/><circle cx="212.6" r="4.9"/><circle cx="215.3" r="4.9"/></g>
<g transform="translate(0,303.5)"><circle cx="137.8" r="4.9"/><circle cx="149.5" r="4.9"/><circle cx="171.2" r="4.9"/><circle cx="91.8" r="4.9"/><circle cx="110.8" r="4.9"/><circle cx="119.8" r="4.9"/><circle cx="127.0" r="4.9"/><circle cx="178.4" r="4.9"/><circle cx="195.5" r="4.9"/><circle cx="202.7" r="4.9"/><circle cx="223.4" r="4.9"/><circle cx="68.4" r="4.9"/><circle cx="70.2" r="4.9"/><circle cx="80.1" r="4.9"/><circle cx="91.8" r="4.9"/><circle cx="96.4" r="4.9"/><circle cx="100.9" r="4.9"/><circle cx="122.5" r="4.9"/><circle cx="125.2" r="4.9"/><circle cx="127.9" r="4.9"/><circle cx="127.9" r="4.9"/><circle cx="128.8" r="4.9"/><circle cx="130.6" r="4.9"/><circle cx="142.3" r="4.9"/><circle cx="147.7" r="4.9"/><circle cx="149.5" r="4.9"/><circle cx="150.4" r="4.9"/><circle cx="150.4" r="4.9"/><circle cx="174.8" r="4.9"/><circle cx="181.1" r="4.9"/><circle cx="182.0" r="4.9"/><circle cx="196.4" r="4.9"/><circle cx="200.9" r="4.9"/><circle cx="207.2" r="4.9"/><circle cx="209.0" r="4.9"/><circle cx="214.4" r="4.9"/><circle cx="222.5" r="4.9"/><circle cx="232.5" r="4.9"/><circle cx="235.2" r="4.9"/><circle cx="242.4" r="4.9"/><circle cx="246.9" r="4.9"/><circle cx="246.9" r="4.9"/></g>
<g transform="translate(0,295.6)"><circle cx="108.1" r="4.9"/><circle cx="122.5" r="4.9"/><circle cx="147.7" r="4.9"/><circle cx="150.4" r="4.9"/><circle cx="145.9" r="4.9"/><circle cx="149.5" r="4.9"/><circle cx="164.0" r="4.9"/><circle cx="166.7" r="4.9"/><circle cx="186.5" r="4.9"/><circle cx="64.8" r="4.9"/><circle cx="69.3" r="4.9"/><circle cx="81.0" r="4.9"/><circle cx="120.7" r="4.9"/><circle cx="127.0" r="4.9"/><circle cx="127.9" r="4.9"/><circle cx="129.7" r="4.9"/><circle cx="133.3" r="4.9"/><circle cx="136.0" r="4.9"/><circle cx="152.2" r="4.9"/><circle cx="163.1" r="4.9"/><circle cx="173.9" r="4.9"/><circle cx="194.6" r="4.9"/><circle cx="197.3" r="4.9"/><circle cx="204.5" r="4.9"/><circle cx="231.6" r="4.9"/><circle cx="234.3" r="4.9"/></g>
<g transform="translate(0,287.6)"><circle cx="82.8" r="4.9"/><circle cx="109.0" r="4.9"/><circle cx="126.1" r="4.9"/><circle cx="147.7" r="4.9"/><circle cx="153.1" r="4.9"/><circle cx="64.8" r="4.9"/><circle cx="64.8" r="4.9"/><circle cx="70.2" r="4.9"/><circle cx="79.2" r="4.9"/><circle cx="81.0" r="4.9"/><circle cx="87.3" r="4.9"/><circle cx="130.6" r="4.9"/><circle cx="131.5" r="4.9"/><circle cx="164.9" r="4.9"/><circle cx="176.6" r="4.9"/><circle cx="178.4" r="4.9"/><circle cx="179.3" r="4.9"/><circle cx="183.8" r="4.9"/><circle cx="191.0" r="4.9"/><circle cx="202.7" r="4.9"/><circle cx="235.2" r="4.9"/></g>
<g transform="translate(0,279.7)"><circle cx="86.4" r="4.9"/><circle cx="90.9" r="4.9"/><circle cx="139.6" r="4.9"/><circle cx="81.9" r="4.9"/><circle cx="90.0" r="4.9"/><circle cx="90.9" r="4.9"/><circle cx="105.4" r="4.9"/><circle cx="106.3" r="4.9"/><circle cx="127.0" r="4.9"/><circle cx="143.2" r="4.9"/><circle cx="159.4" r="4.9"/><circle cx="180.2" r="4.9"/></g>
<g transform="translate(0,271.8)"><circle cx="64.8" r="4.9"/><circle cx="91.8" r="4.9"/><circle cx="118.0" r="4.9"/><circle cx="126.1" r="4.9"/><circle cx="132.4" r="4.9"/><circle cx="137.8" r="4.9"/><circle cx="156.7" r="4.9"/><circle cx="190.1" r="4.9"/><circle cx="206.3" r="4.9"/><circle cx="211.7" r="4.9"/></g>
<g transform="translate(0,263.9)"><circle cx="92.7" r="4.9"/><circle cx="171.2" r="4.9"/><circle cx="174.8" r="4.9"/><circle cx="226.2" r="4.9"/><circle cx="67.0" r="4.9"/></g>
<g transform="translate(0,256.0)"><circle cx="84.6" r="4.9"/><circle cx="108.0" r="4.9"/><circle cx="83.0" r="4.9"/></g>
<g transform="translate(0,248.0)"><circle cx="81.9" r="4.9"/><circle cx="146.8" r="4.9"/><circle cx="153.0" r="4.9"/></g>
<g transform="translate(0,240.1)"><circle cx="77.4" r="4.9"/><circle cx="119.8" r="4.9"/></g>
</g>
<g fill="#dc2ea8" fill-opacity="0.235">
<g transform="translate(0,517.3)"><circle cx="67.0" r="4.9"/></g>
<g transform="translate(0,509.4)"><circle cx="63.0" r="4.9"/><circle cx="63.0" r="4.9"/><circle cx="63.0" r="4.9"/><circle cx="63.0" r="4.9"/><circle cx="78.3" r="4.9"/><circle cx="80.1" r="4.9"/><circle cx="169.4" r="4.9"/><circle cx="95.0" r="4.9"/></g>
<g transform="translate(0,501.5)"><circle cx="117.1" r="4.9"/></g>
<g transform="translate(0,493.6)"><circle cx="66.6" r="4.9"/><circle cx="80.1" r="4.9"/><circle cx="81.9" r="4.9"/><circle cx="83.7" r="4.9"/><circle cx="84.6" r="4.9"/><circle cx="90.9" r="4.9"/><circle cx="112.6" r="4.9"/><circle cx="114.4" r="4.9"/><circle cx="140.5" r="4.9"/><circle cx="157.6" r="4.9"/><circle cx="163.1" r="4.9"/><circle cx="182.9" r="4.9"/><circle cx="177.0" r="4.9"/></g>
<g transform="translate(0,485.6)"><circle cx="91.8" r="4.9"/><circle cx="81.9" r="4.9"/><circle cx="92.7" r="4.9"/><circle cx="93.6" r="4.9"/><circle cx="67.5" r="4.9"/><circle cx="67.5" r="4.9"/><circle cx="67.5" r="4.9"/><circle cx="67.5" r="4.9"/><circle cx="85.5" r="4.9"/><circle cx="110.8" r="4.9"/><circle cx="134.2" r="4.9"/><circle cx="150.4" r="4.9"/><circle cx="159.4" r="4.9"/><circle cx="150.0" r="4.9"/></g>
<g transform="translate(0,477.7)"><circle cx="78.3" r="4.9"/><circle cx="99.1" r="4.9"/><circle cx="122.5" r="4.9"/><circle cx="81.0" r="4.9"/><circle cx="91.8" r="4.9"/><circle cx="63.9" r="4.9"/><circle cx="68.4" r="4.9"/><circle cx="68.4" r="4.9"/><circle cx="81.9" r="4.9"/><circle cx="83.7" r="4.9"/><circle cx="83.7" r="4.9"/><circle cx="85.5" r="4.9"/><circle cx="100.0" r="4.9"/><circle cx="107.2" r="4.9"/><circle cx="119.8" r="4.9"/><circle cx="135.1" r="4.9"/><circle cx="137.8" r="4.9"/><circle cx="138.7" r="4.9"/><circle cx="164.0" r="4.9"/><circle cx="168.5" r="4.9"/><circle cx="172.1" r="4.9"/><circle cx="233.0" r="4.9"/><circle cx="280.0" r="4.9"/></g>
<g transform="translate(0,469.8)"><circle cx="84.6" r="4.9"/><circle cx="90.0" r="4.9"/><circle cx="115.3" r="4.9"/><circle cx="87.3" r="4.9"/><circle cx="97.3" r="4.9"/><circle cx="152.2" r="4.9"/><circle cx="63.0" r="4.9"/><circle cx="68.4" r="4.9"/><circle cx="69.3" r="4.9"/><circle cx="69.3" r="4.9"/><circle cx="74.7" r="4.9"/><circle cx="79.2" r="4.9"/><circle cx="81.9" r="4.9"/><circle cx="85.5" r="4.9"/><circle cx="98.2" r="4.9"/><circle cx="100.0" r="4.9"/><circle cx="107.2" r="4.9"/><circle cx="108.1" r="4.9"/><circle cx="116.2" r="4.9"/><circle cx="121.6" r="4.9"/><circle cx="147.7" r="4.9"/><circle cx="157.6" r="4.9"/><circle cx="159.4" r="4.9"/><circle cx="165.8" r="4.9"/><circle cx="201.8" r="4.9"/></g>
<g transform="translate(0,461.9)"><circle cx="88.2" r="4.9"/><circle cx="144.1" r="4.9"/><circle cx="83.7" r="4.9"/><circle cx="102.7" r="4.9"/><circle cx="105.4" r="4.9"/><circle cx="123.4" r="4.9"/><circle cx="170.3" r="4.9"/><circle cx="63.0" r="4.9"/><circle cx="63.9" r="4.9"/><circle cx="64.8" r="4.9"/><circle cx="74.7" r="4.9"/><circle cx="107.2" r="4.9"/><circle cx="109.0" r="4.9"/><circle cx="115.3" r="4.9"/><circle cx="132.4" r="4.9"/><circle cx="145.0" r="4.9"/><circle cx="157.6" r="4.9"/><circle cx="174.8" r="4.9"/><circle cx="182.0" r="4.9"/><circle cx="195.5" r="4.9"/><circle cx="199.1" r="4.9"/><circle cx="214.4" r="4.9"/><circle cx="214.4" r="4.9"/><circle cx="263.0" r="4.9"/></g>
<g transform="translate(0,454.0)"><circle cx="70.2" r="4.9"/><circle cx="76.5" r="4.9"/><circle cx="90.0" r="4.9"/><circle cx="119.8" r="4.9"/><circle cx="120.7" r="4.9"/><circle cx="131.5" r="4.9"/><circle cx="141.4" r="4.9"/><circle cx="172.1" r="4.9"/><circle cx="71.1" r="4.9"/><circle cx="90.0" r="4.9"/><circle cx="111.7" r="4.9"/><circle cx="136.9" r="4.9"/><circle cx="167.6" r="4.9"/><circle cx="173.9" r="4.9"/><circle cx="63.9" r="4.9"/><circle cx="68.4" r="4.9"/><circle cx="72.0" r="4.9"/><circle cx="80.1" r="4.9"/><circle cx="97.3" r="4.9"/><circle cx="99.1" r="4.9"/><circle cx="102.7" r="4.9"/><circle cx="109.9" r="4.9"/><circle cx="121.6" r="4.9"/><circle cx="136.0" r="4.9"/><circle cx="145.9" r="4.9"/><circle cx="145.9" r="4.9"/><circle cx="153.1" r="4.9"/><circle cx="156.7" r="4.9"/><circle cx="165.8" r="4.9"/><circle cx="173.0" r="4.9"/><circle cx="184.7" r="4.9"/><circle cx="202.7" r="4.9"/><circle cx="218.0" r="4.9"/><circle cx="226.2" r="4.9"/><circle cx="254.1" r="4.9"/></g>
<g transform="translate(0,446.0)"><circle cx="100.0" r="4.9"/><circle cx="109.9" r="4.9"/><circle cx="111.7" r="4.9"/><circle cx="117.1" r="4.9"/><circle cx="145.9" r="4.9"/><circle cx="156.7" r="4.9"/><circle cx="159.4" r="4.9"/><circle cx="176.6" r="4.9"/><circle cx="198.2" r="4.9"/><circle cx="95.5" r="4.9"/><circle cx="96.4" r="4.9"/><circle cx="106.3" r="4.9"/><circle cx="128.8" r="4.9"/><circle cx="156.7" r="4.9"/><circle cx="160.4" r="4.9"/><circle cx="172.1" r="4.9"/><circle cx="164.9" r="4.9"/><circle cx="203.6" r="4.9"/><circle cx="82.8" r="4.9"/><circle cx="89.1" r="4.9"/><circle cx="123.4" r="4.9"/><circle cx="129.7" r="4.9"/><circle cx="130.6" r="4.9"/><circle cx="139.6" r="4.9"/><circle cx="142.3" r="4.9"/><circle cx="146.8" r="4.9"/><circle cx="152.2" r="4.9"/><circle cx="161.3" r="4.9"/><circle cx="166.7" r="4.9"/><circle cx="168.5" r="4.9"/><circle cx="168.5" r="4.9"/><circle cx="176.6" r="4.9"/><circle cx="182.0" r="4.9"/><circle cx="187.4" r="4.9"/><circle cx="189.2" r="4.9"/><circle cx="195.5" r="4.9"/><circle cx="197.3" r="4.9"/><circle cx="200.0" r="4.9"/><circle cx="209.9" r="4.9"/><circle cx="216.2" r="4.9"/><circle cx="237.0" r="4.9"/><circle cx="243.3" r="4.9"/></g>
<g transform="translate(0,438.1)"><circle cx="72.9" r="4.9"/><circle cx="82.8" r="4.9"/><circle cx="83.7" r="4.9"/><circle cx="114.4" r="4.9"/><circle cx="127.9" r="4.9"/><circle cx="107.2" r="4.9"/><circle cx="134.2" r="4.9"/><circle cx="138.7" r="4.9"/><circle cx="162.2" r="4.9"/><circle cx="180.2" r="4.9"/><circle cx="193.7" r="4.9"/><circle cx="206.3" r="4.9"/><circle cx="212.6" r="4.9"/><circle cx="228.9" r="4.9"/><circle cx="101.8" r="4.9"/><circle cx="103.6" r="4.9"/><circle cx="127.0" r="4.9"/><circle cx="191.9" r="4.9"/><circle cx="208.1" r="4.9"/><circle cx="94.5" r="4.9"/><circle cx="102.7" r="4.9"/><circle cx="114.4" r="4.9"/><circle cx="142.3" r="4.9"/><circle cx="153.1" r="4.9"/><circle cx="154.0" r="4.9"/><circle cx="154.9" r="4.9"/><circle cx="166.7" r="4.9"/><circle cx="176.6" r="4.9"/><circle cx="179.3" r="4.9"/><circle cx="190.1" r="4.9"/><circle cx="203.6" r="4.9"/><circle cx="208.1" r="4.9"/><circle cx="210.8" r="4.9"/><circle cx="237.9" r="4.9"/><circle cx="240.6" r="4.9"/><circle cx="246.9" r="4.9"/><circle cx="249.6" r="4.9"/></g>
<g transform="translate(0,430.2)"><circle cx="73.8" r="4.9"/><circle cx="79.2" r="4.9"/><circle cx="108.1" r="4.9"/><circle cx="116.2" r="4.9"/><circle cx="121.6" r="4.9"/><circle cx="141.4" r="4.9"/><circle cx="165.8" r="4.9"/><circle cx="167.6" r="4.9"/><circle cx="183.8" r="4.9"/><circle cx="185.6" r="4.9"/><circle cx="200.0" r="4.9"/><circle cx="215.3" r="4.9"/><circle cx="245.1" r="4.9"/><circle cx="119.8" r="4.9"/><circle cx="146.8" r="4.9"/><circle cx="221.6" r="4.9"/><circle cx="217.1" r="4.9"/><circle cx="231.6" r="4.9"/><circle cx="246.0" r="4.9"/><circle cx="66.6" r="4.9"/><circle cx="67.5" r="4.9"/><circle cx="81.9" r="4.9"/><circle cx="93.6" r="4.9"/><circle cx="100.0" r="4.9"/><circle cx="108.1" r="4.9"/><circle cx="111.7" r="4.9"/><circle cx="114.4" r="4.9"/><circle cx="125.2" r="4.9"/><circle cx="127.0" r="4.9"/><circle cx="137.8" r="4.9"/><circle cx="137.8" r="4.9"/><circle cx="138.7" r="4.9"/><circle cx="141.4" r="4.9"/><circle cx="147.7" r="4.9"/><circle cx="155.8" r="4.9"/><circle cx="173.0" r="4.9"/><circle cx="174.8" r="4.9"/><circle cx="191.0" r="4.9"/><circle cx="204.5" r="4.9"/><circle cx="209.9" r="4.9"/><circle cx="214.4" r="4.9"/><circle cx="223.4" r="4.9"/><circle cx="226.2" r="4.9"/><circle cx="257.7" r="4.9"/><circle cx="261.3" r="4.9"/></g>
<g transform="translate(0,422.3)"><circle cx="80.1" r="4.9"/><circle cx="109.0" r="4.9"/><circle cx="113.5" r="4.9"/><circle cx="117.1" r="4.9"/><circle cx="132.4" r="4.9"/><circle cx="136.9" r="4.9"/><circle cx="151.3" r="4.9"/><circle cx="155.8" r="4.9"/><circle cx="160.4" r="4.9"/><circle cx="164.0" r="4.9"/><circle cx="175.7" r="4.9"/><circle cx="196.4" r="4.9"/><circle cx="210.8" r="4.9"/><circle cx="217.1" r="4.9"/><circle cx="227.1" r="4.9"/><circle cx="247.8" r="4.9"/><circle cx="100.0" r="4.9"/><circle cx="134.2" r="4.9"/><circle cx="147.7" r="4.9"/><circle cx="174.8" r="4.9"/><circle cx="225.3" r="4.9"/><circle cx="91.8" r="4.9"/><circle cx="94.5" r="4.9"/><circle cx="99.1" r="4.9"/><circle cx="101.8" r="4.9"/><circle cx="102.7" r="4.9"/><circle cx="108.1" r="4.9"/><circle cx="121.6" r="4.9"/><circle cx="124.3" r="4.9"/><circle cx="133.3" r="4.9"/><circle cx="133.3" r="4.9"/><circle cx="142.3" r="4.9"/><circle cx="146.8" r="4.9"/><circle cx="147.7" r="4.9"/><circle cx="174.8" r="4.9"/><circle cx="187.4" r="4.9"/><circle cx="194.6" r="4.9"/><circle cx="195.5" r="4.9"/><circle cx="203.6" r="4.9"/><circle cx="204.5" r="4.9"/><circle cx="222.5" r="4.9"/><circle cx="227.1" r="4.9"/><circle cx="231.6" r="4.9"/><circle cx="235.2" r="4.9"/><circle cx="237.9" r="4.9"/><circle cx="237.9" r="4.9"/><circle cx="246.0" r="4.9"/><circle cx="246.9" r="4.9"/><circle cx="247.8" r="4.9"/></g>
<g transform="translate(0,414.4)"><circle cx="125.2" r="4.9"/><circle cx="129.7" r="4.9"/><circle cx="134.2" r="4.9"/><circle cx="135.1" r="4.9"/><circle cx="154.0" r="4.9"/><circle cx="179.3" r="4.9"/><circle cx="181.1" r="4.9"/><circle cx="185.6" r="4.9"/><circle cx="204.5" r="4.9"/><circle cx="220.7" r="4.9"/><circle cx="230.7" r="4.9"/><circle cx="234.3" r="4.9"/><circle cx="126.1" r="4.9"/><circle cx="175.7" r="4.9"/><circle cx="177.5" r="4.9"/><circle cx="194.6" r="4.9"/><circle cx="198.2" r="4.9"/><circle cx="203.6" r="4.9"/><circle cx="227.1" r="4.9"/><circle cx="240.6" r="4.9"/><circle cx="262.2" r="4.9"/><circle cx="67.5" r="4.9"/><circle cx="68.4" r="4.9"/><circle cx="81.9" r="4.9"/><circle cx="100.0" r="4.9"/><circle cx="109.9" r="4.9"/><circle cx="118.9" r="4.9"/><circle cx="122.5" r="4.9"/><circle cx="123.4" r="4.9"/><circle cx="126.1" r="4.9"/><circle cx="133.3" r="4.9"/><circle cx="145.9" r="4.9"/><circle cx="147.7" r="4.9"/><circle cx="148.6" r="4.9"/><circle cx="166.7" r="4.9"/><circle cx="171.2" r="4.9"/><circle cx="173.0" r="4.9"/><circle cx="176.6" r="4.9"/><circle cx="185.6" r="4.9"/><circle cx="189.2" r="4.9"/><circle cx="193.7" r="4.9"/><circle cx="200.9" r="4.9"/><circle cx="206.3" r="4.9"/><circle cx="209.9" r="4.9"/><circle cx="229.8" r="4.9"/></g>
<g transform="translate(0,406.4)"><circle cx="137.8" r="4.9"/><circle cx="139.6" r="4.9"/><circle cx="157.6" r="4.9"/><circle cx="161.3" r="4.9"/><circle cx="176.6" r="4.9"/><circle cx="182.0" r="4.9"/><circle cx="199.1" r="4.9"/><circle cx="215.3" r="4.9"/><circle cx="222.5" r="4.9"/><circle cx="237.9" r="4.9"/><circle cx="241.5" r="4.9"/><circle cx="250.5" r="4.9"/><circle cx="205.4" r="4.9"/><circle cx="223.4" r="4.9"/><circle cx="243.3" r="4.9"/><circle cx="271.2" r="4.9"/><circle cx="86.4" r="4.9"/><circle cx="91.8" r="4.9"/><circle cx="102.7" r="4.9"/><circle cx="113.5" r="4.9"/><circle cx="119.8" r="4.9"/><circle cx="125.2" r="4.9"/><circle cx="126.1" r="4.9"/><circle cx="143.2" r="4.9"/><circle cx="144.1" r="4.9"/><circle cx="153.1" r="4.9"/><circle cx="177.5" r="4.9"/><circle cx="184.7" r="4.9"/><circle cx="198.2" r="4.9"/><circle cx="200.9" r="4.9"/><circle cx="224.4" r="4.9"/><circle cx="228.9" r="4.9"/><circle cx="232.5" r="4.9"/><circle cx="232.5" r="4.9"/><circle cx="246.9" r="4.9"/><circle cx="271.2" r="4.9"/></g>
<g transform="translate(0,398.5)"><circle cx="172.1" r="4.9"/><circle cx="194.6" r="4.9"/><circle cx="200.9" r="4.9"/><circle cx="213.5" r="4.9"/><circle cx="228.9" r="4.9"/><circle cx="229.8" r="4.9"/><circle cx="231.6" r="4.9"/><circle cx="233.4" r="4.9"/><circle cx="250.5" r="4.9"/><circle cx="290.2" r="4.9"/><circle cx="218.9" r="4.9"/><circle cx="77.4" r="4.9"/><circle cx="105.4" r="4.9"/><circle cx="110.8" r="4.9"/><circle cx="127.0" r="4.9"/><circle cx="145.9" r="4.9"/><circle cx="150.4" r="4.9"/><circle cx="156.7" r="4.9"/><circle cx="160.4" r="4.9"/><circle cx="182.0" r="4.9"/><circle cx="182.9" r="4.9"/><circle cx="202.7" r="4.9"/><circle cx="215.3" r="4.9"/><circle cx="219.8" r="4.9"/><circle cx="227.1" r="4.9"/><circle cx="228.0" r="4.9"/><circle cx="229.8" r="4.9"/><circle cx="230.7" r="4.9"/><circle cx="232.5" r="4.9"/><circle cx="240.6" r="4.9"/><circle cx="248.7" r="4.9"/><circle cx="255.0" r="4.9"/><circle cx="260.4" r="4.9"/><circle cx="263.1" r="4.9"/><circle cx="271.2" r="4.9"/><circle cx="277.5" r="4.9"/><circle cx="286.5" r="4.9"/><circle cx="287.4" r="4.9"/><circle cx="300.1" r="4.9"/><circle cx="370.4" r="4.9"/><circle cx="373.1" r="4.9"/><circle cx="751.7" r="4.9"/></g>
<g transform="translate(0,390.6)"><circle cx="187.4" r="4.9"/><circle cx="190.1" r="4.9"/><circle cx="197.3" r="4.9"/><circle cx="218.0" r="4.9"/><circle cx="227.1" r="4.9"/><circle cx="237.9" r="4.9"/><circle cx="272.1" r="4.9"/><circle cx="282.9" r="4.9"/><circle cx="303.7" r="4.9"/><circle cx="312.7" r="4.9"/><circle cx="211.7" r="4.9"/><circle cx="246.9" r="4.9"/><circle cx="100.0" r="4.9"/><circle cx="103.6" r="4.9"/><circle cx="128.8" r="4.9"/><circle cx="149.5" r="4.9"/><circle cx="150.4" r="4.9"/><circle cx="164.0" r="4.9"/><circle cx="166.7" r="4.9"/><circle cx="186.5" r="4.9"/><circle cx="191.9" r="4.9"/><circle cx="202.7" r="4.9"/><circle cx="230.7" r="4.9"/><circle cx="238.8" r="4.9"/><circle cx="246.0" r="4.9"/><circle cx="246.9" r="4.9"/><circle cx="250.5" r="4.9"/><circle cx="262.2" r="4.9"/><circle cx="269.4" r="4.9"/><circle cx="276.6" r="4.9"/><circle cx="292.9" r="4.9"/><circle cx="350.5" r="4.9"/><circle cx="353.3" r="4.9"/><circle cx="371.3" r="4.9"/><circle cx="373.1" r="4.9"/><circle cx="422.7" r="4.9"/></g>
<g transform="translate(0,382.7)"><circle cx="204.5" r="4.9"/><circle cx="212.6" r="4.9"/><circle cx="219.8" r="4.9"/><circle cx="221.6" r="4.9"/><circle cx="230.7" r="4.9"/><circle cx="234.3" r="4.9"/><circle cx="241.5" r="4.9"/><circle cx="249.6" r="4.9"/><circle cx="258.6" r="4.9"/><circle cx="315.4" r="4.9"/><circle cx="734.5" r="4.9"/><circle cx="260.4" r="4.9"/><circle cx="269.4" r="4.9"/><circle cx="274.8" r="4.9"/><circle cx="279.3" r="4.9"/><circle cx="283.8" r="4.9"/><circle cx="316.3" r="4.9"/><circle cx="349.6" r="4.9"/><circle cx="233.4" r="4.9"/><circle cx="237.0" r="4.9"/><circle cx="103.6" r="4.9"/><circle cx="147.7" r="4.9"/><circle cx="148.6" r="4.9"/><circle cx="218.0" r="4.9"/><circle cx="237.9" r="4.9"/><circle cx="244.2" r="4.9"/><circle cx="255.0" r="4.9"/><circle cx="265.8" r="4.9"/><circle cx="266.7" r="4.9"/><circle cx="267.6" r="4.9"/><circle cx="268.5" r="4.9"/><circle cx="273.9" r="4.9"/><circle cx="280.2" r="4.9"/><circle cx="280.2" r="4.9"/><circle cx="281.1" r="4.9"/><circle cx="289.3" r="4.9"/><circle cx="298.3" r="4.9"/><circle cx="309.1" r="4.9"/><circle cx="310.0" r="4.9"/><circle cx="315.4" r="4.9"/><circle cx="334.3" r="4.9"/><circle cx="350.5" r="4.9"/><circle cx="366.8" r="4.9"/><circle cx="374.0" r="4.9"/><circle cx="489.4" r="4.9"/><circle cx="707.5" r="4.9"/><circle cx="712.0" r="4.9"/><circle cx="895.0" r="4.9"/><circle cx="931.0" r="4.9"/></g>
<g transform="translate(0,374.8)"><circle cx="256.8" r="4.9"/><circle cx="266.7" r="4.9"/><circle cx="272.1" r="4.9"/><circle cx="274.8" r="4.9"/><circle cx="276.6" r="4.9"/><circle cx="287.4" r="4.9"/><circle cx="365.9" r="4.9"/><circle cx="270.3" r="4.9"/><circle cx="302.8" r="4.9"/><circle cx="320.8" r="4.9"/><circle cx="346.9" r="4.9"/><circle cx="352.3" r="4.9"/><circle cx="433.5" r="4.9"/><circle cx="461.4" r="4.9"/><circle cx="609.2" r="4.9"/><circle cx="241.5" r="4.9"/><circle cx="220.7" r="4.9"/><circle cx="228.0" r="4.9"/><circle cx="240.6" r="4.9"/><circle cx="244.2" r="4.9"/><circle cx="250.5" r="4.9"/><circle cx="251.4" r="4.9"/><circle cx="261.3" r="4.9"/><circle cx="267.6" r="4.9"/><circle cx="269.4" r="4.9"/><circle cx="272.1" r="4.9"/><circle cx="274.8" r="4.9"/><circle cx="274.8" r="4.9"/><circle cx="279.3" r="4.9"/><circle cx="283.8" r="4.9"/><circle cx="283.8" r="4.9"/><circle cx="286.5" r="4.9"/><circle cx="299.2" r="4.9"/><circle cx="300.1" r="4.9"/><circle cx="301.9" r="4.9"/><circle cx="307.3" r="4.9"/><circle cx="309.1" r="4.9"/><circle cx="310.0" r="4.9"/><circle cx="310.9" r="4.9"/><circle cx="319.0" r="4.9"/><circle cx="321.7" r="4.9"/><circle cx="328.9" r="4.9"/><circle cx="330.7" r="4.9"/><circle cx="350.5" r="4.9"/><circle cx="358.7" r="4.9"/><circle cx="361.4" r="4.9"/><circle cx="365.9" r="4.9"/><circle cx="373.1" r="4.9"/><circle cx="381.2" r="4.9"/><circle cx="382.1" r="4.9"/><circle cx="443.4" r="4.9"/><circle cx="447.0" r="4.9"/><circle cx="457.8" r="4.9"/><circle cx="459.6" r="4.9"/><circle cx="596.6" r="4.9"/><circle cx="612.0" r="4.9"/><circle cx="698.5" r="4.9"/><circle cx="705.7" r="4.9"/><circle cx="726.4" r="4.9"/><circle cx="740.9" r="4.9"/><circle cx="759.8" r="4.9"/><circle cx="796.7" r="4.9"/><circle cx="810.3" r="4.9"/><circle cx="812.1" r="4.9"/><circle cx="856.2" r="4.9"/><circle cx="858.0" r="4.9"/></g>
<g transform="translate(0,366.8)"><circle cx="296.5" r="4.9"/><circle cx="301.9" r="4.9"/><circle cx="325.3" r="4.9"/><circle cx="333.4" r="4.9"/><circle cx="336.1" r="4.9"/><circle cx="760.7" r="4.9"/><circle cx="272.1" r="4.9"/><circle cx="322.6" r="4.9"/><circle cx="325.3" r="4.9"/><circle cx="345.1" r="4.9"/><circle cx="347.8" r="4.9"/><circle cx="386.6" r="4.9"/><circle cx="447.0" r="4.9"/><circle cx="456.0" r="4.9"/><circle cx="473.1" r="4.9"/><circle cx="615.6" r="4.9"/><circle cx="652.5" r="4.9"/><circle cx="657.9" r="4.9"/><circle cx="686.8" r="4.9"/><circle cx="692.2" r="4.9"/><circle cx="694.0" r="4.9"/><circle cx="228.0" r="4.9"/><circle cx="236.1" r="4.9"/><circle cx="252.3" r="4.9"/><circle cx="138.7" r="4.9"/><circle cx="158.5" r="4.9"/><circle cx="191.9" r="4.9"/><circle cx="212.6" r="4.9"/><circle cx="213.5" r="4.9"/><circle cx="223.4" r="4.9"/><circle cx="252.3" r="4.9"/><circle cx="254.1" r="4.9"/><circle cx="264.9" r="4.9"/><circle cx="266.7" r="4.9"/><circle cx="271.2" r="4.9"/><circle cx="280.2" r="4.9"/><circle cx="281.1" r="4.9"/><circle cx="282.9" r="4.9"/><circle cx="295.6" r="4.9"/><circle cx="305.5" r="4.9"/><circle cx="306.4" r="4.9"/><circle cx="310.9" r="4.9"/><circle cx="319.0" r="4.9"/><circle cx="329.8" r="4.9"/><circle cx="338.8" r="4.9"/><circle cx="340.6" r="4.9"/><circle cx="347.8" r="4.9"/><circle cx="348.7" r="4.9"/><circle cx="360.5" r="4.9"/><circle cx="363.2" r="4.9"/><circle cx="374.9" r="4.9"/><circle cx="385.7" r="4.9"/><circle cx="406.4" r="4.9"/><circle cx="410.9" r="4.9"/><circle cx="418.2" r="4.9"/><circle cx="421.8" r="4.9"/><circle cx="429.0" r="4.9"/><circle cx="430.8" r="4.9"/><circle cx="447.0" r="4.9"/><circle cx="474.0" r="4.9"/><circle cx="506.5" r="4.9"/><circle cx="605.6" r="4.9"/><circle cx="615.6" r="4.9"/><circle cx="647.1" r="4.9"/><circle cx="679.6" r="4.9"/><circle cx="686.8" r="4.9"/><circle cx="687.7" r="4.9"/><circle cx="688.6" r="4.9"/><circle cx="690.4" r="4.9"/><circle cx="692.2" r="4.9"/><circle cx="693.1" r="4.9"/><circle cx="699.4" r="4.9"/><circle cx="701.2" r="4.9"/><circle cx="712.0" r="4.9"/><circle cx="712.9" r="4.9"/><circle cx="740.0" r="4.9"/><circle cx="758.0" r="4.9"/><circle cx="758.9" r="4.9"/><circle cx="763.4" r="4.9"/><circle cx="772.4" r="4.9"/><circle cx="783.2" r="4.9"/><circle cx="803.0" r="4.9"/><circle cx="816.6" r="4.9"/><circle cx="834.6" r="4.9"/><circle cx="886.9" r="4.9"/><circle cx="904.9" r="4.9"/><circle cx="913.9" r="4.9"/><circle cx="960.8" r="4.9"/></g>
<g transform="translate(0,358.9)"><circle cx="255.0" r="4.9"/><circle cx="283.8" r="4.9"/><circle cx="280.2" r="4.9"/><circle cx="295.6" r="4.9"/><circle cx="298.3" r="4.9"/><circle cx="302.8" r="4.9"/><circle cx="317.2" r="4.9"/><circle cx="340.6" r="4.9"/><circle cx="388.4" r="4.9"/><circle cx="401.0" r="4.9"/><circle cx="436.2" r="4.9"/><circle cx="625.5" r="4.9"/><circle cx="640.8" r="4.9"/><circle cx="665.1" r="4.9"/><circle cx="705.7" r="4.9"/><circle cx="770.6" r="4.9"/><circle cx="267.6" r="4.9"/><circle cx="268.5" r="4.9"/><circle cx="287.4" r="4.9"/><circle cx="293.8" r="4.9"/><circle cx="304.6" r="4.9"/><circle cx="372.2" r="4.9"/><circle cx="384.8" r="4.9"/><circle cx="401.0" r="4.9"/><circle cx="412.7" r="4.9"/><circle cx="414.5" r="4.9"/><circle cx="436.2" r="4.9"/><circle cx="443.4" r="4.9"/><circle cx="515.5" r="4.9"/><circle cx="594.8" r="4.9"/><circle cx="599.3" r="4.9"/><circle cx="648.0" r="4.9"/><circle cx="666.9" r="4.9"/><circle cx="668.7" r="4.9"/><circle cx="244.2" r="4.9"/><circle cx="213.5" r="4.9"/><circle cx="237.9" r="4.9"/><circle cx="253.2" r="4.9"/><circle cx="253.2" r="4.9"/><circle cx="253.2" r="4.9"/><circle cx="257.7" r="4.9"/><circle cx="258.6" r="4.9"/><circle cx="259.5" r="4.9"/><circle cx="260.4" r="4.9"/><circle cx="262.2" r="4.9"/><circle cx="263.1" r="4.9"/><circle cx="271.2" r="4.9"/><circle cx="281.1" r="4.9"/><circle cx="285.6" r="4.9"/><circle cx="287.4" r="4.9"/><circle cx="291.1" r="4.9"/><circle cx="292.9" r="4.9"/><circle cx="292.9" r="4.9"/><circle cx="299.2" r="4.9"/><circle cx="306.4" r="4.9"/><circle cx="311.8" r="4.9"/><circle cx="314.5" r="4.9"/><circle cx="316.3" r="4.9"/><circle cx="327.1" r="4.9"/><circle cx="333.4" r="4.9"/><circle cx="350.5" r="4.9"/><circle cx="353.3" r="4.9"/><circle cx="355.1" r="4.9"/><circle cx="355.1" r="4.9"/><circle cx="355.1" r="4.9"/><circle cx="366.8" r="4.9"/><circle cx="384.8" r="4.9"/><circle cx="391.1" r="4.9"/><circle cx="398.3" r="4.9"/><circle cx="401.0" r="4.9"/><circle cx="403.7" r="4.9"/><circle cx="404.6" r="4.9"/><circle cx="408.2" r="4.9"/><circle cx="422.7" r="4.9"/><circle cx="424.5" r="4.9"/><circle cx="433.5" r="4.9"/><circle cx="436.2" r="4.9"/><circle cx="436.2" r="4.9"/><circle cx="456.9" r="4.9"/><circle cx="459.6" r="4.9"/><circle cx="499.3" r="4.9"/><circle cx="501.1" r="4.9"/><circle cx="504.7" r="4.9"/><circle cx="507.4" r="4.9"/><circle cx="520.0" r="4.9"/><circle cx="524.5" r="4.9"/><circle cx="528.1" r="4.9"/><circle cx="592.1" r="4.9"/><circle cx="595.7" r="4.9"/><circle cx="602.0" r="4.9"/><circle cx="612.0" r="4.9"/><circle cx="619.2" r="4.9"/><circle cx="644.4" r="4.9"/><circle cx="645.3" r="4.9"/><circle cx="650.7" r="4.9"/><circle cx="654.3" r="4.9"/><circle cx="655.2" r="4.9"/><circle cx="655.2" r="4.9"/><circle cx="669.6" r="4.9"/><circle cx="682.3" r="4.9"/><circle cx="684.1" r="4.9"/><circle cx="685.0" r="4.9"/><circle cx="693.1" r="4.9"/><circle cx="694.0" r="4.9"/><circle cx="702.1" r="4.9"/><circle cx="720.1" r="4.9"/><circle cx="730.0" r="4.9"/><circle cx="734.5" r="4.9"/><circle cx="744.5" r="4.9"/><circle cx="747.2" r="4.9"/><circle cx="751.7" r="4.9"/><circle cx="751.7" r="4.9"/><circle cx="758.0" r="4.9"/><circle cx="758.9" r="4.9"/><circle cx="777.8" r="4.9"/><circle cx="780.5" r="4.9"/><circle cx="784.1" r="4.9"/><circle cx="786.8" r="4.9"/><circle cx="790.4" r="4.9"/><circle cx="792.2" r="4.9"/><circle cx="799.4" r="4.9"/><circle cx="834.6" r="4.9"/><circle cx="847.2" r="4.9"/><circle cx="861.6" r="4.9"/><circle cx="895.9" r="4.9"/><circle cx="897.7" r="4.9"/><circle cx="904.0" r="4.9"/><circle cx="911.2" r="4.9"/><circle cx="929.2" r="4.9"/><circle cx="948.2" r="4.9"/><circle cx="994.1" r="4.9"/></g>
<g transform="translate(0,351.0)"><circle cx="262.2" r="4.9"/><circle cx="275.7" r="4.9"/><circle cx="280.2" r="4.9"/><circle cx="286.5" r="4.9"/><circle cx="296.5" r="4.9"/><circle cx="284.7" r="4.9"/><circle cx="293.8" r="4.9"/><circle cx="301.0" r="4.9"/><circle cx="376.7" r="4.9"/><circle cx="396.5" r="4.9"/><circle cx="420.0" r="4.9"/><circle cx="432.6" r="4.9"/><circle cx="457.8" r="4.9"/><circle cx="463.2" r="4.9"/><circle cx="469.5" r="4.9"/><circle cx="482.2" r="4.9"/><circle cx="583.1" r="4.9"/><circle cx="602.0" r="4.9"/><circle cx="604.7" r="4.9"/><circle cx="611.1" r="4.9"/><circle cx="624.6" r="4.9"/><circle cx="631.8" r="4.9"/><circle cx="647.1" r="4.9"/><circle cx="659.7" r="4.9"/><circle cx="693.1" r="4.9"/><circle cx="694.9" r="4.9"/><circle cx="723.7" r="4.9"/><circle cx="732.7" r="4.9"/><circle cx="744.5" r="4.9"/><circle cx="749.9" r="4.9"/><circle cx="756.2" r="4.9"/><circle cx="780.5" r="4.9"/><circle cx="785.9" r="4.9"/><circle cx="794.9" r="4.9"/><circle cx="796.7" r="4.9"/><circle cx="804.9" r="4.9"/><circle cx="847.2" r="4.9"/><circle cx="854.4" r="4.9"/><circle cx="879.7" r="4.9"/><circle cx="891.4" r="4.9"/><circle cx="909.4" r="4.9"/><circle cx="294.7" r="4.9"/><circle cx="310.9" r="4.9"/><circle cx="351.4" r="4.9"/><circle cx="365.9" r="4.9"/><circle cx="750.8" r="4.9"/><circle cx="756.2" r="4.9"/><circle cx="409.1" r="4.9"/><circle cx="425.4" r="4.9"/><circle cx="444.3" r="4.9"/><circle cx="478.5" r="4.9"/><circle cx="489.4" r="4.9"/><circle cx="498.4" r="4.9"/><circle cx="549.8" r="4.9"/><circle cx="582.2" r="4.9"/><circle cx="587.6" r="4.9"/><circle cx="657.0" r="4.9"/><circle cx="681.4" r="4.9"/><circle cx="695.8" r="4.9"/><circle cx="249.6" r="4.9"/><circle cx="257.7" r="4.9"/><circle cx="230.7" r="4.9"/><circle cx="242.4" r="4.9"/><circle cx="255.0" r="4.9"/><circle cx="258.6" r="4.9"/><circle cx="264.0" r="4.9"/><circle cx="264.9" r="4.9"/><circle cx="266.7" r="4.9"/><circle cx="266.7" r="4.9"/><circle cx="267.6" r="4.9"/><circle cx="268.5" r="4.9"/><circle cx="286.5" r="4.9"/><circle cx="307.3" r="4.9"/><circle cx="314.5" r="4.9"/><circle cx="322.6" r="4.9"/><circle cx="323.5" r="4.9"/><circle cx="334.3" r="4.9"/><circle cx="337.9" r="4.9"/><circle cx="339.7" r="4.9"/><circle cx="343.3" r="4.9"/><circle cx="350.5" r="4.9"/><circle cx="359.6" r="4.9"/><circle cx="360.5" r="4.9"/><circle cx="373.1" r="4.9"/><circle cx="380.3" r="4.9"/><circle cx="382.1" r="4.9"/><circle cx="387.5" r="4.9"/><circle cx="412.7" r="4.9"/><circle cx="422.7" r="4.9"/><circle cx="424.5" r="4.9"/><circle cx="425.4" r="4.9"/><circle cx="433.5" r="4.9"/><circle cx="444.3" r="4.9"/><circle cx="445.2" r="4.9"/><circle cx="446.1" r="4.9"/><circle cx="449.7" r="4.9"/><circle cx="451.5" r="4.9"/><circle cx="467.7" r="4.9"/><circle cx="468.6" r="4.9"/><circle cx="471.3" r="4.9"/><circle cx="477.6" r="4.9"/><circle cx="481.2" r="4.9"/><circle cx="486.7" r="4.9"/><circle cx="498.4" r="4.9"/><circle cx="502.0" r="4.9"/><circle cx="510.1" r="4.9"/><circle cx="531.7" r="4.9"/><circle cx="563.3" r="4.9"/><circle cx="591.2" r="4.9"/><circle cx="615.6" r="4.9"/><circle cx="618.3" r="4.9"/><circle cx="620.1" r="4.9"/><circle cx="621.9" r="4.9"/><circle cx="622.8" r="4.9"/><circle cx="624.6" r="4.9"/><circle cx="638.1" r="4.9"/><circle cx="645.3" r="4.9"/><circle cx="665.1" r="4.9"/><circle cx="676.0" r="4.9"/><circle cx="681.4" r="4.9"/><circle cx="686.8" r="4.9"/><circle cx="707.5" r="4.9"/><circle cx="715.6" r="4.9"/><circle cx="726.4" r="4.9"/><circle cx="726.4" r="4.9"/><circle cx="730.9" r="4.9"/><circle cx="737.2" r="4.9"/><circle cx="739.0" r="4.9"/><circle cx="747.2" r="4.9"/><circle cx="747.2" r="4.9"/><circle cx="748.1" r="4.9"/><circle cx="749.9" r="4.9"/><circle cx="751.7" r="4.9"/><circle cx="758.9" r="4.9"/><circle cx="770.6" r="4.9"/><circle cx="774.2" r="4.9"/><circle cx="780.5" r="4.9"/><circle cx="787.7" r="4.9"/><circle cx="792.2" r="4.9"/><circle cx="804.0" r="4.9"/><circle cx="807.6" r="4.9"/><circle cx="816.6" r="4.9"/><circle cx="818.4" r="4.9"/><circle cx="822.9" r="4.9"/><circle cx="831.9" r="4.9"/><circle cx="837.3" r="4.9"/><circle cx="841.8" r="4.9"/><circle cx="843.6" r="4.9"/><circle cx="859.8" r="4.9"/><circle cx="877.0" r="4.9"/><circle cx="880.6" r="4.9"/><circle cx="918.4" r="4.9"/><circle cx="929.2" r="4.9"/><circle cx="932.9" r="4.9"/><circle cx="937.4" r="4.9"/><circle cx="968.9" r="4.9"/><circle cx="994.1" r="4.9"/></g>
<g transform="translate(0,343.1)"><circle cx="263.1" r="4.9"/><circle cx="265.8" r="4.9"/><circle cx="290.2" r="4.9"/><circle cx="292.9" r="4.9"/><circle cx="319.9" r="4.9"/><circle cx="333.4" r="4.9"/><circle cx="363.2" r="4.9"/><circle cx="374.0" r="4.9"/><circle cx="375.8" r="4.9"/><circle cx="392.0" r="4.9"/><circle cx="415.4" r="4.9"/><circle cx="418.2" r="4.9"/><circle cx="429.0" r="4.9"/><circle cx="446.1" r="4.9"/><circle cx="455.1" r="4.9"/><circle cx="476.7" r="4.9"/><circle cx="480.3" r="4.9"/><circle cx="484.9" r="4.9"/><circle cx="507.4" r="4.9"/><circle cx="588.5" r="4.9"/><circle cx="600.2" r="4.9"/><circle cx="639.0" r="4.9"/><circle cx="673.2" r="4.9"/><circle cx="680.5" r="4.9"/><circle cx="710.2" r="4.9"/><circle cx="712.0" r="4.9"/><circle cx="743.6" r="4.9"/><circle cx="746.3" r="4.9"/><circle cx="767.0" r="4.9"/><circle cx="797.6" r="4.9"/><circle cx="811.2" r="4.9"/><circle cx="852.6" r="4.9"/><circle cx="899.5" r="4.9"/><circle cx="903.1" r="4.9"/><circle cx="929.2" r="4.9"/><circle cx="983.3" r="4.9"/><circle cx="299.2" r="4.9"/><circle cx="319.9" r="4.9"/><circle cx="341.5" r="4.9"/><circle cx="377.6" r="4.9"/><circle cx="458.7" r="4.9"/><circle cx="612.0" r="4.9"/><circle cx="625.5" r="4.9"/><circle cx="682.3" r="4.9"/><circle cx="721.0" r="4.9"/><circle cx="812.1" r="4.9"/><circle cx="879.7" r="4.9"/><circle cx="472.2" r="4.9"/><circle cx="516.4" r="4.9"/><circle cx="585.8" r="4.9"/><circle cx="308.2" r="4.9"/><circle cx="237.0" r="4.9"/><circle cx="250.5" r="4.9"/><circle cx="255.9" r="4.9"/><circle cx="266.7" r="4.9"/><circle cx="269.4" r="4.9"/><circle cx="270.3" r="4.9"/><circle cx="273.9" r="4.9"/><circle cx="277.5" r="4.9"/><circle cx="286.5" r="4.9"/><circle cx="302.8" r="4.9"/><circle cx="307.3" r="4.9"/><circle cx="311.8" r="4.9"/><circle cx="313.6" r="4.9"/><circle cx="323.5" r="4.9"/><circle cx="328.0" r="4.9"/><circle cx="330.7" r="4.9"/><circle cx="330.7" r="4.9"/><circle cx="332.5" r="4.9"/><circle cx="337.0" r="4.9"/><circle cx="339.7" r="4.9"/><circle cx="341.5" r="4.9"/><circle cx="342.4" r="4.9"/><circle cx="346.0" r="4.9"/><circle cx="351.4" r="4.9"/><circle cx="360.5" r="4.9"/><circle cx="365.0" r="4.9"/><circle cx="369.5" r="4.9"/><circle cx="384.8" r="4.9"/><circle cx="388.4" r="4.9"/><circle cx="389.3" r="4.9"/><circle cx="399.2" r="4.9"/><circle cx="402.8" r="4.9"/><circle cx="421.8" r="4.9"/><circle cx="422.7" r="4.9"/><circle cx="434.4" r="4.9"/><circle cx="438.9" r="4.9"/><circle cx="454.2" r="4.9"/><circle cx="455.1" r="4.9"/><circle cx="456.9" r="4.9"/><circle cx="471.3" r="4.9"/><circle cx="476.7" r="4.9"/><circle cx="481.2" r="4.9"/><circle cx="483.1" r="4.9"/><circle cx="485.8" r="4.9"/><circle cx="490.3" r="4.9"/><circle cx="492.1" r="4.9"/><circle cx="497.5" r="4.9"/><circle cx="498.4" r="4.9"/><circle cx="499.3" r="4.9"/><circle cx="512.8" r="4.9"/><circle cx="514.6" r="4.9"/><circle cx="526.3" r="4.9"/><circle cx="528.1" r="4.9"/><circle cx="537.1" r="4.9"/><circle cx="557.0" r="4.9"/><circle cx="566.0" r="4.9"/><circle cx="591.2" r="4.9"/><circle cx="598.4" r="4.9"/><circle cx="598.4" r="4.9"/><circle cx="599.3" r="4.9"/><circle cx="604.7" r="4.9"/><circle cx="604.7" r="4.9"/><circle cx="605.6" r="4.9"/><circle cx="608.3" r="4.9"/><circle cx="622.8" r="4.9"/><circle cx="623.7" r="4.9"/><circle cx="631.8" r="4.9"/><circle cx="635.4" r="4.9"/><circle cx="635.4" r="4.9"/><circle cx="636.3" r="4.9"/><circle cx="639.9" r="4.9"/><circle cx="647.1" r="4.9"/><circle cx="653.4" r="4.9"/><circle cx="654.3" r="4.9"/><circle cx="661.5" r="4.9"/><circle cx="674.1" r="4.9"/><circle cx="681.4" r="4.9"/><circle cx="710.2" r="4.9"/><circle cx="722.8" r="4.9"/><circle cx="732.7" r="4.9"/><circle cx="740.0" r="4.9"/><circle cx="748.1" r="4.9"/><circle cx="758.9" r="4.9"/><circle cx="759.8" r="4.9"/><circle cx="772.4" r="4.9"/><circle cx="775.1" r="4.9"/><circle cx="782.3" r="4.9"/><circle cx="794.9" r="4.9"/><circle cx="797.6" r="4.9"/><circle cx="798.5" r="4.9"/><circle cx="811.2" r="4.9"/><circle cx="821.1" r="4.9"/><circle cx="826.5" r="4.9"/><circle cx="849.0" r="4.9"/><circle cx="857.1" r="4.9"/><circle cx="857.1" r="4.9"/><circle cx="863.4" r="4.9"/><circle cx="871.6" r="4.9"/><circle cx="873.4" r="4.9"/><circle cx="876.1" r="4.9"/><circle cx="880.6" r="4.9"/><circle cx="881.5" r="4.9"/><circle cx="895.9" r="4.9"/><circle cx="902.2" r="4.9"/><circle cx="907.6" r="4.9"/><circle cx="923.8" r="4.9"/><circle cx="938.3" r="4.9"/><circle cx="941.0" r="4.9"/><circle cx="941.9" r="4.9"/><circle cx="945.5" r="4.9"/><circle cx="946.4" r="4.9"/><circle cx="946.4" r="4.9"/><circle cx="950.9" r="4.9"/><circle cx="959.0" r="4.9"/><circle cx="967.1" r="4.9"/></g>
<g transform="translate(0,335.2)"><circle cx="304.6" r="4.9"/><circle cx="305.5" r="4.9"/><circle cx="310.9" r="4.9"/><circle cx="313.6" r="4.9"/><circle cx="325.3" r="4.9"/><circle cx="328.9" r="4.9"/><circle cx="350.5" r="4.9"/><circle cx="357.8" r="4.9"/><circle cx="358.7" r="4.9"/><circle cx="362.3" r="4.9"/><circle cx="367.7" r="4.9"/><circle cx="373.1" r="4.9"/><circle cx="476.7" r="4.9"/><circle cx="612.0" r="4.9"/><circle cx="703.9" r="4.9"/><circle cx="770.6" r="4.9"/><circle cx="338.8" r="4.9"/><circle cx="383.0" r="4.9"/><circle cx="447.9" r="4.9"/><circle cx="464.1" r="4.9"/><circle cx="504.7" r="4.9"/><circle cx="630.0" r="4.9"/><circle cx="637.2" r="4.9"/><circle cx="642.6" r="4.9"/><circle cx="662.4" r="4.9"/><circle cx="717.4" r="4.9"/><circle cx="740.0" r="4.9"/><circle cx="776.0" r="4.9"/><circle cx="806.7" r="4.9"/><circle cx="807.6" r="4.9"/><circle cx="833.7" r="4.9"/><circle cx="849.9" r="4.9"/><circle cx="874.3" r="4.9"/><circle cx="888.7" r="4.9"/><circle cx="927.4" r="4.9"/><circle cx="941.9" r="4.9"/><circle cx="963.5" r="4.9"/><circle cx="971.6" r="4.9"/><circle cx="994.1" r="4.9"/><circle cx="999.6" r="4.9"/><circle cx="301.9" r="4.9"/><circle cx="302.8" r="4.9"/><circle cx="320.8" r="4.9"/><circle cx="328.0" r="4.9"/><circle cx="362.3" r="4.9"/><circle cx="364.1" r="4.9"/><circle cx="370.4" r="4.9"/><circle cx="380.3" r="4.9"/><circle cx="401.9" r="4.9"/><circle cx="421.8" r="4.9"/><circle cx="428.1" r="4.9"/><circle cx="454.2" r="4.9"/><circle cx="473.1" r="4.9"/><circle cx="482.2" r="4.9"/><circle cx="587.6" r="4.9"/><circle cx="613.8" r="4.9"/><circle cx="626.4" r="4.9"/><circle cx="635.4" r="4.9"/><circle cx="658.8" r="4.9"/><circle cx="680.5" r="4.9"/><circle cx="689.5" r="4.9"/><circle cx="698.5" r="4.9"/><circle cx="731.8" r="4.9"/><circle cx="755.3" r="4.9"/><circle cx="795.8" r="4.9"/><circle cx="804.9" r="4.9"/><circle cx="806.7" r="4.9"/><circle cx="850.8" r="4.9"/><circle cx="553.4" r="4.9"/><circle cx="567.8" r="4.9"/><circle cx="569.6" r="4.9"/><circle cx="584.0" r="4.9"/><circle cx="276.6" r="4.9"/><circle cx="293.8" r="4.9"/><circle cx="749.9" r="4.9"/><circle cx="246.0" r="4.9"/><circle cx="257.7" r="4.9"/><circle cx="264.9" r="4.9"/><circle cx="271.2" r="4.9"/><circle cx="273.0" r="4.9"/><circle cx="277.5" r="4.9"/><circle cx="283.8" r="4.9"/><circle cx="292.0" r="4.9"/><circle cx="298.3" r="4.9"/><circle cx="301.0" r="4.9"/><circle cx="306.4" r="4.9"/><circle cx="306.4" r="4.9"/><circle cx="317.2" r="4.9"/><circle cx="319.0" r="4.9"/><circle cx="332.5" r="4.9"/><circle cx="336.1" r="4.9"/><circle cx="336.1" r="4.9"/><circle cx="337.9" r="4.9"/><circle cx="370.4" r="4.9"/><circle cx="371.3" r="4.9"/><circle cx="372.2" r="4.9"/><circle cx="375.8" r="4.9"/><circle cx="387.5" r="4.9"/><circle cx="392.0" r="4.9"/><circle cx="396.5" r="4.9"/><circle cx="401.9" r="4.9"/><circle cx="405.5" r="4.9"/><circle cx="411.8" r="4.9"/><circle cx="418.2" r="4.9"/><circle cx="419.1" r="4.9"/><circle cx="419.1" r="4.9"/><circle cx="427.2" r="4.9"/><circle cx="428.1" r="4.9"/><circle cx="429.0" r="4.9"/><circle cx="431.7" r="4.9"/><circle cx="437.1" r="4.9"/><circle cx="439.8" r="4.9"/><circle cx="440.7" r="4.9"/><circle cx="451.5" r="4.9"/><circle cx="462.3" r="4.9"/><circle cx="465.0" r="4.9"/><circle cx="486.7" r="4.9"/><circle cx="498.4" r="4.9"/><circle cx="503.8" r="4.9"/><circle cx="518.2" r="4.9"/><circle cx="529.0" r="4.9"/><circle cx="530.8" r="4.9"/><circle cx="538.0" r="4.9"/><circle cx="540.7" r="4.9"/><circle cx="541.6" r="4.9"/><circle cx="541.6" r="4.9"/><circle cx="545.2" r="4.9"/><circle cx="560.6" r="4.9"/><circle cx="580.4" r="4.9"/><circle cx="581.3" r="4.9"/><circle cx="581.3" r="4.9"/><circle cx="601.1" r="4.9"/><circle cx="602.0" r="4.9"/><circle cx="605.6" r="4.9"/><circle cx="612.9" r="4.9"/><circle cx="618.3" r="4.9"/><circle cx="623.7" r="4.9"/><circle cx="630.9" r="4.9"/><circle cx="636.3" r="4.9"/><circle cx="639.9" r="4.9"/><circle cx="643.5" r="4.9"/><circle cx="646.2" r="4.9"/><circle cx="648.9" r="4.9"/><circle cx="649.8" r="4.9"/><circle cx="649.8" r="4.9"/><circle cx="650.7" r="4.9"/><circle cx="657.9" r="4.9"/><circle cx="661.5" r="4.9"/><circle cx="663.3" r="4.9"/><circle cx="664.2" r="4.9"/><circle cx="685.0" r="4.9"/><circle cx="689.5" r="4.9"/><circle cx="694.0" r="4.9"/><circle cx="695.8" r="4.9"/><circle cx="698.5" r="4.9"/><circle cx="707.5" r="4.9"/><circle cx="712.0" r="4.9"/><circle cx="712.0" r="4.9"/><circle cx="713.8" r="4.9"/><circle cx="716.5" r="4.9"/><circle cx="731.8" r="4.9"/><circle cx="737.2" r="4.9"/><circle cx="757.1" r="4.9"/><circle cx="757.1" r="4.9"/><circle cx="758.0" r="4.9"/><circle cx="760.7" r="4.9"/><circle cx="762.5" r="4.9"/><circle cx="767.9" r="4.9"/><circle cx="768.8" r="4.9"/><circle cx="771.5" r="4.9"/><circle cx="772.4" r="4.9"/><circle cx="775.1" r="4.9"/><circle cx="780.5" r="4.9"/><circle cx="803.0" r="4.9"/><circle cx="804.9" r="4.9"/><circle cx="805.8" r="4.9"/><circle cx="808.5" r="4.9"/><circle cx="812.1" r="4.9"/><circle cx="813.0" r="4.9"/><circle cx="817.5" r="4.9"/><circle cx="822.0" r="4.9"/><circle cx="823.8" r="4.9"/><circle cx="823.8" r="4.9"/><circle cx="831.9" r="4.9"/><circle cx="844.5" r="4.9"/><circle cx="859.8" r="4.9"/><circle cx="860.7" r="4.9"/><circle cx="870.7" r="4.9"/><circle cx="875.2" r="4.9"/><circle cx="881.5" r="4.9"/><circle cx="885.1" r="4.9"/><circle cx="896.8" r="4.9"/><circle cx="897.7" r="4.9"/><circle cx="903.1" r="4.9"/><circle cx="903.1" r="4.9"/><circle cx="908.5" r="4.9"/><circle cx="908.5" r="4.9"/><circle cx="913.9" r="4.9"/><circle cx="920.2" r="4.9"/><circle cx="921.1" r="4.9"/><circle cx="946.4" r="4.9"/><circle cx="950.9" r="4.9"/><circle cx="955.4" r="4.9"/><circle cx="959.9" r="4.9"/><circle cx="961.7" r="4.9"/><circle cx="964.4" r="4.9"/><circle cx="976.1" r="4.9"/><circle cx="977.0" r="4.9"/><circle cx="978.8" r="4.9"/><circle cx="979.7" r="4.9"/><circle cx="983.3" r="4.9"/><circle cx="990.5" r="4.9"/><circle cx="998.7" r="4.9"/><circle cx="998.7" r="4.9"/><circle cx="1002.3" r="4.9"/></g>
<g transform="translate(0,327.2)"><circle cx="302.8" r="4.9"/><circle cx="309.1" r="4.9"/><circle cx="335.2" r="4.9"/><circle cx="337.9" r="4.9"/><circle cx="341.5" r="4.9"/><circle cx="346.0" r="4.9"/><circle cx="356.0" r="4.9"/><circle cx="375.8" r="4.9"/><circle cx="483.1" r="4.9"/><circle cx="496.6" r="4.9"/><circle cx="592.1" r="4.9"/><circle cx="608.3" r="4.9"/><circle cx="688.6" r="4.9"/><circle cx="699.4" r="4.9"/><circle cx="717.4" r="4.9"/><circle cx="742.7" r="4.9"/><circle cx="749.9" r="4.9"/><circle cx="752.6" r="4.9"/><circle cx="758.0" r="4.9"/><circle cx="816.6" r="4.9"/><circle cx="448.8" r="4.9"/><circle cx="494.8" r="4.9"/><circle cx="520.0" r="4.9"/><circle cx="530.8" r="4.9"/><circle cx="535.3" r="4.9"/><circle cx="566.0" r="4.9"/><circle cx="575.0" r="4.9"/><circle cx="579.5" r="4.9"/><circle cx="655.2" r="4.9"/><circle cx="858.9" r="4.9"/><circle cx="923.8" r="4.9"/><circle cx="950.9" r="4.9"/><circle cx="328.9" r="4.9"/><circle cx="333.4" r="4.9"/><circle cx="348.7" r="4.9"/><circle cx="383.0" r="4.9"/><circle cx="406.4" r="4.9"/><circle cx="422.7" r="4.9"/><circle cx="484.9" r="4.9"/><circle cx="489.4" r="4.9"/><circle cx="513.7" r="4.9"/><circle cx="580.4" r="4.9"/><circle cx="590.3" r="4.9"/><circle cx="609.2" r="4.9"/><circle cx="622.8" r="4.9"/><circle cx="653.4" r="4.9"/><circle cx="683.2" r="4.9"/><circle cx="685.0" r="4.9"/><circle cx="688.6" r="4.9"/><circle cx="701.2" r="4.9"/><circle cx="745.4" r="4.9"/><circle cx="753.5" r="4.9"/><circle cx="776.0" r="4.9"/><circle cx="784.1" r="4.9"/><circle cx="786.8" r="4.9"/><circle cx="794.0" r="4.9"/><circle cx="822.0" r="4.9"/><circle cx="866.1" r="4.9"/><circle cx="888.7" r="4.9"/><circle cx="909.4" r="4.9"/><circle cx="935.6" r="4.9"/><circle cx="939.2" r="4.9"/><circle cx="967.1" r="4.9"/><circle cx="975.2" r="4.9"/><circle cx="525.4" r="4.9"/><circle cx="538.9" r="4.9"/><circle cx="545.2" r="4.9"/><circle cx="556.1" r="4.9"/><circle cx="564.2" r="4.9"/><circle cx="566.0" r="4.9"/><circle cx="574.1" r="4.9"/><circle cx="290.2" r="4.9"/><circle cx="352.3" r="4.9"/><circle cx="386.6" r="4.9"/><circle cx="753.5" r="4.9"/><circle cx="283.8" r="4.9"/><circle cx="286.5" r="4.9"/><circle cx="292.9" r="4.9"/><circle cx="305.5" r="4.9"/><circle cx="310.0" r="4.9"/><circle cx="337.9" r="4.9"/><circle cx="346.9" r="4.9"/><circle cx="349.6" r="4.9"/><circle cx="355.1" r="4.9"/><circle cx="356.9" r="4.9"/><circle cx="365.0" r="4.9"/><circle cx="367.7" r="4.9"/><circle cx="374.9" r="4.9"/><circle cx="390.2" r="4.9"/><circle cx="391.1" r="4.9"/><circle cx="391.1" r="4.9"/><circle cx="394.7" r="4.9"/><circle cx="395.6" r="4.9"/><circle cx="401.9" r="4.9"/><circle cx="417.3" r="4.9"/><circle cx="418.2" r="4.9"/><circle cx="419.1" r="4.9"/><circle cx="420.0" r="4.9"/><circle cx="424.5" r="4.9"/><circle cx="426.3" r="4.9"/><circle cx="435.3" r="4.9"/><circle cx="436.2" r="4.9"/><circle cx="461.4" r="4.9"/><circle cx="465.0" r="4.9"/><circle cx="468.6" r="4.9"/><circle cx="476.7" r="4.9"/><circle cx="484.0" r="4.9"/><circle cx="484.9" r="4.9"/><circle cx="489.4" r="4.9"/><circle cx="492.1" r="4.9"/><circle cx="495.7" r="4.9"/><circle cx="519.1" r="4.9"/><circle cx="520.0" r="4.9"/><circle cx="526.3" r="4.9"/><circle cx="532.6" r="4.9"/><circle cx="551.6" r="4.9"/><circle cx="552.5" r="4.9"/><circle cx="552.5" r="4.9"/><circle cx="561.5" r="4.9"/><circle cx="566.9" r="4.9"/><circle cx="566.9" r="4.9"/><circle cx="573.2" r="4.9"/><circle cx="574.1" r="4.9"/><circle cx="574.1" r="4.9"/><circle cx="588.5" r="4.9"/><circle cx="589.4" r="4.9"/><circle cx="590.3" r="4.9"/><circle cx="590.3" r="4.9"/><circle cx="600.2" r="4.9"/><circle cx="602.0" r="4.9"/><circle cx="626.4" r="4.9"/><circle cx="627.3" r="4.9"/><circle cx="628.2" r="4.9"/><circle cx="633.6" r="4.9"/><circle cx="635.4" r="4.9"/><circle cx="650.7" r="4.9"/><circle cx="665.1" r="4.9"/><circle cx="666.0" r="4.9"/><circle cx="667.8" r="4.9"/><circle cx="685.0" r="4.9"/><circle cx="685.0" r="4.9"/><circle cx="685.0" r="4.9"/><circle cx="701.2" r="4.9"/><circle cx="701.2" r="4.9"/><circle cx="703.9" r="4.9"/><circle cx="712.9" r="4.9"/><circle cx="720.1" r="4.9"/><circle cx="721.0" r="4.9"/><circle cx="730.9" r="4.9"/><circle cx="736.3" r="4.9"/><circle cx="737.2" r="4.9"/><circle cx="745.4" r="4.9"/><circle cx="767.0" r="4.9"/><circle cx="767.0" r="4.9"/><circle cx="768.8" r="4.9"/><circle cx="780.5" r="4.9"/><circle cx="789.5" r="4.9"/><circle cx="790.4" r="4.9"/><circle cx="791.3" r="4.9"/><circle cx="795.8" r="4.9"/><circle cx="800.3" r="4.9"/><circle cx="800.3" r="4.9"/><circle cx="807.6" r="4.9"/><circle cx="810.3" r="4.9"/><circle cx="811.2" r="4.9"/><circle cx="825.6" r="4.9"/><circle cx="829.2" r="4.9"/><circle cx="831.9" r="4.9"/><circle cx="844.5" r="4.9"/><circle cx="847.2" r="4.9"/><circle cx="847.2" r="4.9"/><circle cx="848.1" r="4.9"/><circle cx="850.8" r="4.9"/><circle cx="853.5" r="4.9"/><circle cx="881.5" r="4.9"/><circle cx="905.8" r="4.9"/><circle cx="912.1" r="4.9"/><circle cx="941.0" r="4.9"/><circle cx="950.9" r="4.9"/><circle cx="961.7" r="4.9"/><circle cx="961.7" r="4.9"/><circle cx="964.4" r="4.9"/><circle cx="968.0" r="4.9"/><circle cx="979.7" r="4.9"/><circle cx="981.5" r="4.9"/><circle cx="984.2" r="4.9"/><circle cx="989.6" r="4.9"/><circle cx="995.9" r="4.9"/><circle cx="997.8" r="4.9"/></g>
<g transform="translate(0,319.3)"><circle cx="319.0" r="4.9"/><circle cx="338.8" r="4.9"/><circle cx="342.4" r="4.9"/><circle cx="368.6" r="4.9"/><circle cx="421.8" r="4.9"/><circle cx="456.0" r="4.9"/><circle cx="457.8" r="4.9"/><circle cx="469.5" r="4.9"/><circle cx="472.2" r="4.9"/><circle cx="481.2" r="4.9"/><circle cx="494.8" r="4.9"/><circle cx="610.1" r="4.9"/><circle cx="664.2" r="4.9"/><circle cx="692.2" r="4.9"/><circle cx="695.8" r="4.9"/><circle cx="696.7" r="4.9"/><circle cx="702.1" r="4.9"/><circle cx="706.6" r="4.9"/><circle cx="713.8" r="4.9"/><circle cx="725.5" r="4.9"/><circle cx="741.8" r="4.9"/><circle cx="747.2" r="4.9"/><circle cx="758.9" r="4.9"/><circle cx="767.0" r="4.9"/><circle cx="774.2" r="4.9"/><circle cx="776.9" r="4.9"/><circle cx="778.7" r="4.9"/><circle cx="781.4" r="4.9"/><circle cx="799.4" r="4.9"/><circle cx="801.2" r="4.9"/><circle cx="807.6" r="4.9"/><circle cx="810.3" r="4.9"/><circle cx="811.2" r="4.9"/><circle cx="849.9" r="4.9"/><circle cx="882.4" r="4.9"/><circle cx="912.1" r="4.9"/><circle cx="921.1" r="4.9"/><circle cx="944.6" r="4.9"/><circle cx="499.3" r="4.9"/><circle cx="501.1" r="4.9"/><circle cx="527.2" r="4.9"/><circle cx="534.4" r="4.9"/><circle cx="544.3" r="4.9"/><circle cx="564.2" r="4.9"/><circle cx="830.1" r="4.9"/><circle cx="877.9" r="4.9"/><circle cx="905.8" r="4.9"/><circle cx="977.0" r="4.9"/><circle cx="990.5" r="4.9"/><circle cx="386.6" r="4.9"/><circle cx="399.2" r="4.9"/><circle cx="414.5" r="4.9"/><circle cx="432.6" r="4.9"/><circle cx="514.6" r="4.9"/><circle cx="527.2" r="4.9"/><circle cx="529.0" r="4.9"/><circle cx="585.8" r="4.9"/><circle cx="648.0" r="4.9"/><circle cx="650.7" r="4.9"/><circle cx="667.8" r="4.9"/><circle cx="791.3" r="4.9"/><circle cx="799.4" r="4.9"/><circle cx="826.5" r="4.9"/><circle cx="844.5" r="4.9"/><circle cx="852.6" r="4.9"/><circle cx="904.0" r="4.9"/><circle cx="917.5" r="4.9"/><circle cx="919.3" r="4.9"/><circle cx="933.8" r="4.9"/><circle cx="942.8" r="4.9"/><circle cx="951.8" r="4.9"/><circle cx="958.1" r="4.9"/><circle cx="540.7" r="4.9"/><circle cx="300.1" r="4.9"/><circle cx="331.6" r="4.9"/><circle cx="339.7" r="4.9"/><circle cx="366.8" r="4.9"/><circle cx="592.1" r="4.9"/><circle cx="692.2" r="4.9"/><circle cx="740.0" r="4.9"/><circle cx="758.0" r="4.9"/><circle cx="761.6" r="4.9"/><circle cx="766.1" r="4.9"/><circle cx="254.1" r="4.9"/><circle cx="277.5" r="4.9"/><circle cx="297.4" r="4.9"/><circle cx="300.1" r="4.9"/><circle cx="301.0" r="4.9"/><circle cx="307.3" r="4.9"/><circle cx="312.7" r="4.9"/><circle cx="312.7" r="4.9"/><circle cx="312.7" r="4.9"/><circle cx="324.4" r="4.9"/><circle cx="328.0" r="4.9"/><circle cx="328.0" r="4.9"/><circle cx="330.7" r="4.9"/><circle cx="335.2" r="4.9"/><circle cx="339.7" r="4.9"/><circle cx="342.4" r="4.9"/><circle cx="345.1" r="4.9"/><circle cx="354.2" r="4.9"/><circle cx="355.1" r="4.9"/><circle cx="364.1" r="4.9"/><circle cx="369.5" r="4.9"/><circle cx="374.0" r="4.9"/><circle cx="381.2" r="4.9"/><circle cx="385.7" r="4.9"/><circle cx="398.3" r="4.9"/><circle cx="410.0" r="4.9"/><circle cx="411.8" r="4.9"/><circle cx="422.7" r="4.9"/><circle cx="422.7" r="4.9"/><circle cx="424.5" r="4.9"/><circle cx="437.1" r="4.9"/><circle cx="444.3" r="4.9"/><circle cx="447.0" r="4.9"/><circle cx="449.7" r="4.9"/><circle cx="449.7" r="4.9"/><circle cx="452.4" r="4.9"/><circle cx="453.3" r="4.9"/><circle cx="462.3" r="4.9"/><circle cx="465.0" r="4.9"/><circle cx="474.0" r="4.9"/><circle cx="483.1" r="4.9"/><circle cx="493.9" r="4.9"/><circle cx="496.6" r="4.9"/><circle cx="496.6" r="4.9"/><circle cx="497.5" r="4.9"/><circle cx="510.1" r="4.9"/><circle cx="511.0" r="4.9"/><circle cx="517.3" r="4.9"/><circle cx="521.8" r="4.9"/><circle cx="530.8" r="4.9"/><circle cx="534.4" r="4.9"/><circle cx="536.2" r="4.9"/><circle cx="543.4" r="4.9"/><circle cx="561.5" r="4.9"/><circle cx="568.7" r="4.9"/><circle cx="571.4" r="4.9"/><circle cx="583.1" r="4.9"/><circle cx="590.3" r="4.9"/><circle cx="599.3" r="4.9"/><circle cx="603.8" r="4.9"/><circle cx="607.4" r="4.9"/><circle cx="616.5" r="4.9"/><circle cx="617.4" r="4.9"/><circle cx="620.1" r="4.9"/><circle cx="621.9" r="4.9"/><circle cx="632.7" r="4.9"/><circle cx="649.8" r="4.9"/><circle cx="650.7" r="4.9"/><circle cx="660.6" r="4.9"/><circle cx="667.8" r="4.9"/><circle cx="681.4" r="4.9"/><circle cx="682.3" r="4.9"/><circle cx="683.2" r="4.9"/><circle cx="685.0" r="4.9"/><circle cx="685.9" r="4.9"/><circle cx="689.5" r="4.9"/><circle cx="703.9" r="4.9"/><circle cx="705.7" r="4.9"/><circle cx="707.5" r="4.9"/><circle cx="714.7" r="4.9"/><circle cx="721.0" r="4.9"/><circle cx="727.3" r="4.9"/><circle cx="729.1" r="4.9"/><circle cx="737.2" r="4.9"/><circle cx="738.1" r="4.9"/><circle cx="748.1" r="4.9"/><circle cx="752.6" r="4.9"/><circle cx="763.4" r="4.9"/><circle cx="813.0" r="4.9"/><circle cx="819.3" r="4.9"/><circle cx="821.1" r="4.9"/><circle cx="823.8" r="4.9"/><circle cx="840.9" r="4.9"/><circle cx="841.8" r="4.9"/><circle cx="841.8" r="4.9"/><circle cx="849.0" r="4.9"/><circle cx="851.7" r="4.9"/><circle cx="858.0" r="4.9"/><circle cx="858.9" r="4.9"/><circle cx="862.5" r="4.9"/><circle cx="877.9" r="4.9"/><circle cx="878.8" r="4.9"/><circle cx="887.8" r="4.9"/><circle cx="892.3" r="4.9"/><circle cx="897.7" r="4.9"/><circle cx="898.6" r="4.9"/><circle cx="902.2" r="4.9"/><circle cx="906.7" r="4.9"/><circle cx="908.5" r="4.9"/><circle cx="923.8" r="4.9"/><circle cx="932.9" r="4.9"/><circle cx="951.8" r="4.9"/><circle cx="961.7" r="4.9"/><circle cx="968.0" r="4.9"/><circle cx="968.9" r="4.9"/><circle cx="973.4" r="4.9"/><circle cx="974.3" r="4.9"/><circle cx="991.4" r="4.9"/><circle cx="1002.3" r="4.9"/><circle cx="1004.1" r="4.9"/><circle cx="1008.6" r="4.9"/></g>
<g transform="translate(0,311.4)"><circle cx="381.2" r="4.9"/><circle cx="385.7" r="4.9"/><circle cx="387.5" r="4.9"/><circle cx="392.0" r="4.9"/><circle cx="407.3" r="4.9"/><circle cx="419.1" r="4.9"/><circle cx="424.5" r="4.9"/><circle cx="425.4" r="4.9"/><circle cx="434.4" r="4.9"/><circle cx="439.8" r="4.9"/><circle cx="442.5" r="4.9"/><circle cx="444.3" r="4.9"/><circle cx="458.7" r="4.9"/><circle cx="462.3" r="4.9"/><circle cx="470.4" r="4.9"/><circle cx="475.8" r="4.9"/><circle cx="499.3" r="4.9"/><circle cx="507.4" r="4.9"/><circle cx="524.5" r="4.9"/><circle cx="591.2" r="4.9"/><circle cx="594.8" r="4.9"/><circle cx="596.6" r="4.9"/><circle cx="660.6" r="4.9"/><circle cx="666.0" r="4.9"/><circle cx="671.4" r="4.9"/><circle cx="683.2" r="4.9"/><circle cx="685.9" r="4.9"/><circle cx="694.0" r="4.9"/><circle cx="714.7" r="4.9"/><circle cx="715.6" r="4.9"/><circle cx="722.8" r="4.9"/><circle cx="723.7" r="4.9"/><circle cx="768.8" r="4.9"/><circle cx="803.0" r="4.9"/><circle cx="820.2" r="4.9"/><circle cx="826.5" r="4.9"/><circle cx="827.4" r="4.9"/><circle cx="835.5" r="4.9"/><circle cx="844.5" r="4.9"/><circle cx="858.9" r="4.9"/><circle cx="868.9" r="4.9"/><circle cx="913.9" r="4.9"/><circle cx="917.5" r="4.9"/><circle cx="942.8" r="4.9"/><circle cx="963.5" r="4.9"/><circle cx="964.4" r="4.9"/><circle cx="532.6" r="4.9"/><circle cx="560.6" r="4.9"/><circle cx="993.2" r="4.9"/><circle cx="998.7" r="4.9"/><circle cx="403.7" r="4.9"/><circle cx="476.7" r="4.9"/><circle cx="498.4" r="4.9"/><circle cx="502.9" r="4.9"/><circle cx="548.9" r="4.9"/><circle cx="577.7" r="4.9"/><circle cx="593.0" r="4.9"/><circle cx="790.4" r="4.9"/><circle cx="846.3" r="4.9"/><circle cx="945.5" r="4.9"/><circle cx="947.3" r="4.9"/><circle cx="955.4" r="4.9"/><circle cx="963.5" r="4.9"/><circle cx="972.5" r="4.9"/><circle cx="295.6" r="4.9"/><circle cx="356.9" r="4.9"/><circle cx="421.8" r="4.9"/><circle cx="433.5" r="4.9"/><circle cx="456.0" r="4.9"/><circle cx="479.4" r="4.9"/><circle cx="639.9" r="4.9"/><circle cx="710.2" r="4.9"/><circle cx="716.5" r="4.9"/><circle cx="719.2" r="4.9"/><circle cx="721.9" r="4.9"/><circle cx="744.5" r="4.9"/><circle cx="767.9" r="4.9"/><circle cx="781.4" r="4.9"/><circle cx="802.1" r="4.9"/><circle cx="815.7" r="4.9"/><circle cx="923.8" r="4.9"/><circle cx="263.1" r="4.9"/><circle cx="293.8" r="4.9"/><circle cx="296.5" r="4.9"/><circle cx="299.2" r="4.9"/><circle cx="324.4" r="4.9"/><circle cx="331.6" r="4.9"/><circle cx="335.2" r="4.9"/><circle cx="337.9" r="4.9"/><circle cx="342.4" r="4.9"/><circle cx="352.3" r="4.9"/><circle cx="361.4" r="4.9"/><circle cx="373.1" r="4.9"/><circle cx="386.6" r="4.9"/><circle cx="411.8" r="4.9"/><circle cx="421.8" r="4.9"/><circle cx="421.8" r="4.9"/><circle cx="426.3" r="4.9"/><circle cx="429.9" r="4.9"/><circle cx="441.6" r="4.9"/><circle cx="454.2" r="4.9"/><circle cx="459.6" r="4.9"/><circle cx="465.9" r="4.9"/><circle cx="468.6" r="4.9"/><circle cx="477.6" r="4.9"/><circle cx="482.2" r="4.9"/><circle cx="488.5" r="4.9"/><circle cx="494.8" r="4.9"/><circle cx="511.9" r="4.9"/><circle cx="520.0" r="4.9"/><circle cx="520.9" r="4.9"/><circle cx="528.1" r="4.9"/><circle cx="531.7" r="4.9"/><circle cx="532.6" r="4.9"/><circle cx="533.5" r="4.9"/><circle cx="537.1" r="4.9"/><circle cx="540.7" r="4.9"/><circle cx="557.0" r="4.9"/><circle cx="563.3" r="4.9"/><circle cx="563.3" r="4.9"/><circle cx="565.1" r="4.9"/><circle cx="573.2" r="4.9"/><circle cx="576.8" r="4.9"/><circle cx="578.6" r="4.9"/><circle cx="578.6" r="4.9"/><circle cx="589.4" r="4.9"/><circle cx="593.0" r="4.9"/><circle cx="595.7" r="4.9"/><circle cx="599.3" r="4.9"/><circle cx="604.7" r="4.9"/><circle cx="605.6" r="4.9"/><circle cx="607.4" r="4.9"/><circle cx="607.4" r="4.9"/><circle cx="613.8" r="4.9"/><circle cx="622.8" r="4.9"/><circle cx="630.0" r="4.9"/><circle cx="642.6" r="4.9"/><circle cx="646.2" r="4.9"/><circle cx="647.1" r="4.9"/><circle cx="666.9" r="4.9"/><circle cx="667.8" r="4.9"/><circle cx="669.6" r="4.9"/><circle cx="673.2" r="4.9"/><circle cx="676.0" r="4.9"/><circle cx="692.2" r="4.9"/><circle cx="694.0" r="4.9"/><circle cx="705.7" r="4.9"/><circle cx="707.5" r="4.9"/><circle cx="709.3" r="4.9"/><circle cx="713.8" r="4.9"/><circle cx="717.4" r="4.9"/><circle cx="718.3" r="4.9"/><circle cx="724.6" r="4.9"/><circle cx="732.7" r="4.9"/><circle cx="736.3" r="4.9"/><circle cx="749.0" r="4.9"/><circle cx="749.9" r="4.9"/><circle cx="751.7" r="4.9"/><circle cx="754.4" r="4.9"/><circle cx="754.4" r="4.9"/><circle cx="765.2" r="4.9"/><circle cx="775.1" r="4.9"/><circle cx="775.1" r="4.9"/><circle cx="779.6" r="4.9"/><circle cx="779.6" r="4.9"/><circle cx="785.0" r="4.9"/><circle cx="791.3" r="4.9"/><circle cx="794.9" r="4.9"/><circle cx="796.7" r="4.9"/><circle cx="801.2" r="4.9"/><circle cx="804.0" r="4.9"/><circle cx="818.4" r="4.9"/><circle cx="823.8" r="4.9"/><circle cx="832.8" r="4.9"/><circle cx="861.6" r="4.9"/><circle cx="866.1" r="4.9"/><circle cx="867.0" r="4.9"/><circle cx="872.5" r="4.9"/><circle cx="895.0" r="4.9"/><circle cx="898.6" r="4.9"/><circle cx="912.1" r="4.9"/><circle cx="918.4" r="4.9"/><circle cx="918.4" r="4.9"/><circle cx="922.9" r="4.9"/><circle cx="932.9" r="4.9"/><circle cx="933.8" r="4.9"/><circle cx="934.7" r="4.9"/><circle cx="955.4" r="4.9"/><circle cx="965.3" r="4.9"/><circle cx="979.7" r="4.9"/><circle cx="992.3" r="4.9"/><circle cx="995.0" r="4.9"/><circle cx="995.0" r="4.9"/><circle cx="995.9" r="4.9"/><circle cx="1000.5" r="4.9"/><circle cx="1005.9" r="4.9"/></g>
<g transform="translate(0,303.5)"><circle cx="378.5" r="4.9"/><circle cx="398.3" r="4.9"/><circle cx="416.3" r="4.9"/><circle cx="438.9" r="4.9"/><circle cx="449.7" r="4.9"/><circle cx="452.4" r="4.9"/><circle cx="492.1" r="4.9"/><circle cx="501.1" r="4.9"/><circle cx="509.2" r="4.9"/><circle cx="511.0" r="4.9"/><circle cx="548.0" r="4.9"/><circle cx="584.0" r="4.9"/><circle cx="589.4" r="4.9"/><circle cx="612.9" r="4.9"/><circle cx="620.1" r="4.9"/><circle cx="627.3" r="4.9"/><circle cx="630.0" r="4.9"/><circle cx="640.8" r="4.9"/><circle cx="644.4" r="4.9"/><circle cx="651.6" r="4.9"/><circle cx="662.4" r="4.9"/><circle cx="667.8" r="4.9"/><circle cx="674.1" r="4.9"/><circle cx="680.5" r="4.9"/><circle cx="711.1" r="4.9"/><circle cx="720.1" r="4.9"/><circle cx="779.6" r="4.9"/><circle cx="829.2" r="4.9"/><circle cx="831.0" r="4.9"/><circle cx="833.7" r="4.9"/><circle cx="861.6" r="4.9"/><circle cx="878.8" r="4.9"/><circle cx="879.7" r="4.9"/><circle cx="891.4" r="4.9"/><circle cx="897.7" r="4.9"/><circle cx="901.3" r="4.9"/><circle cx="909.4" r="4.9"/><circle cx="928.3" r="4.9"/><circle cx="973.4" r="4.9"/><circle cx="526.3" r="4.9"/><circle cx="548.9" r="4.9"/><circle cx="844.5" r="4.9"/><circle cx="511.9" r="4.9"/><circle cx="521.8" r="4.9"/><circle cx="545.2" r="4.9"/><circle cx="549.8" r="4.9"/><circle cx="553.4" r="4.9"/><circle cx="567.8" r="4.9"/><circle cx="578.6" r="4.9"/><circle cx="778.7" r="4.9"/><circle cx="831.9" r="4.9"/><circle cx="898.6" r="4.9"/><circle cx="981.5" r="4.9"/><circle cx="1001.4" r="4.9"/><circle cx="344.2" r="4.9"/><circle cx="346.9" r="4.9"/><circle cx="411.8" r="4.9"/><circle cx="438.0" r="4.9"/><circle cx="446.1" r="4.9"/><circle cx="449.7" r="4.9"/><circle cx="458.7" r="4.9"/><circle cx="498.4" r="4.9"/><circle cx="602.0" r="4.9"/><circle cx="606.5" r="4.9"/><circle cx="608.3" r="4.9"/><circle cx="648.9" r="4.9"/><circle cx="651.6" r="4.9"/><circle cx="657.9" r="4.9"/><circle cx="659.7" r="4.9"/><circle cx="662.4" r="4.9"/><circle cx="703.0" r="4.9"/><circle cx="726.4" r="4.9"/><circle cx="794.0" r="4.9"/><circle cx="794.9" r="4.9"/><circle cx="868.9" r="4.9"/><circle cx="893.2" r="4.9"/><circle cx="932.9" r="4.9"/><circle cx="278.4" r="4.9"/><circle cx="300.1" r="4.9"/><circle cx="333.4" r="4.9"/><circle cx="337.9" r="4.9"/><circle cx="352.3" r="4.9"/><circle cx="356.9" r="4.9"/><circle cx="358.7" r="4.9"/><circle cx="370.4" r="4.9"/><circle cx="372.2" r="4.9"/><circle cx="376.7" r="4.9"/><circle cx="378.5" r="4.9"/><circle cx="378.5" r="4.9"/><circle cx="395.6" r="4.9"/><circle cx="411.8" r="4.9"/><circle cx="435.3" r="4.9"/><circle cx="444.3" r="4.9"/><circle cx="460.5" r="4.9"/><circle cx="465.9" r="4.9"/><circle cx="474.0" r="4.9"/><circle cx="478.5" r="4.9"/><circle cx="482.2" r="4.9"/><circle cx="485.8" r="4.9"/><circle cx="492.1" r="4.9"/><circle cx="493.9" r="4.9"/><circle cx="499.3" r="4.9"/><circle cx="500.2" r="4.9"/><circle cx="505.6" r="4.9"/><circle cx="509.2" r="4.9"/><circle cx="511.0" r="4.9"/><circle cx="512.8" r="4.9"/><circle cx="521.8" r="4.9"/><circle cx="522.7" r="4.9"/><circle cx="526.3" r="4.9"/><circle cx="548.9" r="4.9"/><circle cx="549.8" r="4.9"/><circle cx="551.6" r="4.9"/><circle cx="552.5" r="4.9"/><circle cx="554.3" r="4.9"/><circle cx="568.7" r="4.9"/><circle cx="587.6" r="4.9"/><circle cx="593.9" r="4.9"/><circle cx="622.8" r="4.9"/><circle cx="623.7" r="4.9"/><circle cx="623.7" r="4.9"/><circle cx="625.5" r="4.9"/><circle cx="627.3" r="4.9"/><circle cx="635.4" r="4.9"/><circle cx="638.1" r="4.9"/><circle cx="654.3" r="4.9"/><circle cx="663.3" r="4.9"/><circle cx="666.9" r="4.9"/><circle cx="671.4" r="4.9"/><circle cx="672.3" r="4.9"/><circle cx="675.1" r="4.9"/><circle cx="683.2" r="4.9"/><circle cx="685.9" r="4.9"/><circle cx="725.5" r="4.9"/><circle cx="746.3" r="4.9"/><circle cx="760.7" r="4.9"/><circle cx="766.1" r="4.9"/><circle cx="775.1" r="4.9"/><circle cx="776.0" r="4.9"/><circle cx="778.7" r="4.9"/><circle cx="784.1" r="4.9"/><circle cx="786.8" r="4.9"/><circle cx="787.7" r="4.9"/><circle cx="792.2" r="4.9"/><circle cx="796.7" r="4.9"/><circle cx="799.4" r="4.9"/><circle cx="813.9" r="4.9"/><circle cx="815.7" r="4.9"/><circle cx="826.5" r="4.9"/><circle cx="836.4" r="4.9"/><circle cx="841.8" r="4.9"/><circle cx="848.1" r="4.9"/><circle cx="856.2" r="4.9"/><circle cx="862.5" r="4.9"/><circle cx="867.0" r="4.9"/><circle cx="868.0" r="4.9"/><circle cx="895.9" r="4.9"/><circle cx="902.2" r="4.9"/><circle cx="914.8" r="4.9"/><circle cx="914.8" r="4.9"/><circle cx="917.5" r="4.9"/><circle cx="918.4" r="4.9"/><circle cx="925.6" r="4.9"/><circle cx="932.9" r="4.9"/><circle cx="946.4" r="4.9"/><circle cx="948.2" r="4.9"/><circle cx="952.7" r="4.9"/><circle cx="964.4" r="4.9"/><circle cx="970.7" r="4.9"/><circle cx="980.6" r="4.9"/><circle cx="986.9" r="4.9"/><circle cx="1001.4" r="4.9"/><circle cx="1002.3" r="4.9"/><circle cx="1003.2" r="4.9"/></g>
<g transform="translate(0,295.6)"><circle cx="393.8" r="4.9"/><circle cx="466.8" r="4.9"/><circle cx="502.9" r="4.9"/><circle cx="512.8" r="4.9"/><circle cx="560.6" r="4.9"/><circle cx="574.1" r="4.9"/><circle cx="580.4" r="4.9"/><circle cx="581.3" r="4.9"/><circle cx="625.5" r="4.9"/><circle cx="639.9" r="4.9"/><circle cx="669.6" r="4.9"/><circle cx="845.4" r="4.9"/><circle cx="865.2" r="4.9"/><circle cx="866.1" r="4.9"/><circle cx="872.5" r="4.9"/><circle cx="883.3" r="4.9"/><circle cx="888.7" r="4.9"/><circle cx="895.9" r="4.9"/><circle cx="922.9" r="4.9"/><circle cx="924.7" r="4.9"/><circle cx="937.4" r="4.9"/><circle cx="946.4" r="4.9"/><circle cx="950.0" r="4.9"/><circle cx="977.0" r="4.9"/><circle cx="997.8" r="4.9"/><circle cx="550.7" r="4.9"/><circle cx="906.7" r="4.9"/><circle cx="401.9" r="4.9"/><circle cx="402.8" r="4.9"/><circle cx="408.2" r="4.9"/><circle cx="409.1" r="4.9"/><circle cx="410.9" r="4.9"/><circle cx="459.6" r="4.9"/><circle cx="502.9" r="4.9"/><circle cx="518.2" r="4.9"/><circle cx="557.0" r="4.9"/><circle cx="636.3" r="4.9"/><circle cx="752.6" r="4.9"/><circle cx="784.1" r="4.9"/><circle cx="786.8" r="4.9"/><circle cx="816.6" r="4.9"/><circle cx="819.3" r="4.9"/><circle cx="821.1" r="4.9"/><circle cx="824.7" r="4.9"/><circle cx="833.7" r="4.9"/><circle cx="845.4" r="4.9"/><circle cx="848.1" r="4.9"/><circle cx="904.9" r="4.9"/><circle cx="961.7" r="4.9"/><circle cx="995.9" r="4.9"/><circle cx="310.9" r="4.9"/><circle cx="334.3" r="4.9"/><circle cx="357.8" r="4.9"/><circle cx="391.1" r="4.9"/><circle cx="395.6" r="4.9"/><circle cx="403.7" r="4.9"/><circle cx="406.4" r="4.9"/><circle cx="421.8" r="4.9"/><circle cx="439.8" r="4.9"/><circle cx="445.2" r="4.9"/><circle cx="446.1" r="4.9"/><circle cx="450.6" r="4.9"/><circle cx="463.2" r="4.9"/><circle cx="485.8" r="4.9"/><circle cx="495.7" r="4.9"/><circle cx="503.8" r="4.9"/><circle cx="523.6" r="4.9"/><circle cx="527.2" r="4.9"/><circle cx="538.0" r="4.9"/><circle cx="543.4" r="4.9"/><circle cx="544.3" r="4.9"/><circle cx="555.2" r="4.9"/><circle cx="556.1" r="4.9"/><circle cx="563.3" r="4.9"/><circle cx="571.4" r="4.9"/><circle cx="575.0" r="4.9"/><circle cx="576.8" r="4.9"/><circle cx="579.5" r="4.9"/><circle cx="584.0" r="4.9"/><circle cx="587.6" r="4.9"/><circle cx="645.3" r="4.9"/><circle cx="648.9" r="4.9"/><circle cx="649.8" r="4.9"/><circle cx="657.9" r="4.9"/><circle cx="666.9" r="4.9"/><circle cx="667.8" r="4.9"/><circle cx="670.5" r="4.9"/><circle cx="701.2" r="4.9"/><circle cx="703.0" r="4.9"/><circle cx="728.2" r="4.9"/><circle cx="802.1" r="4.9"/><circle cx="806.7" r="4.9"/><circle cx="807.6" r="4.9"/><circle cx="817.5" r="4.9"/><circle cx="826.5" r="4.9"/><circle cx="862.5" r="4.9"/><circle cx="871.6" r="4.9"/><circle cx="871.6" r="4.9"/><circle cx="875.2" r="4.9"/><circle cx="876.1" r="4.9"/><circle cx="878.8" r="4.9"/><circle cx="881.5" r="4.9"/><circle cx="882.4" r="4.9"/><circle cx="889.6" r="4.9"/><circle cx="900.4" r="4.9"/><circle cx="901.3" r="4.9"/><circle cx="905.8" r="4.9"/><circle cx="906.7" r="4.9"/><circle cx="908.5" r="4.9"/><circle cx="911.2" r="4.9"/><circle cx="919.3" r="4.9"/><circle cx="926.5" r="4.9"/><circle cx="931.0" r="4.9"/><circle cx="953.6" r="4.9"/><circle cx="966.2" r="4.9"/><circle cx="974.3" r="4.9"/><circle cx="987.8" r="4.9"/><circle cx="989.6" r="4.9"/><circle cx="1005.9" r="4.9"/></g>
<g transform="translate(0,287.6)"><circle cx="513.7" r="4.9"/><circle cx="518.2" r="4.9"/><circle cx="530.8" r="4.9"/><circle cx="535.3" r="4.9"/><circle cx="549.8" r="4.9"/><circle cx="551.6" r="4.9"/><circle cx="554.3" r="4.9"/><circle cx="557.0" r="4.9"/><circle cx="840.0" r="4.9"/><circle cx="860.7" r="4.9"/><circle cx="954.5" r="4.9"/><circle cx="958.1" r="4.9"/><circle cx="970.7" r="4.9"/><circle cx="986.0" r="4.9"/><circle cx="989.6" r="4.9"/><circle cx="992.3" r="4.9"/><circle cx="337.0" r="4.9"/><circle cx="384.8" r="4.9"/><circle cx="425.4" r="4.9"/><circle cx="497.5" r="4.9"/><circle cx="506.5" r="4.9"/><circle cx="533.5" r="4.9"/><circle cx="574.1" r="4.9"/><circle cx="584.0" r="4.9"/><circle cx="587.6" r="4.9"/><circle cx="830.1" r="4.9"/><circle cx="843.6" r="4.9"/><circle cx="852.6" r="4.9"/><circle cx="865.2" r="4.9"/><circle cx="877.0" r="4.9"/><circle cx="950.0" r="4.9"/><circle cx="963.5" r="4.9"/><circle cx="967.1" r="4.9"/><circle cx="998.7" r="4.9"/><circle cx="317.2" r="4.9"/><circle cx="324.4" r="4.9"/><circle cx="372.2" r="4.9"/><circle cx="392.9" r="4.9"/><circle cx="399.2" r="4.9"/><circle cx="428.1" r="4.9"/><circle cx="445.2" r="4.9"/><circle cx="449.7" r="4.9"/><circle cx="462.3" r="4.9"/><circle cx="497.5" r="4.9"/><circle cx="504.7" r="4.9"/><circle cx="508.3" r="4.9"/><circle cx="510.1" r="4.9"/><circle cx="523.6" r="4.9"/><circle cx="529.9" r="4.9"/><circle cx="531.7" r="4.9"/><circle cx="531.7" r="4.9"/><circle cx="532.6" r="4.9"/><circle cx="538.9" r="4.9"/><circle cx="548.9" r="4.9"/><circle cx="556.1" r="4.9"/><circle cx="558.8" r="4.9"/><circle cx="559.7" r="4.9"/><circle cx="564.2" r="4.9"/><circle cx="566.9" r="4.9"/><circle cx="570.5" r="4.9"/><circle cx="576.8" r="4.9"/><circle cx="578.6" r="4.9"/><circle cx="580.4" r="4.9"/><circle cx="626.4" r="4.9"/><circle cx="650.7" r="4.9"/><circle cx="655.2" r="4.9"/><circle cx="728.2" r="4.9"/><circle cx="736.3" r="4.9"/><circle cx="739.0" r="4.9"/><circle cx="772.4" r="4.9"/><circle cx="785.0" r="4.9"/><circle cx="802.1" r="4.9"/><circle cx="809.4" r="4.9"/><circle cx="812.1" r="4.9"/><circle cx="820.2" r="4.9"/><circle cx="837.3" r="4.9"/><circle cx="838.2" r="4.9"/><circle cx="853.5" r="4.9"/><circle cx="861.6" r="4.9"/><circle cx="871.6" r="4.9"/><circle cx="889.6" r="4.9"/><circle cx="913.9" r="4.9"/><circle cx="915.7" r="4.9"/><circle cx="928.3" r="4.9"/><circle cx="932.9" r="4.9"/><circle cx="936.5" r="4.9"/><circle cx="950.0" r="4.9"/><circle cx="968.9" r="4.9"/><circle cx="990.5" r="4.9"/><circle cx="993.2" r="4.9"/><circle cx="1000.5" r="4.9"/><circle cx="1003.2" r="4.9"/></g>
<g transform="translate(0,279.7)"><circle cx="543.4" r="4.9"/><circle cx="562.4" r="4.9"/><circle cx="567.8" r="4.9"/><circle cx="852.6" r="4.9"/><circle cx="992.3" r="4.9"/><circle cx="442.5" r="4.9"/><circle cx="529.9" r="4.9"/><circle cx="542.5" r="4.9"/><circle cx="565.1" r="4.9"/><circle cx="836.4" r="4.9"/><circle cx="877.9" r="4.9"/><circle cx="890.5" r="4.9"/><circle cx="947.3" r="4.9"/><circle cx="970.7" r="4.9"/><circle cx="1009.5" r="4.9"/><circle cx="482.2" r="4.9"/><circle cx="498.4" r="4.9"/><circle cx="517.3" r="4.9"/><circle cx="523.6" r="4.9"/><circle cx="530.8" r="4.9"/><circle cx="540.7" r="4.9"/><circle cx="540.7" r="4.9"/><circle cx="551.6" r="4.9"/><circle cx="552.5" r="4.9"/><circle cx="557.0" r="4.9"/><circle cx="563.3" r="4.9"/><circle cx="566.0" r="4.9"/><circle cx="575.0" r="4.9"/><circle cx="582.2" r="4.9"/><circle cx="666.0" r="4.9"/><circle cx="695.8" r="4.9"/><circle cx="843.6" r="4.9"/><circle cx="849.0" r="4.9"/><circle cx="861.6" r="4.9"/><circle cx="864.3" r="4.9"/><circle cx="881.5" r="4.9"/><circle cx="896.8" r="4.9"/><circle cx="908.5" r="4.9"/><circle cx="912.1" r="4.9"/><circle cx="940.1" r="4.9"/><circle cx="960.8" r="4.9"/><circle cx="982.4" r="4.9"/><circle cx="983.3" r="4.9"/><circle cx="986.9" r="4.9"/><circle cx="994.1" r="4.9"/><circle cx="1002.3" r="4.9"/><circle cx="1005.0" r="4.9"/><circle cx="1009.5" r="4.9"/></g>
<g transform="translate(0,271.8)"><circle cx="999.6" r="4.9"/><circle cx="1005.0" r="4.9"/><circle cx="538.0" r="4.9"/><circle cx="543.4" r="4.9"/><circle cx="556.1" r="4.9"/><circle cx="559.7" r="4.9"/><circle cx="573.2" r="4.9"/><circle cx="914.8" r="4.9"/><circle cx="986.0" r="4.9"/><circle cx="993.2" r="4.9"/><circle cx="1002.3" r="4.9"/><circle cx="383.0" r="4.9"/><circle cx="446.1" r="4.9"/><circle cx="479.4" r="4.9"/><circle cx="511.0" r="4.9"/><circle cx="512.8" r="4.9"/><circle cx="519.1" r="4.9"/><circle cx="522.7" r="4.9"/><circle cx="540.7" r="4.9"/><circle cx="557.9" r="4.9"/><circle cx="832.8" r="4.9"/><circle cx="922.9" r="4.9"/><circle cx="931.0" r="4.9"/><circle cx="939.2" r="4.9"/><circle cx="949.1" r="4.9"/><circle cx="995.9" r="4.9"/><circle cx="995.9" r="4.9"/><circle cx="1003.2" r="4.9"/><circle cx="722.0" r="4.9"/><circle cx="492.0" r="4.9"/></g>
<g transform="translate(0,263.9)"><circle cx="1005.9" r="4.9"/><circle cx="564.2" r="4.9"/><circle cx="879.7" r="4.9"/><circle cx="513.7" r="4.9"/><circle cx="538.0" r="4.9"/><circle cx="897.7" r="4.9"/><circle cx="921.1" r="4.9"/><circle cx="1002.3" r="4.9"/><circle cx="777.0" r="4.9"/></g>
<g transform="translate(0,256.0)"><circle cx="512.8" r="4.9"/><circle cx="536.2" r="4.9"/><circle cx="538.0" r="4.9"/><circle cx="548.0" r="4.9"/><circle cx="995.0" r="4.9"/><circle cx="538.4" r="4.9"/><circle cx="549.0" r="4.9"/><circle cx="1003.0" r="4.9"/><circle cx="846.0" r="4.9"/></g>
<g transform="translate(0,248.0)"><circle cx="961.0" r="4.9"/><circle cx="1001.0" r="4.9"/></g>
<g transform="translate(0,240.1)"><circle cx="545.9" r="4.9"/><circle cx="950.0" r="4.9"/></g>
</g>
<path d="M62.7,323.3 63.6,322.6 64.5,322.0 65.4,319.6 66.3,321.5 67.2,321.1 68.1,321.1 69.0,322.0 69.9,322.2 70.8,320.7 71.7,318.5 72.6,316.5 73.5,318.8 74.4,320.2 75.3,320.0 76.2,316.6 77.1,314.7 78.0,314.9 78.9,313.6 79.8,313.2 80.7,315.0 81.6,312.6 82.5,312.4 83.4,312.1 84.3,310.9 85.2,311.3 86.1,312.8 87.0,312.5 87.9,313.0 88.8,312.4 89.7,312.6 90.6,313.2 91.5,314.7 92.4,315.8 93.3,317.5 94.2,319.3 95.2,321.3 96.1,324.0 97.0,322.1 97.9,325.3 98.8,324.7 99.7,324.3 100.6,325.7 101.5,326.3 102.4,327.5 103.3,325.3 104.2,325.7 105.1,324.9 106.0,322.5 106.9,321.0 107.8,320.6 108.7,318.7 109.6,317.6 110.5,316.8 111.4,316.1 112.3,312.3 113.2,309.8 114.1,306.6 115.0,308.8 115.9,310.8 116.8,309.7 117.7,312.7 118.6,311.3 119.5,312.4 120.4,315.0 121.3,313.2 122.2,314.4 123.1,317.2 124.0,315.8 124.9,317.5 125.8,319.4 126.7,320.4 127.6,321.0 128.5,321.2 129.4,322.6 130.3,322.7 131.2,322.8 132.1,322.1 133.0,322.6 133.9,322.0 134.8,323.9 135.7,320.1 136.6,320.9 137.5,321.7 138.4,319.0 139.3,319.4 140.2,319.4 141.1,319.8 142.0,317.6 142.9,317.5 143.8,316.7 144.7,316.8 145.6,318.1 146.5,315.9 147.4,316.6 148.3,316.7 149.2,317.0 150.1,315.0 151.0,317.3 151.9,317.6 152.8,318.9 153.7,319.1 154.6,318.9 155.5,321.2 156.4,324.0 157.3,324.7 158.2,323.7 159.1,324.5 160.1,324.0 161.0,322.4 161.9,324.7 162.8,321.6 163.7,322.0 164.6,324.4 165.5,322.9 166.4,323.1 167.3,322.5 168.2,321.3 169.1,321.3 170.0,320.2 170.9,319.0 171.8,320.9 172.7,321.2 173.6,323.2 174.5,321.3 175.4,323.1 176.3,323.4 177.2,324.5 178.1,326.5 179.0,325.7 179.9,325.3 180.8,326.3 181.7,328.1 182.6,327.8 183.5,329.7 184.4,332.6 185.3,333.0 186.2,333.3 187.1,334.0 188.0,335.7 188.9,335.9 189.8,339.7 190.7,340.6 191.6,340.8 192.5,337.7 193.4,336.6 194.3,337.1 195.2,336.3 196.1,335.0 197.0,335.3 197.9,334.8 198.8,332.3 199.7,331.4 200.6,330.0 201.5,329.0 202.4,331.1 203.3,331.2 204.2,331.4 205.1,330.8 206.0,332.2 206.9,334.4 207.8,335.4 208.7,335.5 209.6,334.0 210.5,334.5 211.4,335.1 212.3,335.9 213.2,337.0 214.1,336.7 215.0,338.6 215.9,338.6 216.8,340.9 217.7,340.7 218.6,341.4 219.5,342.0 220.4,341.7 221.3,339.3 222.2,337.2 223.1,334.4 224.1,336.3 225.0,335.6 225.9,339.0 226.8,338.0 227.7,338.4 228.6,338.3 229.5,337.1 230.4,337.6 231.3,340.8 232.2,344.2 233.1,343.7 234.0,344.5 234.9,345.6 235.8,344.6 236.7,345.0 237.6,346.9 238.5,348.1 239.4,348.7 240.3,351.3 241.2,350.6 242.1,351.9 243.0,353.5 243.9,354.2 244.8,351.7 245.7,351.8 246.6,351.6 247.5,347.8 248.4,349.5 249.3,351.2 250.2,353.2 251.1,355.0 252.0,357.7 252.9,360.3 253.8,363.3 254.7,365.0 255.6,365.1 256.5,368.1 257.4,369.1 258.3,371.0 259.2,371.3 260.1,370.5 261.0,373.1 261.9,371.8 262.8,374.7 263.7,377.2 264.6,378.9 265.5,380.4 266.4,376.3 267.3,378.2 268.2,378.0 269.1,378.0 270.0,379.9 270.9,379.4 271.8,381.9 272.7,381.6 273.6,380.1 274.5,380.2 275.4,381.6 276.3,383.3 277.2,387.1 278.1,388.5 279.0,390.2 279.9,390.4 280.8,389.7 281.7,389.8 282.6,389.1 283.5,389.3 284.4,389.3 285.3,390.3 286.2,389.3 287.1,390.3 288.1,390.6 289.0,390.1 289.9,390.7 290.8,393.2 291.7,394.4 292.6,393.3 293.5,394.9 294.4,395.6 295.3,394.6 296.2,395.2 297.1,393.4 298.0,393.2 298.9,393.9 299.8,392.1 300.7,392.6 301.6,393.0 302.5,394.1 303.4,393.5 304.3,394.7 305.2,395.7 306.1,396.3 307.0,396.3 307.9,395.7 308.8,395.6 309.7,398.7 310.6,398.7 311.5,398.1 312.4,399.1 313.3,399.9 314.2,399.7 315.1,402.3 316.0,402.3 316.9,403.6 317.8,403.9 318.7,402.2 319.6,401.9 320.5,401.0 321.4,400.2 322.3,399.7 323.2,400.9 324.1,398.6 325.0,400.9 325.9,399.5 326.8,401.9 327.7,402.3 328.6,402.5 329.5,402.1 330.4,407.3 331.3,406.2 332.2,407.7 333.1,408.5 334.0,408.1 334.9,408.0 335.8,407.2 336.7,405.9 337.6,407.9 338.5,406.2 339.4,407.0 340.3,407.2 341.2,407.5 342.1,406.0 343.0,405.6 343.9,405.4 344.8,403.7 345.7,403.8 346.6,402.5 347.5,401.4 348.4,401.6 349.3,400.1 350.2,401.1 351.1,400.4 352.0,396.8 353.0,398.1 353.9,396.5 354.8,397.4 355.7,396.9 356.6,397.8 357.5,397.3 358.4,397.9 359.3,397.2 360.2,395.6 361.1,397.3 362.0,398.0 362.9,398.8 363.8,398.8 364.7,401.6 365.6,400.2 366.5,401.7 367.4,400.4 368.3,402.4 369.2,400.1 370.1,402.2 371.0,401.3 371.9,403.8 372.8,405.8 373.7,404.0 374.6,405.7 375.5,407.6 376.4,407.6 377.3,407.0 378.2,409.6 379.1,409.1 380.0,410.6 380.9,410.1 381.8,409.1 382.7,410.0 383.6,411.9 384.5,409.6 385.4,410.7 386.3,412.2 387.2,413.8 388.1,414.9 389.0,414.0 389.9,418.5 390.8,416.4 391.7,416.5 392.6,416.3 393.5,416.0 394.4,415.2 395.3,415.1 396.2,415.6 397.1,412.3 398.0,410.4 398.9,412.2 399.8,412.3 400.7,413.9 401.6,416.1 402.5,415.1 403.4,417.3 404.3,419.0 405.2,421.0 406.1,420.1 407.0,417.6 407.9,416.2 408.8,416.4 409.7,415.1 410.6,417.4 411.5,415.8 412.4,415.7 413.3,415.2 414.2,417.4 415.1,416.3 416.0,415.6 417.0,415.6 417.9,414.1 418.8,413.8 419.7,414.3 420.6,413.9 421.5,415.6 422.4,416.6 423.3,418.3 424.2,416.4 425.1,414.4 426.0,412.3 426.9,411.7 427.8,408.7 428.7,408.3 429.6,405.8 430.5,404.3 431.4,401.6 432.3,401.9 433.2,402.4 434.1,404.9 435.0,404.3 435.9,405.6 436.8,406.0 437.7,409.3 438.6,408.0 439.5,413.2 440.4,412.5 441.3,413.5 442.2,413.0 443.1,413.9 444.0,415.8 444.9,415.5 445.8,416.4 446.7,417.6 447.6,417.3 448.5,414.8 449.4,415.5 450.3,415.3 451.2,415.4 452.1,414.2 453.0,414.2 453.9,415.3 454.8,415.5 455.7,416.5 456.6,415.7 457.5,417.1 458.4,413.4 459.3,413.1 460.2,413.8 461.1,412.6 462.0,412.4 462.9,414.7 463.8,415.8 464.7,416.7 465.6,414.9 466.5,413.1 467.4,411.2 468.3,408.9 469.2,408.8 470.1,409.8 471.0,412.9 471.9,411.6 472.8,414.7 473.7,416.0 474.6,414.9 475.5,416.4 476.4,414.4 477.3,415.9 478.2,415.0 479.1,416.9 480.0,417.3 480.9,415.8 481.9,416.5 482.8,417.0 483.7,419.9 484.6,417.9 485.5,418.3 486.4,418.8 487.3,419.0 488.2,418.5 489.1,417.5 490.0,418.1 490.9,420.2 491.8,418.9 492.7,418.4 493.6,418.0 494.5,419.6 495.4,420.2 496.3,420.1 497.2,422.0 498.1,421.1 499.0,421.9 499.9,423.2 500.8,423.0 501.7,424.2 502.6,423.2 503.5,423.3 504.4,424.4 505.3,424.4 506.2,425.5 507.1,425.0 508.0,424.8 508.9,425.3 509.8,425.6 510.7,424.1 511.6,425.1 512.5,425.6 513.4,428.1 514.3,427.7 515.2,430.1 516.1,428.6 517.0,430.1 517.9,431.6 518.8,430.8 519.7,432.7 520.6,430.8 521.5,433.5 522.4,434.6 523.3,435.2 524.2,433.5 525.1,435.0 526.0,431.8 526.9,434.3 527.8,433.5 528.7,433.9 529.6,432.6 530.5,431.9 531.4,433.0 532.3,433.7 533.2,435.3 534.1,435.1 535.0,436.4 535.9,437.6 536.8,439.5 537.7,437.5 538.6,440.2 539.5,442.8 540.4,444.4 541.3,444.9 542.2,445.6 543.1,445.5 544.0,445.4 544.9,444.4 545.9,444.2 546.8,443.9 547.7,444.7 548.6,446.4 549.5,444.4 550.4,445.8 551.3,446.0 552.2,443.9 553.1,445.3 554.0,442.5 554.9,443.6 555.8,441.6 556.7,440.2 557.6,441.1 558.5,442.6 559.4,440.5 560.3,441.6 561.2,440.5 562.1,440.9 563.0,442.4 563.9,442.2 564.8,443.2 565.7,443.3 566.6,440.4 567.5,440.1 568.4,440.0 569.3,441.0 570.2,437.5 571.1,436.3 572.0,436.2 572.9,437.0 573.8,433.8 574.7,433.3 575.6,432.1 576.5,430.7 577.4,430.0 578.3,425.5 579.2,424.0 580.1,424.6 581.0,423.8 581.9,419.6 582.8,419.3 583.7,418.9 584.6,416.0 585.5,415.2 586.4,413.4 587.3,413.0 588.2,411.9 589.1,410.9 590.0,411.3 590.9,409.8 591.8,410.5 592.7,411.6 593.6,410.2 594.5,410.6 595.4,410.6 596.3,410.8 597.2,413.9 598.1,412.8 599.0,414.5 599.9,413.9 600.8,413.8 601.7,413.9 602.6,414.9 603.5,414.1 604.4,413.9 605.3,411.2 606.2,411.0 607.1,410.4 608.0,408.8 608.9,407.9 609.8,407.7 610.8,407.1 611.7,406.1 612.6,405.9 613.5,405.0 614.4,406.3 615.3,406.3 616.2,405.6 617.1,407.4 618.0,408.7 618.9,408.7 619.8,407.9 620.7,409.6 621.6,409.7 622.5,410.0 623.4,411.4 624.3,410.2 625.2,411.6 626.1,411.3 627.0,412.9 627.9,413.4 628.8,413.0 629.7,413.5 630.6,412.3 631.5,413.9 632.4,412.6 633.3,416.0 634.2,415.4 635.1,413.4 636.0,413.0 636.9,417.1 637.8,415.7 638.7,417.0 639.6,414.8 640.5,415.5 641.4,414.3 642.3,414.3 643.2,412.1 644.1,412.4 645.0,410.2 645.9,412.3 646.8,411.4 647.7,412.1 648.6,410.5 649.5,410.4 650.4,412.8 651.3,410.6 652.2,411.3 653.1,411.2 654.0,410.5 654.9,411.4 655.8,409.9 656.7,410.0 657.6,411.8 658.5,410.1 659.4,411.4 660.3,411.5 661.2,412.6 662.1,412.0 663.0,410.3 663.9,411.7 664.8,412.3 665.7,413.7 666.6,412.7 667.5,411.8 668.4,412.5 669.3,411.9 670.2,413.1 671.1,413.2 672.0,414.5 672.9,414.3 673.8,415.5 674.8,415.2 675.7,416.4 676.6,416.3 677.5,417.0 678.4,416.0 679.3,415.1 680.2,414.2 681.1,413.7 682.0,413.7 682.9,410.6 683.8,413.1 684.7,409.2 685.6,410.6 686.5,409.9 687.4,410.3 688.3,409.4 689.2,408.7 690.1,408.3 691.0,408.7 691.9,409.5 692.8,408.0 693.7,406.3 694.6,408.2 695.5,409.4 696.4,412.2 697.3,408.4 698.2,408.6 699.1,409.3 700.0,409.0 700.9,408.6 701.8,412.4 702.7,411.2 703.6,412.1 704.5,413.5 705.4,410.3 706.3,411.1 707.2,412.3 708.1,408.5 709.0,406.1 709.9,406.3 710.8,408.1 711.7,405.8 712.6,407.1 713.5,406.5 714.4,407.5 715.3,410.8 716.2,409.9 717.1,410.1 718.0,411.7 718.9,411.2 719.8,411.3 720.7,414.6 721.6,415.2 722.5,414.3 723.4,416.7 724.3,416.8 725.2,415.1 726.1,414.7 727.0,413.9 727.9,416.2 728.8,415.0 729.7,416.4 730.6,413.2 731.5,413.2 732.4,409.8 733.3,410.6 734.2,406.8 735.1,408.6 736.0,411.7 736.9,413.6 737.8,412.2 738.8,407.5 739.7,407.9 740.6,406.9 741.5,408.9 742.4,410.4 743.3,410.2 744.2,409.8 745.1,410.8 746.0,405.5 746.9,406.1 747.8,407.1 748.7,411.8 749.6,411.1 750.5,408.6 751.4,407.8 752.3,405.7 753.2,404.2 754.1,403.7 755.0,405.9 755.9,405.4 756.8,405.6 757.7,403.0 758.6,402.6 759.5,402.8 760.4,399.5 761.3,401.5 762.2,405.9 763.1,409.4 764.0,404.5 764.9,401.1 765.8,400.2 766.7,400.6 767.6,403.1 768.5,402.5 769.4,404.0 770.3,404.3 771.2,403.2 772.1,403.7 773.0,407.2 773.9,408.6 774.8,408.4 775.7,412.1 776.6,412.1 777.5,412.3 778.4,413.2 779.3,413.7 780.2,414.9 781.1,415.8 782.0,415.7 782.9,414.1 783.8,416.9 784.7,416.8 785.6,417.1 786.5,419.8 787.4,417.3 788.3,420.2 789.2,418.6 790.1,417.9 791.0,418.3 791.9,421.9 792.8,420.7 793.7,418.5 794.6,419.8 795.5,420.4 796.4,417.2 797.3,417.7 798.2,419.6 799.1,419.5 800.0,419.1 800.9,421.9 801.8,421.2 802.7,421.3 803.7,422.7 804.6,420.2 805.5,422.2 806.4,419.2 807.3,418.4 808.2,418.6 809.1,419.3 810.0,418.9 810.9,418.5 811.8,416.2 812.7,416.3 813.6,417.0 814.5,417.8 815.4,418.2 816.3,413.0 817.2,414.6 818.1,413.4 819.0,412.7 819.9,411.5 820.8,408.7 821.7,409.0 822.6,413.2 823.5,414.3 824.4,413.7 825.3,414.7 826.2,414.8 827.1,415.0 828.0,418.8 828.9,418.7 829.8,419.7 830.7,420.9 831.6,423.9 832.5,423.0 833.4,423.2 834.3,423.5 835.2,424.7 836.1,424.9 837.0,423.0 837.9,425.1 838.8,425.6 839.7,427.1 840.6,426.5 841.5,424.1 842.4,427.3 843.3,426.0 844.2,423.6 845.1,427.3 846.0,426.7 846.9,427.5 847.8,427.5 848.7,427.8 849.6,426.6 850.5,424.8 851.4,425.5 852.3,426.0 853.2,425.2 854.1,425.2 855.0,423.6 855.9,420.4 856.8,423.0 857.7,421.6 858.6,422.9 859.5,426.0 860.4,426.8 861.3,430.6 862.2,430.0 863.1,432.1 864.0,428.5 864.9,427.1 865.8,426.3 866.7,424.9 867.7,426.6 868.6,427.1 869.5,427.8 870.4,426.1 871.3,429.4 872.2,431.6 873.1,430.4 874.0,431.5 874.9,432.4 875.8,430.3 876.7,430.1 877.6,430.8 878.5,427.0 879.4,422.5 880.3,420.5 881.2,425.2 882.1,423.3 883.0,421.2 883.9,423.4 884.8,423.8 885.7,422.7 886.6,420.0 887.5,423.6 888.4,421.8 889.3,421.0 890.2,422.4 891.1,421.8 892.0,422.0 892.9,423.8 893.8,421.0 894.7,425.4 895.6,426.0 896.5,427.7 897.4,429.1 898.3,431.2 899.2,432.3 900.1,431.1 901.0,429.1 901.9,429.7 902.8,427.8 903.7,426.7 904.6,428.1 905.5,427.8 906.4,428.5 907.3,424.5 908.2,427.3 909.1,427.2 910.0,426.0 910.9,426.4 911.8,422.7 912.7,423.0 913.6,421.1 914.5,420.2 915.4,417.9 916.3,418.5 917.2,420.8 918.1,421.6 919.0,423.3 919.9,423.0 920.8,426.4 921.7,424.6 922.6,426.1 923.5,427.5 924.4,427.1 925.3,428.6 926.2,428.3 927.1,430.4 928.0,429.5 928.9,429.8 929.8,428.6 930.7,430.1 931.6,430.9 932.6,430.4 933.5,429.0 934.4,428.9 935.3,428.6 936.2,428.3 937.1,426.1 938.0,429.2 938.9,426.6 939.8,426.4 940.7,425.2 941.6,425.5 942.5,429.6 943.4,425.6 944.3,427.2 945.2,425.9 946.1,425.2 947.0,427.2 947.9,422.6 948.8,424.4 949.7,423.7 950.6,427.7 951.5,431.1 952.4,432.3 953.3,433.3 954.2,434.0 955.1,432.2 956.0,429.9 956.9,429.4 957.8,428.8 958.7,435.0 959.6,428.2 960.5,430.2 961.4,426.9 962.3,424.2 963.2,427.5 964.1,426.5 965.0,431.3 965.9,425.2 966.8,425.6 967.7,426.5 968.6,423.1 969.5,428.8 970.4,427.5 971.3,423.6 972.2,431.1 973.1,433.3 974.0,428.9 974.9,428.3 975.8,428.6 976.7,427.6 977.6,434.9 978.5,439.3 979.4,437.3 980.3,440.6 981.2,443.1 982.1,436.6 983.0,438.2 983.9,441.4 984.8,445.1 985.7,442.3 986.6,436.9 987.5,433.4 988.4,433.4 989.3,439.4 990.2,436.5 991.1,434.7 992.0,434.8 992.9,430.3 993.8,429.9 994.7,436.2 995.6,436.6 996.6,437.0 997.5,437.7 998.4,438.9 999.3,435.6 1000.2,435.6 1001.1,437.3 1002.0,440.6 1002.9,438.8 1003.8,444.2 1004.7,446.5 1005.6,446.8 1006.5,447.5 1007.4,447.7 1008.3,444.4 1009.2,444.5" fill="none" stroke="#22a94f" stroke-width="3.6" stroke-linejoin="round" stroke-linecap="round"/>
<path d="M64.3,510.9 65.2,504.0 66.1,498.4 67.0,490.1 67.9,486.6 68.8,480.1 69.7,477.8 70.6,474.2 71.5,469.5 72.4,469.0 73.3,464.7 74.2,464.5 75.1,463.9 76.0,461.1 76.9,462.7 77.8,460.7 78.7,461.0 79.6,458.9 80.5,459.0 81.4,461.1 82.3,460.6 83.2,460.1 84.1,459.3 85.0,458.0 85.9,455.2 86.8,453.6 87.7,453.6 88.6,453.1 89.5,452.2 90.4,453.3 91.3,453.1 92.2,453.2 93.1,453.2 94.0,452.1 94.9,448.0 95.8,444.1 96.8,441.9 97.7,441.6 98.6,441.7 99.5,440.4 100.4,439.9 101.3,439.6 102.2,440.1 103.1,438.5 104.0,437.2 104.9,436.3 105.8,436.1 106.7,438.7 107.6,434.7 108.5,439.0 109.4,439.6 110.3,440.8 111.2,439.7 112.1,443.4 113.0,444.9 113.9,446.4 114.8,448.8 115.7,447.6 116.6,447.9 117.5,447.4 118.4,447.6 119.3,445.9 120.2,444.3 121.1,443.8 122.0,442.5 122.9,441.2 123.8,438.5 124.7,439.8 125.6,436.7 126.5,436.6 127.4,437.7 128.3,438.6 129.2,439.7 130.1,437.2 131.0,440.2 131.9,440.5 132.8,438.7 133.7,439.1 134.6,438.7 135.5,438.5 136.4,437.7 137.3,437.3 138.2,438.7 139.1,439.6 140.0,441.6 140.9,439.6 141.8,437.9 142.7,438.3 143.6,436.2 144.5,435.3 145.4,433.0 146.3,430.6 147.2,429.5 148.1,431.7 149.0,432.4 149.9,432.3 150.8,434.9 151.7,433.7 152.6,435.5 153.5,437.0 154.4,435.9 155.3,435.8 156.2,436.6 157.1,436.2 158.0,435.8 158.9,435.1 159.8,434.2 160.7,434.1 161.7,437.2 162.6,433.5 163.5,435.0 164.4,432.6 165.3,434.0 166.2,433.4 167.1,433.1 168.0,433.9 168.9,434.5 169.8,434.9 170.7,431.3 171.6,430.2 172.5,433.1 173.4,433.3 174.3,432.4 175.2,432.4 176.1,431.8 177.0,432.4 177.9,431.4 178.8,430.1 179.7,430.2 180.6,430.2 181.5,427.7 182.4,427.3 183.3,427.4 184.2,427.6 185.1,425.1 186.0,423.8 186.9,424.3 187.8,420.4 188.7,419.5 189.6,419.7 190.5,418.7 191.4,417.3 192.3,416.3 193.2,421.2 194.1,421.2 195.0,420.5 195.9,420.9 196.8,421.4 197.7,420.1 198.6,419.0 199.5,418.0 200.4,419.5 201.3,418.5 202.2,418.5 203.1,417.7 204.0,418.7 204.9,418.8 205.8,418.2 206.7,416.4 207.6,417.9 208.5,417.0 209.4,414.3 210.3,416.8 211.2,414.2 212.1,414.8 213.0,416.5 213.9,415.9 214.8,414.4 215.7,413.8 216.6,414.5 217.5,412.2 218.4,413.8 219.3,413.3 220.2,414.5 221.1,414.0 222.0,413.5 222.9,414.8 223.8,414.0 224.7,412.8 225.7,412.8 226.6,412.6 227.5,413.2 228.4,412.9 229.3,411.3 230.2,409.4 231.1,409.2 232.0,409.3 232.9,409.0 233.8,406.4 234.7,406.8 235.6,405.6 236.5,403.9 237.4,404.5 238.3,405.0 239.2,405.0 240.1,405.0 241.0,405.3 241.9,406.6 242.8,405.9 243.7,405.9 244.6,408.4 245.5,408.1 246.4,409.8 247.3,405.6 248.2,404.9 249.1,399.9 250.0,397.4 250.9,396.6 251.8,395.0 252.7,390.4 253.6,390.5 254.5,388.5 255.4,386.2 256.3,384.1 257.2,381.1 258.1,380.5 259.0,380.0 259.9,379.5 260.8,377.2 261.7,375.2 262.6,374.3 263.5,371.5 264.4,372.1 265.3,369.7 266.2,371.0 267.1,369.8 268.0,368.8 268.9,368.8 269.8,368.3 270.7,370.5 271.6,370.0 272.5,370.9 273.4,370.8 274.3,368.9 275.2,367.8 276.1,368.3 277.0,364.9 277.9,363.6 278.8,360.8 279.7,359.7 280.6,361.1 281.5,360.0 282.4,358.5 283.3,362.0 284.2,362.1 285.1,361.2 286.0,363.8 286.9,362.9 287.8,362.7 288.7,361.2 289.6,362.1 290.6,359.6 291.5,358.5 292.4,357.8 293.3,356.9 294.2,355.5 295.1,355.8 296.0,355.1 296.9,356.0 297.8,353.8 298.7,355.1 299.6,353.6 300.5,353.1 301.4,353.5 302.3,353.5 303.2,353.5 304.1,354.7 305.0,355.1 305.9,354.3 306.8,355.8 307.7,358.8 308.6,358.1 309.5,357.0 310.4,358.6 311.3,358.9 312.2,357.3 313.1,355.3 314.0,354.7 314.9,354.3 315.8,352.9 316.7,351.8 317.6,353.4 318.5,351.4 319.4,352.6 320.3,350.1 321.2,350.7 322.1,350.0 323.0,350.9 323.9,349.5 324.8,349.0 325.7,348.2 326.6,348.6 327.5,348.5 328.4,346.4 329.3,346.7 330.2,345.4 331.1,344.1 332.0,344.4 332.9,344.8 333.8,340.7 334.7,343.2 335.6,343.6 336.5,342.0 337.4,343.0 338.3,343.3 339.2,343.1 340.1,342.6 341.0,343.0 341.9,342.2 342.8,340.8 343.7,340.6 344.6,340.0 345.5,341.4 346.4,342.4 347.3,343.0 348.2,343.3 349.1,346.0 350.0,346.1 350.9,347.3 351.8,345.6 352.7,346.5 353.6,346.4 354.6,347.0 355.5,348.8 356.4,349.9 357.3,348.2 358.2,348.7 359.1,348.6 360.0,348.7 360.9,349.9 361.8,348.5 362.7,347.7 363.6,349.0 364.5,348.0 365.4,348.3 366.3,348.2 367.2,348.7 368.1,348.3 369.0,348.4 369.9,347.4 370.8,347.0 371.7,347.0 372.6,346.4 373.5,346.1 374.4,345.5 375.3,346.7 376.2,344.0 377.1,344.0 378.0,343.1 378.9,343.5 379.8,341.1 380.7,340.0 381.6,341.4 382.5,339.7 383.4,337.9 384.3,335.8 385.2,336.3 386.1,334.3 387.0,332.8 387.9,332.3 388.8,331.5 389.7,332.8 390.6,329.5 391.5,326.4 392.4,326.2 393.3,329.3 394.2,330.4 395.1,330.3 396.0,330.3 396.9,331.3 397.8,332.5 398.7,332.3 399.6,332.0 400.5,332.4 401.4,331.7 402.3,331.1 403.2,329.3 404.1,327.4 405.0,326.4 405.9,328.2 406.8,328.9 407.7,329.0 408.6,331.0 409.5,328.9 410.4,330.9 411.3,328.9 412.2,329.7 413.1,331.0 414.0,331.7 414.9,330.7 415.8,332.2 416.7,331.7 417.6,332.8 418.6,333.6 419.5,333.0 420.4,335.1 421.3,334.4 422.2,333.6 423.1,331.4 424.0,330.8 424.9,330.5 425.8,332.2 426.7,333.2 427.6,333.4 428.5,334.2 429.4,335.7 430.3,340.7 431.2,341.9 432.1,344.0 433.0,342.1 433.9,343.6 434.8,341.6 435.7,339.0 436.6,336.1 437.5,333.1 438.4,333.2 439.3,330.9 440.2,329.0 441.1,326.2 442.0,324.2 442.9,323.6 443.8,325.4 444.7,327.3 445.6,326.1 446.5,327.5 447.4,327.0 448.3,328.1 449.2,329.8 450.1,329.4 451.0,330.7 451.9,332.3 452.8,331.5 453.7,330.5 454.6,331.9 455.5,329.8 456.4,330.4 457.3,333.8 458.2,335.9 459.1,337.2 460.0,335.7 460.9,336.6 461.8,332.9 462.7,331.3 463.6,333.1 464.5,333.5 465.4,336.3 466.3,334.5 467.2,333.7 468.1,334.5 469.0,334.3 469.9,334.5 470.8,334.5 471.7,334.6 472.6,335.8 473.5,333.7 474.4,336.3 475.3,335.6 476.2,336.6 477.1,336.5 478.0,339.0 478.9,336.6 479.8,336.8 480.7,336.3 481.6,336.1 482.5,333.0 483.5,334.3 484.4,334.5 485.3,332.5 486.2,330.7 487.1,333.4 488.0,332.2 488.9,331.8 489.8,332.4 490.7,331.7 491.6,329.9 492.5,329.7 493.4,327.8 494.3,328.1 495.2,326.8 496.1,326.4 497.0,324.4 497.9,324.3 498.8,324.3 499.7,324.5 500.6,324.1 501.5,322.2 502.4,324.5 503.3,322.9 504.2,324.7 505.1,323.6 506.0,323.4 506.9,322.6 507.8,324.5 508.7,322.0 509.6,322.9 510.5,322.1 511.4,322.4 512.3,319.7 513.2,318.6 514.1,319.0 515.0,320.3 515.9,319.6 516.8,321.6 517.7,320.1 518.6,318.2 519.5,319.2 520.4,317.9 521.3,318.0 522.2,316.6 523.1,314.5 524.0,315.2 524.9,315.4 525.8,314.2 526.7,313.8 527.6,312.3 528.5,312.5 529.4,312.9 530.3,312.7 531.2,310.2 532.1,309.3 533.0,310.3 533.9,306.4 534.8,305.9 535.7,304.2 536.6,304.0 537.5,303.7 538.4,302.8 539.3,302.2 540.2,302.8 541.1,301.5 542.0,302.0 542.9,300.9 543.8,303.5 544.7,302.7 545.6,305.2 546.5,302.9 547.5,303.9 548.4,303.7 549.3,303.5 550.2,303.0 551.1,304.4 552.0,303.1 552.9,302.5 553.8,304.4 554.7,307.3 555.6,306.3 556.5,309.3 557.4,307.9 558.3,307.2 559.2,310.0 560.1,307.9 561.0,304.9 561.9,307.7 562.8,306.1 563.7,306.9 564.6,307.2 565.5,307.2 566.4,306.1 567.3,304.7 568.2,307.2 569.1,306.8 570.0,307.7 570.9,307.1 571.8,308.8 572.7,310.6 573.6,311.3 574.5,312.7 575.4,312.7 576.3,313.6 577.2,317.3 578.1,318.7 579.0,321.7 579.9,323.0 580.8,322.7 581.7,323.6 582.6,326.3 583.5,327.4 584.4,327.2 585.3,331.1 586.2,330.9 587.1,331.7 588.0,331.9 588.9,333.9 589.8,335.7 590.7,334.4 591.6,334.3 592.5,332.8 593.4,330.1 594.3,330.3 595.2,329.9 596.1,330.5 597.0,331.4 597.9,332.1 598.8,331.9 599.7,331.8 600.6,331.4 601.5,332.7 602.4,332.4 603.3,334.2 604.2,333.0 605.1,336.6 606.0,337.8 606.9,338.0 607.8,339.5 608.7,339.8 609.6,340.9 610.5,341.3 611.4,342.7 612.4,343.0 613.3,345.2 614.2,344.4 615.1,343.2 616.0,342.5 616.9,343.4 617.8,341.7 618.7,339.7 619.6,339.5 620.5,338.8 621.4,337.9 622.3,337.0 623.2,334.3 624.1,334.2 625.0,332.2 625.9,332.5 626.8,330.1 627.7,329.9 628.6,334.5 629.5,335.1 630.4,334.8 631.3,335.8 632.2,334.2 633.1,335.4 634.0,335.0 634.9,333.6 635.8,334.4 636.7,335.4 637.6,334.6 638.5,332.5 639.4,333.8 640.3,334.3 641.2,334.1 642.1,335.2 643.0,333.9 643.9,332.6 644.8,335.6 645.7,332.8 646.6,333.2 647.5,331.5 648.4,333.1 649.3,330.9 650.2,331.4 651.1,330.9 652.0,333.0 652.9,334.1 653.8,333.8 654.7,334.8 655.6,334.3 656.5,334.3 657.4,333.3 658.3,334.6 659.2,332.3 660.1,334.6 661.0,333.5 661.9,332.9 662.8,333.5 663.7,330.3 664.6,330.7 665.5,331.6 666.4,330.2 667.3,330.6 668.2,329.3 669.1,328.0 670.0,329.3 670.9,329.5 671.8,330.3 672.7,330.7 673.6,332.5 674.5,330.0 675.4,330.4 676.4,332.4 677.3,330.4 678.2,331.4 679.1,332.9 680.0,333.0 680.9,334.0 681.8,334.7 682.7,334.3 683.6,338.1 684.5,339.6 685.4,340.7 686.3,340.8 687.2,341.1 688.1,341.2 689.0,339.8 689.9,339.8 690.8,339.5 691.7,341.2 692.6,340.0 693.5,340.7 694.4,341.5 695.3,337.6 696.2,337.8 697.1,338.8 698.0,337.6 698.9,338.8 699.8,336.5 700.7,336.4 701.6,338.6 702.5,336.2 703.4,337.4 704.3,337.0 705.2,338.8 706.1,336.1 707.0,337.5 707.9,338.5 708.8,339.1 709.7,338.0 710.6,338.9 711.5,336.9 712.4,339.4 713.3,337.3 714.2,337.2 715.1,338.0 716.0,336.0 716.9,335.5 717.8,335.9 718.7,336.3 719.6,333.3 720.5,332.9 721.4,335.5 722.3,334.6 723.2,334.8 724.1,337.3 725.0,335.1 725.9,335.4 726.8,337.1 727.7,335.1 728.6,336.4 729.5,336.2 730.4,336.8 731.3,337.0 732.2,336.0 733.1,337.3 734.0,337.7 734.9,337.2 735.8,338.8 736.7,337.3 737.6,336.4 738.5,335.6 739.4,336.6 740.3,335.7 741.3,337.3 742.2,337.8 743.1,335.7 744.0,334.5 744.9,333.8 745.8,334.1 746.7,332.5 747.6,336.0 748.5,336.7 749.4,335.5 750.3,340.3 751.2,339.7 752.1,338.8 753.0,339.6 753.9,340.3 754.8,342.5 755.7,340.9 756.6,342.2 757.5,343.0 758.4,344.0 759.3,346.7 760.2,347.6 761.1,345.4 762.0,347.6 762.9,340.7 763.8,345.2 764.7,342.8 765.6,343.6 766.5,345.6 767.4,346.3 768.3,345.7 769.2,341.6 770.1,344.4 771.0,341.0 771.9,344.6 772.8,347.1 773.7,341.2 774.6,336.5 775.5,336.4 776.4,334.7 777.3,332.7 778.2,334.5 779.1,333.8 780.0,332.7 780.9,332.0 781.8,332.3 782.7,331.3 783.6,330.6 784.5,328.8 785.4,327.2 786.3,331.5 787.2,332.8 788.1,333.5 789.0,334.6 789.9,331.7 790.8,330.3 791.7,335.4 792.6,335.8 793.5,335.4 794.4,333.4 795.3,336.1 796.2,333.2 797.1,335.3 798.0,332.9 798.9,333.3 799.8,328.7 800.7,331.8 801.6,329.4 802.5,327.0 803.4,328.9 804.3,333.8 805.3,331.4 806.2,330.3 807.1,333.7 808.0,331.6 808.9,332.6 809.8,335.4 810.7,336.2 811.6,336.4 812.5,335.1 813.4,332.0 814.3,329.9 815.2,332.8 816.1,334.0 817.0,336.2 817.9,336.2 818.8,336.2 819.7,336.0 820.6,333.5 821.5,333.1 822.4,333.0 823.3,333.3 824.2,330.9 825.1,328.6 826.0,331.5 826.9,328.0 827.8,326.0 828.7,322.9 829.6,322.2 830.5,319.9 831.4,323.9 832.3,322.4 833.2,324.7 834.1,322.8 835.0,326.1 835.9,322.7 836.8,321.9 837.7,321.0 838.6,318.2 839.5,322.0 840.4,318.6 841.3,320.7 842.2,321.5 843.1,321.5 844.0,320.8 844.9,320.2 845.8,321.9 846.7,321.3 847.6,319.8 848.5,321.5 849.4,324.4 850.3,325.8 851.2,323.1 852.1,326.7 853.0,326.5 853.9,328.2 854.8,327.6 855.7,327.7 856.6,329.3 857.5,328.3 858.4,327.2 859.3,324.7 860.2,324.0 861.1,324.3 862.0,322.4 862.9,321.8 863.8,323.3 864.7,321.9 865.6,324.2 866.5,322.7 867.4,323.7 868.3,325.8 869.3,323.9 870.2,325.0 871.1,325.4 872.0,324.9 872.9,322.4 873.8,324.6 874.7,323.0 875.6,323.1 876.5,323.6 877.4,323.6 878.3,322.8 879.2,323.4 880.1,323.0 881.0,321.6 881.9,321.8 882.8,322.6 883.7,322.7 884.6,323.6 885.5,321.6 886.4,324.4 887.3,325.2 888.2,325.3 889.1,324.3 890.0,322.8 890.9,326.2 891.8,322.7 892.7,322.8 893.6,323.2 894.5,321.3 895.4,321.3 896.3,322.7 897.2,323.7 898.1,321.9 899.0,322.8 899.9,323.0 900.8,323.0 901.7,322.0 902.6,324.4 903.5,323.2 904.4,322.6 905.3,322.5 906.2,324.8 907.1,323.9 908.0,323.0 908.9,324.9 909.8,324.9 910.7,325.2 911.6,324.9 912.5,327.3 913.4,328.7 914.3,328.1 915.2,332.9 916.1,329.6 917.0,327.3 917.9,325.4 918.8,327.1 919.7,324.9 920.6,324.5 921.5,323.2 922.4,324.2 923.3,323.3 924.2,321.2 925.1,321.4 926.0,320.0 926.9,321.4 927.8,320.4 928.7,320.9 929.6,320.0 930.5,321.0 931.4,319.0 932.3,321.1 933.2,321.5 934.2,321.6 935.1,322.5 936.0,324.9 936.9,324.9 937.8,325.9 938.7,325.1 939.6,325.3 940.5,324.4 941.4,324.6 942.3,324.8 943.2,324.2 944.1,323.6 945.0,325.2 945.9,323.9 946.8,316.5 947.7,312.8 948.6,314.2 949.5,309.7 950.4,306.9 951.3,311.2 952.2,309.2 953.1,315.4 954.0,315.1 954.9,314.6 955.8,318.0 956.7,317.7 957.6,321.5 958.5,318.4 959.4,320.9 960.3,319.0 961.2,320.6 962.1,320.3 963.0,319.6 963.9,319.9 964.8,316.8 965.7,322.8 966.6,323.3 967.5,320.4 968.4,320.4 969.3,321.1 970.2,316.0 971.1,318.1 972.0,319.1 972.9,319.1 973.8,318.9 974.7,315.9 975.6,318.8 976.5,317.0 977.4,314.4 978.3,310.7 979.2,308.5 980.1,308.5 981.0,308.0 981.9,304.0 982.8,304.8 983.7,306.2 984.6,305.9 985.5,304.0 986.4,302.7 987.3,306.4 988.2,304.6 989.1,305.3 990.0,308.9 990.9,308.0 991.8,305.3 992.7,306.9 993.6,307.8 994.5,309.2 995.4,310.9 996.3,310.3 997.2,306.2 998.2,311.4 999.1,310.8 1000.0,311.7 1000.9,312.1 1001.8,310.7 1002.7,309.3 1003.6,310.7 1004.5,309.8 1005.4,310.0 1006.3,308.6 1007.2,307.9 1008.1,306.8 1009.0,305.3" fill="none" stroke="#dc2ea8" stroke-width="3.6" stroke-linejoin="round" stroke-linecap="round"/>
<text class="m" x="21.8" y="595.4" font-size="19.5" fill="#707070" textLength="20" lengthAdjust="spacingAndGlyphs">20</text>
<text class="m" x="21.8" y="516.2" font-size="19.5" fill="#707070" textLength="20" lengthAdjust="spacingAndGlyphs">30</text>
<text class="m" x="21.8" y="437.0" font-size="19.5" fill="#707070" textLength="20" lengthAdjust="spacingAndGlyphs">40</text>
<text class="m" x="21.8" y="357.8" font-size="19.5" fill="#707070" textLength="20" lengthAdjust="spacingAndGlyphs">50</text>
<text class="m" x="21.8" y="278.6" font-size="19.5" fill="#707070" textLength="20" lengthAdjust="spacingAndGlyphs">60</text>
<text class="m" x="21.8" y="199.4" font-size="19.5" fill="#707070" textLength="20" lengthAdjust="spacingAndGlyphs">70</text>
<rect x="20" y="104.4" width="33" height="18" fill="#fff"/>
<text class="m" x="21.8" y="120.2" font-size="19.5" fill="#707070" textLength="29" lengthAdjust="spacingAndGlyphs">80%</text>
<text class="m" x="315.2" y="621.7" font-size="20.2" fill="#707070" textLength="116.4" lengthAdjust="spacingAndGlyphs">JAN. 1, 2022</text>
<text class="m" x="644.3" y="621.7" font-size="20.2" fill="#707070" textLength="116.4" lengthAdjust="spacingAndGlyphs">JAN. 1, 2023</text>
<line x1="1010.9" y1="128.4" x2="1010.9" y2="611" stroke="#858585" stroke-width="2" stroke-dasharray="2.5 2.5"/>
<text x="1011.2" y="123" text-anchor="middle" font-weight="bold" font-size="14" fill="#222" stroke="#fff" stroke-width="5" stroke-linejoin="round" paint-order="stroke" textLength="101" lengthAdjust="spacingAndGlyphs">DEC. 11, 2023</text>
<text x="1011.2" y="147.2" text-anchor="middle" font-size="20" fill="#222" stroke="#fff" stroke-width="5" stroke-linejoin="round" paint-order="stroke" textLength="109.5" lengthAdjust="spacingAndGlyphs">Disapprove</text>
<rect x="970.8" y="156.9" width="80.4" height="24.5" rx="6" ry="6" fill="#f7cdea" stroke="#d2469f" stroke-width="1.6"/>
<rect x="985.7" y="168.8" width="6.8" height="1.5" fill="#222"/><rect x="988.35" y="166.2" width="1.5" height="6.7" fill="#222"/>
<text class="m" x="995.2" y="177" font-size="24" fill="#222" textLength="43.6" lengthAdjust="spacingAndGlyphs">17.6</text>
<text x="1014.4" y="309.9" font-size="19" fill="#d4409f" textLength="173" lengthAdjust="spacingAndGlyphs">Disapprove 55.8%</text>
<text x="1015" y="449" font-size="19" fill="#35a35c" textLength="144" lengthAdjust="spacingAndGlyphs">Approve 38.2%</text>
<text x="402.3" y="682.8" font-size="13.8" fill="#555" textLength="32.5" lengthAdjust="spacingAndGlyphs">KEY</text>
<text x="452.5" y="683.8" font-size="14" fill="#222" textLength="71.5" lengthAdjust="spacingAndGlyphs">ESTIMATE</text>
<rect x="529.3" y="676.8" width="21" height="1.1" fill="#222"/>
<path d="M549.7,667.1 552.5,662.4 555.3,664.7 557.6,660.1 560.7,665.9 563.7,661.3 566.5,657.1 569.2,662.4 572.3,663.6 575.7,659.4 578.5,661.7 581.5,658.5 584.6,661.3 587.4,658.9 590.1,660.8 593.2,662.4 593.9,668.2 593.9,691.4 590.8,693.8 587.4,690.3 584.6,696.5 581.5,692.6 578.5,694.9 575.7,691.4 572.3,695.6 569.2,693.8 566.5,697.9 563.7,694.2 560.7,697.2 557.6,693.8 554.8,696.1 552.1,692.6 549.7,694.2Z" fill="#dadada"/>
<path d="M550.4,676.4 L556,680.6 L561.8,676 L567.6,678.6 L573.4,676.4 L582.7,676 L588.3,676.4 L591.5,680.8 L594,676.2" fill="none" stroke="#111" stroke-width="3" stroke-linejoin="round" stroke-linecap="round"/>
<rect x="561.8" y="695.6" width="1.1" height="11.5" fill="#222"/>
<text x="550" y="727" text-anchor="middle" font-size="13.5" fill="#222" textLength="187" lengthAdjust="spacingAndGlyphs">95% OF POLLS PROJECTED</text>
<text x="550" y="745.5" text-anchor="middle" font-size="13.5" fill="#222" textLength="163.5" lengthAdjust="spacingAndGlyphs">TO FALL IN THIS RANGE</text>
</svg></body></html>
